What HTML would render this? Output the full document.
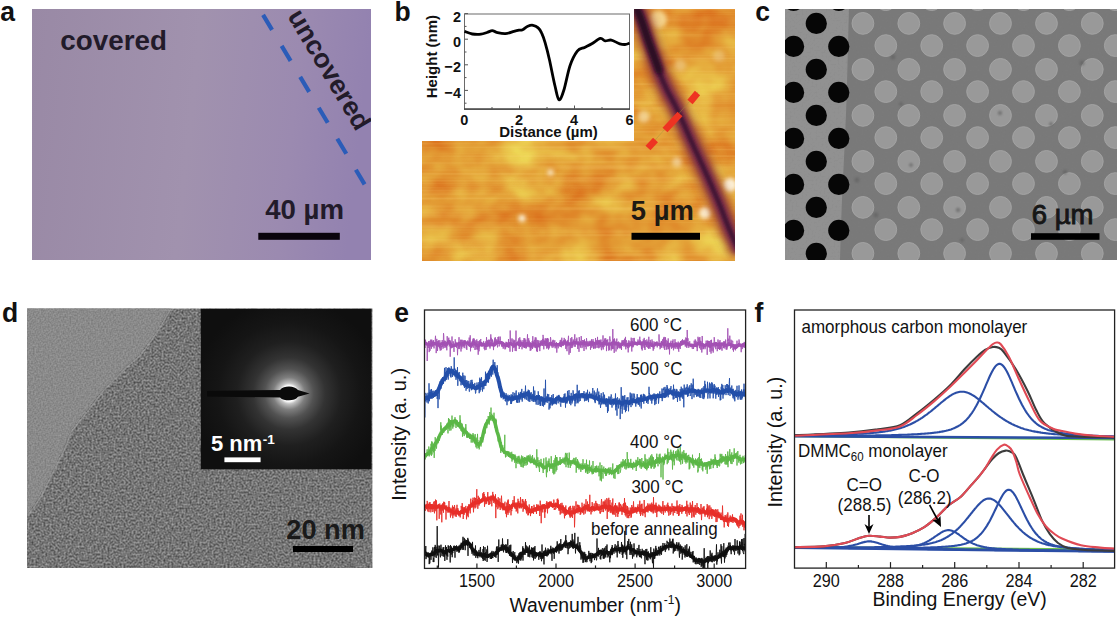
<!DOCTYPE html>
<html><head><meta charset="utf-8"><title>Figure</title>
<style>html,body{margin:0;padding:0;background:#fff;overflow:hidden}svg{display:block}text{font-family:"Liberation Sans",sans-serif}</style>
</head><body><svg width="1118" height="617" viewBox="0 0 1118 617" font-family="Liberation Sans, sans-serif"><defs><linearGradient id="ga" x1="0" y1="0" x2="1" y2="0.08">
<stop offset="0" stop-color="#9989a5"/><stop offset="0.5" stop-color="#a192ae"/><stop offset="0.8" stop-color="#9b8ab0"/><stop offset="1" stop-color="#9382b0"/></linearGradient><clipPath id="clipa"><rect x="32" y="9" width="339" height="251"/></clipPath><filter id="afm" x="0" y="0" width="100%" height="100%" color-interpolation-filters="sRGB">
<feTurbulence type="fractalNoise" baseFrequency="0.022 0.03" numOctaves="3" seed="11" result="t"/>
<feColorMatrix in="t" type="matrix" values="0.1 0 0 0 0.84  0.55 0 0 0 0.345  0.3 0 0 0 0.06  0 0 0 0 1"/>
</filter><filter id="streak" x="0" y="0" width="100%" height="100%" color-interpolation-filters="sRGB">
<feTurbulence type="fractalNoise" baseFrequency="0.004 0.45" numOctaves="1" seed="4" result="t"/>
<feColorMatrix in="t" type="matrix" values="0 0 0 0 1  0 0 0 0 0.85  0 0 0 0 0.5  2.5 0 0 0 -1.1"/>
</filter><clipPath id="clipb"><path d="M422,141H634V9H735V261H422Z"/></clipPath><filter id="bl2" x="-50%" y="-50%" width="200%" height="200%"><feGaussianBlur stdDeviation="2"/></filter><filter id="bl4" x="-50%" y="-50%" width="200%" height="200%"><feGaussianBlur stdDeviation="4"/></filter><filter id="bl1" x="-50%" y="-50%" width="200%" height="200%"><feGaussianBlur stdDeviation="1"/></filter><clipPath id="clipc"><rect x="785" y="9" width="332" height="251"/></clipPath><filter id="semn" x="0" y="0" width="100%" height="100%" color-interpolation-filters="sRGB">
<feTurbulence type="fractalNoise" baseFrequency="0.5" numOctaves="1" seed="2" result="t"/>
<feColorMatrix in="t" type="matrix" values="0 0 0 0 0.5  0 0 0 0 0.5  0 0 0 0 0.5  1.6 0 0 0 -0.8"/>
</filter><clipPath id="clipd"><rect x="27" y="308.4" width="345.4" height="259.6"/></clipPath><clipPath id="clipvac"><path d="M27,300 L172,300 L169.7,308 L156,331.7 L140,354 L124,368 L101.6,390.7 L88,408.8 L69.9,431.5 L63,449.7 L51.7,472 L40.4,495 L26.8,515.4 L20,517 Z"/></clipPath><filter id="grain" x="0" y="0" width="100%" height="100%" color-interpolation-filters="sRGB">
<feTurbulence type="fractalNoise" baseFrequency="0.5" numOctaves="2" seed="5" result="t"/>
<feColorMatrix in="t" type="matrix" values="0.55 0 0 0 0.185  0.55 0 0 0 0.185  0.55 0 0 0 0.185  0 0 0 0 1"/>
</filter><filter id="grain2" x="0" y="0" width="100%" height="100%" color-interpolation-filters="sRGB">
<feTurbulence type="fractalNoise" baseFrequency="0.6" numOctaves="1" seed="9" result="t"/>
<feColorMatrix in="t" type="matrix" values="0.22 0 0 0 0.43  0.22 0 0 0 0.43  0.22 0 0 0 0.43  0 0 0 0 1"/>
</filter><radialGradient id="glow" cx="289" cy="393.5" r="95" gradientUnits="userSpaceOnUse">
<stop offset="0" stop-color="#fff"/><stop offset="0.085" stop-color="#fafafa"/><stop offset="0.11" stop-color="#c0c0c0"/><stop offset="0.17" stop-color="#7e7e7e"/><stop offset="0.26" stop-color="#525252"/><stop offset="0.38" stop-color="#333"/><stop offset="0.55" stop-color="#1f1f1f"/><stop offset="0.75" stop-color="#151515"/><stop offset="1" stop-color="#0f0f0f"/></radialGradient><clipPath id="clipe"><rect x="424.5" y="310" width="321.1" height="258.4"/></clipPath><clipPath id="clipf"><rect x="794.5" y="310" width="320.1" height="258.1"/></clipPath></defs><rect width="1118" height="617" fill="#fff"/><text transform="translate(0.2,21) scale(1.0,1.05)" font-size="26.5" font-weight="bold" fill="#111" text-anchor="start" >a</text><text transform="translate(394.6,20.6) scale(1.0,1.05)" font-size="26.5" font-weight="bold" fill="#111" text-anchor="start" >b</text><text transform="translate(755.2,21) scale(1.0,1.05)" font-size="26.5" font-weight="bold" fill="#111" text-anchor="start" >c</text><text transform="translate(2,321.7) scale(1.0,1.05)" font-size="26.5" font-weight="bold" fill="#111" text-anchor="start" >d</text><text transform="translate(394.2,322.2) scale(1.0,1.05)" font-size="26.5" font-weight="bold" fill="#111" text-anchor="start" >e</text><text transform="translate(754.6,321.8) scale(1.0,1.05)" font-size="26.5" font-weight="bold" fill="#111" text-anchor="start" >f</text><rect x="32" y="9" width="339" height="251" fill="url(#ga)"/><text x="60.3" y="50.1" font-size="27.8" font-weight="bold" fill="#221b2a" text-anchor="start" >covered</text><line x1="262.3" y1="13.6" x2="364.6" y2="184.3" stroke="#2b5cb8" stroke-width="4.2" stroke-dasharray="17.5 18.6" stroke-dashoffset="-1.5"/><g clip-path="url(#clipa)"><text transform="translate(286.9,16.1) rotate(59.1)" font-size="26.8" font-weight="bold" fill="#221b2a">uncovered</text></g><rect x="258.3" y="232.8" width="81.5" height="7" fill="#0a040c"/><text x="265.2" y="219.3" font-size="27.6" font-weight="bold" fill="#221b2a" text-anchor="start" >40 µm</text><g clip-path="url(#clipb)"><rect x="422" y="9" width="313" height="252" fill="#e09a3a"/><rect x="422" y="9" width="313" height="252" filter="url(#afm)"/><rect x="422" y="9" width="313" height="252" filter="url(#streak)" opacity="0.25"/><circle cx="550.5" cy="172.6" r="3" fill="#fff8e0" opacity="0.9" filter="url(#bl2)"/><circle cx="522" cy="218.2" r="3.5" fill="#fffbe8" opacity="0.95" filter="url(#bl2)"/><circle cx="730" cy="185" r="7" fill="#fff8e8" opacity="0.9" filter="url(#bl2)"/><circle cx="705" cy="213" r="6" fill="#fff6dc" opacity="0.9" filter="url(#bl2)"/><circle cx="658" cy="19.5" r="9" fill="#f8e0a0" opacity="0.8" filter="url(#bl2)"/><circle cx="643.8" cy="116.7" r="6" fill="#f8e4b0" opacity="0.7" filter="url(#bl2)"/><circle cx="680" cy="65.6" r="6" fill="#f0d090" opacity="0.6" filter="url(#bl2)"/><circle cx="719" cy="56" r="6" fill="#f0d090" opacity="0.5" filter="url(#bl2)"/><circle cx="677" cy="162" r="5" fill="#f8e8c0" opacity="0.6" filter="url(#bl2)"/><path d="M636,6C636.5,7 637.7,8.5 639,12C640.3,15.5 642.2,21.5 644,27C645.8,32.5 648.2,39.5 650,45C651.8,50.5 653.3,55.2 655,60C656.7,64.8 658,69 660,74C662,79 664.5,84.8 667,90C669.5,95.2 672.5,100 675,105C677.5,110 679.7,114.8 682,120C684.3,125.2 686.2,129.7 689,136C691.8,142.3 695.7,150.7 699,158C702.3,165.3 705.7,172.5 709,180C712.3,187.5 715.8,195.3 719,203C722.2,210.7 725.2,219.2 728,226C730.8,232.8 734,239.7 736,244C738,248.3 739.3,250.7 740,252" fill="none" stroke="#9a4436" stroke-width="20" opacity="0.9" filter="url(#bl4)"/><path d="M636,6C636.5,7 637.7,8.5 639,12C640.3,15.5 642.2,21.5 644,27C645.8,32.5 648.2,39.5 650,45C651.8,50.5 653.3,55.2 655,60C656.7,64.8 658,69 660,74C662,79 664.5,84.8 667,90C669.5,95.2 672.5,100 675,105C677.5,110 679.7,114.8 682,120C684.3,125.2 686.2,129.7 689,136C691.8,142.3 695.7,150.7 699,158C702.3,165.3 705.7,172.5 709,180C712.3,187.5 715.8,195.3 719,203C722.2,210.7 725.2,219.2 728,226C730.8,232.8 734,239.7 736,244C738,248.3 739.3,250.7 740,252" fill="none" stroke="#7a2e46" stroke-width="12" filter="url(#bl2)"/><path d="M636,6C636.5,7 637.7,8.5 639,12C640.3,15.5 642.2,21.5 644,27C645.8,32.5 648.2,39.5 650,45C651.8,50.5 653.3,55.2 655,60C656.7,64.8 658,69 660,74C662,79 664.5,84.8 667,90C669.5,95.2 672.5,100 675,105C677.5,110 679.7,114.8 682,120C684.3,125.2 686.2,129.7 689,136C691.8,142.3 695.7,150.7 699,158C702.3,165.3 705.7,172.5 709,180C712.3,187.5 715.8,195.3 719,203C722.2,210.7 725.2,219.2 728,226C730.8,232.8 734,239.7 736,244C738,248.3 739.3,250.7 740,252" fill="none" stroke="#451636" stroke-width="5" filter="url(#bl1)"/><path d="M637,10C637.8,12 640.2,17 642,22C643.8,27 646,34.3 648,40C650,45.7 652.2,51 654,56C655.8,61 658.2,67.7 659,70" fill="none" stroke="#2a0a22" stroke-width="8" stroke-linecap="round" filter="url(#bl2)"/><line x1="648" y1="148" x2="698" y2="92" stroke="#a09040" stroke-width="0.6" opacity="0.7"/><line x1="648" y1="148" x2="655.5" y2="140" stroke="#ee3322" stroke-width="6.8"/><line x1="665" y1="130" x2="680" y2="114" stroke="#ee3322" stroke-width="6.8"/><line x1="690" y1="102" x2="697.5" y2="93" stroke="#ee3322" stroke-width="6.8"/></g><rect x="631.5" y="232.8" width="68.5" height="7" fill="#000"/><text x="630.8" y="220.4" font-size="27.4" font-weight="bold" fill="#1e1a14" text-anchor="start" >5 µm</text><rect x="464.5" y="14" width="165" height="95" fill="none" stroke="#6a6a6a" stroke-width="1"/><line x1="464" y1="109.2" x2="630" y2="109.2" stroke="#333" stroke-width="1.3"/><line x1="464.5" y1="13.6" x2="468" y2="13.6" stroke="#555" stroke-width="1"/><line x1="464.5" y1="26.4" x2="466.5" y2="26.4" stroke="#555" stroke-width="1"/><line x1="464.5" y1="39.2" x2="468" y2="39.2" stroke="#555" stroke-width="1"/><line x1="464.5" y1="52" x2="466.5" y2="52" stroke="#555" stroke-width="1"/><line x1="464.5" y1="64.8" x2="468" y2="64.8" stroke="#555" stroke-width="1"/><line x1="464.5" y1="77.6" x2="466.5" y2="77.6" stroke="#555" stroke-width="1"/><line x1="464.5" y1="90.4" x2="468" y2="90.4" stroke="#555" stroke-width="1"/><line x1="464.5" y1="103.2" x2="466.5" y2="103.2" stroke="#555" stroke-width="1"/><line x1="492" y1="109" x2="492" y2="107" stroke="#555" stroke-width="1"/><line x1="519.5" y1="109" x2="519.5" y2="105.5" stroke="#555" stroke-width="1"/><line x1="547" y1="109" x2="547" y2="107" stroke="#555" stroke-width="1"/><line x1="574.5" y1="109" x2="574.5" y2="105.5" stroke="#555" stroke-width="1"/><line x1="602" y1="109" x2="602" y2="107" stroke="#555" stroke-width="1"/><text transform="translate(461,22) scale(1.0,1.06)" font-size="14.5" font-weight="bold" fill="#111" text-anchor="end" >2</text><text transform="translate(461,46.5) scale(1.0,1.06)" font-size="14.5" font-weight="bold" fill="#111" text-anchor="end" >0</text><text transform="translate(461,72.1) scale(1.0,1.06)" font-size="14.5" font-weight="bold" fill="#111" text-anchor="end" >−2</text><text transform="translate(461,97.9) scale(1.0,1.06)" font-size="14.5" font-weight="bold" fill="#111" text-anchor="end" >−4</text><text transform="translate(464.3,125.4) scale(1.0,1.06)" font-size="14.5" font-weight="bold" fill="#111" text-anchor="middle" >0</text><text transform="translate(519,125.4) scale(1.0,1.06)" font-size="14.5" font-weight="bold" fill="#111" text-anchor="middle" >2</text><text transform="translate(574,125.4) scale(1.0,1.06)" font-size="14.5" font-weight="bold" fill="#111" text-anchor="middle" >4</text><text transform="translate(629.5,125.4) scale(1.0,1.06)" font-size="14.5" font-weight="bold" fill="#111" text-anchor="middle" >6</text><text x="548.5" y="137.4" font-size="15" font-weight="bold" fill="#111" text-anchor="middle" >Distance (µm)</text><text transform="translate(437.3,56.6) rotate(-90)" font-size="15" font-weight="bold" fill="#111" text-anchor="middle">Height (nm)</text><path d="M464.5,31.4C465.8,31.8 469.6,33.5 472.3,34C475.1,34.5 478.6,34.5 481,34.2C483.4,34 485.1,33.1 487,32.5C488.9,31.9 490.7,30.6 492.3,30.6C493.9,30.6 494.4,31.8 496.6,32.3C498.8,32.8 502.4,33.8 505.3,33.6C508.2,33.5 511.6,32 513.9,31.4C516.2,30.8 517.5,30.5 519,30.2C520.5,29.9 521.1,30.4 522.6,29.7C524.1,29 526.1,26.9 527.8,26.2C529.5,25.5 531.3,25 533,25.3C534.7,25.6 536.8,26.6 538.2,27.9C539.7,29.2 540.6,30.6 541.7,33.1C542.9,35.6 543.8,38.2 545.1,42.7C546.4,47.2 547.9,52.8 549.5,60C551.1,67.2 553.4,79.4 555,86C556.6,92.6 557.5,99 559,99.7C560.5,100.4 562.1,95.7 563.9,90C565.7,84.3 567.8,72.2 570,65.7C572.2,59.2 574.9,54.2 577.3,51.1C579.7,48 582.2,48.6 584.6,47.4C587,46.2 589.2,45.3 591.8,43.8C594.4,42.3 598.2,38.9 600.4,38.4C602.6,37.9 603.4,40.6 605.2,40.9C607,41.2 608.9,39.6 611.3,40.1C613.7,40.6 617.5,43.1 619.8,43.8C622.1,44.5 623.4,44.6 625,44.5C626.6,44.4 628.8,43.4 629.5,43.2" fill="none" stroke="#000" stroke-width="2.8" stroke-linejoin="round"/><g clip-path="url(#clipc)"><rect x="785" y="9" width="332" height="251" fill="#797979"/><path d="M785,9H849C848,40 847.5,70 846.5,100C845.5,130 843.5,170 842,200C841,225 840.5,245 840,260H785Z" fill="#919191"/><rect x="785" y="9" width="332" height="251" filter="url(#semn)" opacity="0.45"/><circle cx="793.6" cy="0.4" r="10.6" fill="#060606"/><circle cx="793.6" cy="46.4" r="10.6" fill="#060606"/><circle cx="793.6" cy="92.4" r="10.6" fill="#060606"/><circle cx="793.6" cy="138.4" r="10.6" fill="#060606"/><circle cx="793.6" cy="184.4" r="10.6" fill="#060606"/><circle cx="793.6" cy="230.4" r="10.6" fill="#060606"/><circle cx="793.6" cy="276.4" r="10.6" fill="#060606"/><circle cx="816.3" cy="23.4" r="10.6" fill="#060606"/><circle cx="816.3" cy="69.4" r="10.6" fill="#060606"/><circle cx="816.3" cy="115.4" r="10.6" fill="#060606"/><circle cx="816.3" cy="161.4" r="10.6" fill="#060606"/><circle cx="816.3" cy="207.4" r="10.6" fill="#060606"/><circle cx="816.3" cy="253.4" r="10.6" fill="#060606"/><circle cx="838.8" cy="0.4" r="10.6" fill="#060606"/><circle cx="838.8" cy="46.4" r="10.6" fill="#060606"/><circle cx="838.8" cy="92.4" r="10.6" fill="#060606"/><circle cx="838.8" cy="138.4" r="10.6" fill="#060606"/><circle cx="838.8" cy="184.4" r="10.6" fill="#060606"/><circle cx="838.8" cy="230.4" r="10.6" fill="#060606"/><circle cx="838.8" cy="276.4" r="10.6" fill="#060606"/><circle cx="862.9" cy="23.4" r="10.9" fill="#999999" stroke="#a5a5a5" stroke-width="0.9"/><circle cx="862.9" cy="69.4" r="10.9" fill="#999999" stroke="#a5a5a5" stroke-width="0.9"/><circle cx="862.9" cy="115.4" r="10.9" fill="#999999" stroke="#a5a5a5" stroke-width="0.9"/><circle cx="862.9" cy="161.4" r="10.9" fill="#999999" stroke="#a5a5a5" stroke-width="0.9"/><circle cx="862.9" cy="207.4" r="10.9" fill="#999999" stroke="#a5a5a5" stroke-width="0.9"/><circle cx="862.9" cy="253.4" r="10.9" fill="#999999" stroke="#a5a5a5" stroke-width="0.9"/><circle cx="885.8" cy="-0.4" r="10.9" fill="#999999" stroke="#a5a5a5" stroke-width="0.9"/><circle cx="885.8" cy="45.6" r="10.9" fill="#999999" stroke="#a5a5a5" stroke-width="0.9"/><circle cx="885.8" cy="91.6" r="10.9" fill="#999999" stroke="#a5a5a5" stroke-width="0.9"/><circle cx="885.8" cy="137.6" r="10.9" fill="#999999" stroke="#a5a5a5" stroke-width="0.9"/><circle cx="885.8" cy="183.6" r="10.9" fill="#999999" stroke="#a5a5a5" stroke-width="0.9"/><circle cx="885.8" cy="229.6" r="10.9" fill="#999999" stroke="#a5a5a5" stroke-width="0.9"/><circle cx="885.8" cy="275.6" r="10.9" fill="#999999" stroke="#a5a5a5" stroke-width="0.9"/><circle cx="908.8" cy="23.4" r="10.9" fill="#999999" stroke="#a5a5a5" stroke-width="0.9"/><circle cx="908.8" cy="69.4" r="10.9" fill="#999999" stroke="#a5a5a5" stroke-width="0.9"/><circle cx="908.8" cy="115.4" r="10.9" fill="#999999" stroke="#a5a5a5" stroke-width="0.9"/><circle cx="908.8" cy="161.4" r="10.9" fill="#999999" stroke="#a5a5a5" stroke-width="0.9"/><circle cx="908.8" cy="207.4" r="10.9" fill="#999999" stroke="#a5a5a5" stroke-width="0.9"/><circle cx="908.8" cy="253.4" r="10.9" fill="#999999" stroke="#a5a5a5" stroke-width="0.9"/><circle cx="931.7" cy="-0.4" r="10.9" fill="#999999" stroke="#a5a5a5" stroke-width="0.9"/><circle cx="931.7" cy="45.6" r="10.9" fill="#999999" stroke="#a5a5a5" stroke-width="0.9"/><circle cx="931.7" cy="91.6" r="10.9" fill="#999999" stroke="#a5a5a5" stroke-width="0.9"/><circle cx="931.7" cy="137.6" r="10.9" fill="#999999" stroke="#a5a5a5" stroke-width="0.9"/><circle cx="931.7" cy="183.6" r="10.9" fill="#999999" stroke="#a5a5a5" stroke-width="0.9"/><circle cx="931.7" cy="229.6" r="10.9" fill="#999999" stroke="#a5a5a5" stroke-width="0.9"/><circle cx="931.7" cy="275.6" r="10.9" fill="#999999" stroke="#a5a5a5" stroke-width="0.9"/><circle cx="954.6" cy="23.4" r="10.9" fill="#999999" stroke="#a5a5a5" stroke-width="0.9"/><circle cx="954.6" cy="69.4" r="10.9" fill="#999999" stroke="#a5a5a5" stroke-width="0.9"/><circle cx="954.6" cy="115.4" r="10.9" fill="#999999" stroke="#a5a5a5" stroke-width="0.9"/><circle cx="954.6" cy="161.4" r="10.9" fill="#999999" stroke="#a5a5a5" stroke-width="0.9"/><circle cx="954.6" cy="207.4" r="10.9" fill="#999999" stroke="#a5a5a5" stroke-width="0.9"/><circle cx="954.6" cy="253.4" r="10.9" fill="#999999" stroke="#a5a5a5" stroke-width="0.9"/><circle cx="977.6" cy="-0.4" r="10.9" fill="#999999" stroke="#a5a5a5" stroke-width="0.9"/><circle cx="977.6" cy="45.6" r="10.9" fill="#999999" stroke="#a5a5a5" stroke-width="0.9"/><circle cx="977.6" cy="91.6" r="10.9" fill="#999999" stroke="#a5a5a5" stroke-width="0.9"/><circle cx="977.6" cy="137.6" r="10.9" fill="#999999" stroke="#a5a5a5" stroke-width="0.9"/><circle cx="977.6" cy="183.6" r="10.9" fill="#999999" stroke="#a5a5a5" stroke-width="0.9"/><circle cx="977.6" cy="229.6" r="10.9" fill="#999999" stroke="#a5a5a5" stroke-width="0.9"/><circle cx="977.6" cy="275.6" r="10.9" fill="#999999" stroke="#a5a5a5" stroke-width="0.9"/><circle cx="1000.5" cy="23.4" r="10.9" fill="#999999" stroke="#a5a5a5" stroke-width="0.9"/><circle cx="1000.5" cy="69.4" r="10.9" fill="#999999" stroke="#a5a5a5" stroke-width="0.9"/><circle cx="1000.5" cy="115.4" r="10.9" fill="#999999" stroke="#a5a5a5" stroke-width="0.9"/><circle cx="1000.5" cy="161.4" r="10.9" fill="#999999" stroke="#a5a5a5" stroke-width="0.9"/><circle cx="1000.5" cy="207.4" r="10.9" fill="#999999" stroke="#a5a5a5" stroke-width="0.9"/><circle cx="1000.5" cy="253.4" r="10.9" fill="#999999" stroke="#a5a5a5" stroke-width="0.9"/><circle cx="1023.5" cy="-0.4" r="10.9" fill="#999999" stroke="#a5a5a5" stroke-width="0.9"/><circle cx="1023.5" cy="45.6" r="10.9" fill="#999999" stroke="#a5a5a5" stroke-width="0.9"/><circle cx="1023.5" cy="91.6" r="10.9" fill="#999999" stroke="#a5a5a5" stroke-width="0.9"/><circle cx="1023.5" cy="137.6" r="10.9" fill="#999999" stroke="#a5a5a5" stroke-width="0.9"/><circle cx="1023.5" cy="183.6" r="10.9" fill="#999999" stroke="#a5a5a5" stroke-width="0.9"/><circle cx="1023.5" cy="229.6" r="10.9" fill="#999999" stroke="#a5a5a5" stroke-width="0.9"/><circle cx="1023.5" cy="275.6" r="10.9" fill="#999999" stroke="#a5a5a5" stroke-width="0.9"/><circle cx="1046.5" cy="23.4" r="10.9" fill="#999999" stroke="#a5a5a5" stroke-width="0.9"/><circle cx="1046.5" cy="69.4" r="10.9" fill="#999999" stroke="#a5a5a5" stroke-width="0.9"/><circle cx="1046.5" cy="115.4" r="10.9" fill="#999999" stroke="#a5a5a5" stroke-width="0.9"/><circle cx="1046.5" cy="161.4" r="10.9" fill="#999999" stroke="#a5a5a5" stroke-width="0.9"/><circle cx="1046.5" cy="207.4" r="10.9" fill="#999999" stroke="#a5a5a5" stroke-width="0.9"/><circle cx="1046.5" cy="253.4" r="10.9" fill="#999999" stroke="#a5a5a5" stroke-width="0.9"/><circle cx="1069.4" cy="-0.4" r="10.9" fill="#999999" stroke="#a5a5a5" stroke-width="0.9"/><circle cx="1069.4" cy="45.6" r="10.9" fill="#999999" stroke="#a5a5a5" stroke-width="0.9"/><circle cx="1069.4" cy="91.6" r="10.9" fill="#999999" stroke="#a5a5a5" stroke-width="0.9"/><circle cx="1069.4" cy="137.6" r="10.9" fill="#999999" stroke="#a5a5a5" stroke-width="0.9"/><circle cx="1069.4" cy="183.6" r="10.9" fill="#999999" stroke="#a5a5a5" stroke-width="0.9"/><circle cx="1069.4" cy="229.6" r="10.9" fill="#999999" stroke="#a5a5a5" stroke-width="0.9"/><circle cx="1069.4" cy="275.6" r="10.9" fill="#999999" stroke="#a5a5a5" stroke-width="0.9"/><circle cx="1092.3" cy="23.4" r="10.9" fill="#999999" stroke="#a5a5a5" stroke-width="0.9"/><circle cx="1092.3" cy="69.4" r="10.9" fill="#999999" stroke="#a5a5a5" stroke-width="0.9"/><circle cx="1092.3" cy="115.4" r="10.9" fill="#999999" stroke="#a5a5a5" stroke-width="0.9"/><circle cx="1092.3" cy="161.4" r="10.9" fill="#999999" stroke="#a5a5a5" stroke-width="0.9"/><circle cx="1092.3" cy="207.4" r="10.9" fill="#999999" stroke="#a5a5a5" stroke-width="0.9"/><circle cx="1092.3" cy="253.4" r="10.9" fill="#999999" stroke="#a5a5a5" stroke-width="0.9"/><circle cx="1115.3" cy="-0.4" r="10.9" fill="#999999" stroke="#a5a5a5" stroke-width="0.9"/><circle cx="1115.3" cy="45.6" r="10.9" fill="#999999" stroke="#a5a5a5" stroke-width="0.9"/><circle cx="1115.3" cy="91.6" r="10.9" fill="#999999" stroke="#a5a5a5" stroke-width="0.9"/><circle cx="1115.3" cy="137.6" r="10.9" fill="#999999" stroke="#a5a5a5" stroke-width="0.9"/><circle cx="1115.3" cy="183.6" r="10.9" fill="#999999" stroke="#a5a5a5" stroke-width="0.9"/><circle cx="1115.3" cy="229.6" r="10.9" fill="#999999" stroke="#a5a5a5" stroke-width="0.9"/><circle cx="1115.3" cy="275.6" r="10.9" fill="#999999" stroke="#a5a5a5" stroke-width="0.9"/><circle cx="893" cy="57" r="2.5" fill="#5e5e5e" opacity="0.6" filter="url(#bl1)"/><circle cx="1000" cy="113" r="2.2" fill="#5e5e5e" opacity="0.6" filter="url(#bl1)"/><circle cx="901" cy="104" r="2" fill="#5e5e5e" opacity="0.6" filter="url(#bl1)"/><circle cx="958" cy="210" r="2.3" fill="#5e5e5e" opacity="0.6" filter="url(#bl1)"/><circle cx="1082" cy="63" r="2.5" fill="#5e5e5e" opacity="0.6" filter="url(#bl1)"/><circle cx="962" cy="240" r="2" fill="#5e5e5e" opacity="0.6" filter="url(#bl1)"/><circle cx="1065" cy="172" r="2.2" fill="#5e5e5e" opacity="0.6" filter="url(#bl1)"/><circle cx="911" cy="165" r="2" fill="#5e5e5e" opacity="0.6" filter="url(#bl1)"/><circle cx="857" cy="180" r="2.5" fill="#5e5e5e" opacity="0.6" filter="url(#bl1)"/><circle cx="876" cy="215" r="2.5" fill="#5e5e5e" opacity="0.6" filter="url(#bl1)"/><circle cx="1051" cy="124" r="2" fill="#5e5e5e" opacity="0.6" filter="url(#bl1)"/></g><rect x="1031" y="233.2" width="68.5" height="6.6" fill="#000"/><text x="1031.8" y="224" font-size="27.5" fill="#161616" text-anchor="start" stroke="#161616" stroke-width="0.9">6 µm</text><g clip-path="url(#clipd)"><rect x="27" y="308" width="346" height="261" filter="url(#grain)"/><g clip-path="url(#clipvac)"><rect x="27" y="308" width="150" height="210" filter="url(#grain2)"/></g><path d="M170.9,308.6 L157.2,332.3 L141.2,354.6 L125.2,368.6 L102.8,391.3 L89.2,409.4 L71.1,432.1 L64.2,450.3 L52.9,472.6 L41.6,495.6 L28,516" fill="none" stroke="#a4a4a4" stroke-width="1.5" opacity="0.6"/></g><rect x="200.8" y="308.8" width="170.7" height="160.5" fill="url(#glow)"/><path d="M207,391 L280,390 C282,387.2 285.5,386.6 289,386.6 C293,386.6 296,387.8 298,390 L309.6,393.4 L298,396.8 C296,399.4 293,400.3 289,400.3 C285.5,400.3 282,399.6 280,397.4 L207,396.6 Z" fill="#0a0a0a"/><text x="211" y="451.3" font-size="22" font-weight="bold" fill="#fff" text-anchor="start" >5 nm<tspan font-size="13.5" dy="-7.8" dx="0.5">-1</tspan></text><rect x="224.4" y="457.4" width="36.2" height="4.8" fill="#fff"/><rect x="293" y="546" width="60" height="6" fill="#000"/><text x="286.3" y="538.7" font-size="27.2" font-weight="bold" fill="#1a1a1a" text-anchor="start" >20 nm</text><g clip-path="url(#clipe)"><path d="M425,343.1l1,0.3l1,0.5l1,0.8l1,-0.2l1,0l1,0l1,-0.9l1,-0.3l1,0.3l1,0l1,0.4l1,0.8l1,0l1,-0.1l1,-0.2l1,-0.4l1,-0.5l1,-0.2l1,0.2l1,0.8l1,0.8l1,-1.2l1,-1.6l1,-1l1,2l1,1.7l1,0.7l1,-0.1l1,-0.2l1,-0.3l1,-0.5l1,-0.4l1,-0.3l1,-0.7l1,0.1l1,0.8l1,0.1l1,-0.7l1,-1.1l1,0.2l1,0.3l1,0.1l1,-0.1l1,0.7l1,1.6l1,0.6l1,-1.3l1,-2.4l1,0.8l1,1l1,0.8l1,0.6l1,0.3l1,-0.2l1,-1.7l1,-0.5l1,1.1l1,-0.1l1,0.3l1,0.8l1,0l1,-0.9l1,-1.1l1,1.4l1,0.1l1,-1.2l1,0.7l1,0.5l1,-0.1l1,-0.4l1,-1l1,-1.3l1,0.1l1,0.2l1,0l1,0.5l1,0.3l1,0.2l1,1.2l1,0.5l1,-0.2l1,0.5l1,-0.4l1,-1.2l1,-0.3l1,0.3l1,0.7l1,0.5l1,0.2l1,-0.1l1,-0.5l1,-0.8l1,-0.6l1,1.4l1,0.3l1,-0.9l1,-0.4l1,0.5l1,1l1,-0.2l1,-0.6l1,-0.5l1,0.5l1,0.2l1,-0.4l1,0.8l1,0.1l1,-0.6l1,-0.8l1,0.5l1,1.7l1,0.3l1,-0.4l1,-0.6l1,-0.4l1,-0.7l1,-0.9l1,-0.1l1,-0.2l1,-0.4l1,1l1,1l1,0.6l1,-0.5l1,-0.6l1,-0.3l1,0.4l1,0.1l1,-0.1l1,0.3l1,0.2l1,0.1l1,0l1,0.1l1,0.1l1,-0.9l1,-0.1l1,0.6l1,-1.4l1,-0.4l1,0.7l1,0l1,0.3l1,0.4l1,-0.1l1,0l1,0.2l1,-1.1l1,-0.5l1,0.3l1,-0.1l1,0.2l1,0.7l1,0.3l1,0l1,-0.3l1,-0.2l1,-0.2l1,-0.2l1,0.2l1,0.4l1,0.4l1,0.5l1,0l1,-0.4l1,-0.7l1,-0.5l1,-0.1l1,0.9l1,0.1l1,-0.7l1,0.2l1,-0.6l1,-1.1l1,1.3l1,0.9l1,0l1,-0.3l1,-0.2l1,0.2l1,0.5l1,0.2l1,-0.2l1,0.1l1,0.1l1,-0.1l1,-0.7l1,-0.8l1,-0.6l1,1.3l1,0.5l1,-0.4l1,0.9l1,0.7l1,0.3l1,-0.7l1,-0.6l1,-0.4l1,-0.3l1,0.5l1,1.3l1,-0.3l1,-0.4l1,-0.3l1,0.6l1,-0.2l1,-0.9l1,-0.2l1,-0.1l1,-0.1l1,0.4l1,-0.2l1,-0.6l1,0l1,0.3l1,0.5l1,-0.4l1,-0.4l1,-0.1l1,0.8l1,0.1l1,-0.5l1,0.1l1,0.6l1,0.6l1,-0.1l1,0.5l1,1l1,-0.5l1,-1l1,-1l1,0.4l1,0.4l1,0.2l1,0.5l1,-0.3l1,-1.2l1,0.1l1,0.7l1,0.8l1,-0.1l1,0.2l1,0.4l1,-0.8l1,-0.3l1,0.4l1,-0.2l1,0.4l1,0.8l1,-1.1l1,-0.2l1,0.9l1,-0.2l1,-0.2l1,-0.2l1,-0.5l1,-0.5l1,-0.4l1,-0.6l1,0.2l1,0.8l1,-0.4l1,0.4l1,1.1l1,0.2l1,0l1,0.1l1,0.5l1,-0.1l1,-0.5l1,0.4l1,-0.5l1,-1.3l1,-0.2l1,0.6l1,0.9l1,-0.3l1,0.4l1,0.9l1,-0.3l1,-0.7l1,-0.7l1,0.9l1,0.4l1,-0.3l1,-0.4l1,-0.1l1,-0.1l1,-0.5l1,-0.2l1,0.1l1,0.8l1,0l1,-0.5l1,0l1,-0.1l1,-0.3l1,0.2l1,0.5l1,0.4l1,0.3l1,-0.1l1,-0.4l1,-0.5l1,0l1,0.4l1,0.6l1,0.3l1,0.1l1,1.4l1,0.3l1,-1.1l1,-0.8l1,-0.5l1,-0.2l1,0.7l1,-0.1l1,-0.8l1,0.1l1,-0.4l1,-0.8" fill="none" stroke="#a452b4" stroke-width="3.2" stroke-linejoin="round"/><path d="M425,347.2l0.2,0.6l0.3,-8.1l0.3,3.7l0.2,0.6l0.2,-0.1l0.3,-0.3l0.3,-0.1l0.2,1.5l0.2,16l0.3,-12.7l0.3,-3.1l0.2,1l0.2,1.8l0.3,-6.8l0.3,4.8l0.2,-0.8l0.2,6.9l0.3,-5.6l0.3,-5.6l0.2,9.9l0.2,-6.6l0.3,-0.5l0.3,-4.1l0.2,7.2l0.2,-6.6l0.3,8.5l0.3,-9l0.2,6.2l0.2,-2l0.3,1.2l0.3,1.7l0.2,-6l0.2,5l0.3,-5.5l0.3,2.3l0.2,5.8l0.2,-3.4l0.3,-2.9l0.3,2.7l0.2,-0.7l0.2,-4.4l0.3,-3.9l0.3,7.4l0.2,0.4l0.2,9.5l0.3,-7.4l0.3,-6.8l0.2,7.3l0.2,-4.9l0.3,9.7l0.3,-3.9l0.2,-6l0.2,3.6l0.3,-4.3l0.3,3.2l0.2,3.4l0.2,-1.9l0.3,3.2l0.3,-8.1l0.2,4.1l0.2,6.3l0.3,-5.7l0.3,-0.6l0.2,3.2l0.2,2.7l0.3,-4.2l0.3,1.1l0.2,-4.3l0.2,-2.7l0.3,6.5l0.3,-2.7l0.2,4.8l0.2,-0.9l0.3,-14.6l0.3,2.3l0.2,11.2l0.2,1.1l0.3,-5.7l0.3,-1.6l0.2,5l0.2,-4.5l0.3,0.7l0.3,6l0.2,0l0.2,-1.7l0.3,-3.4l0.3,7.7l0.2,-6.5l0.2,-7.6l0.3,7.6l0.3,-1.6l0.2,-1.6l0.2,0.5l0.3,-0.6l0.3,-2.8l0.2,5l0.2,3.6l0.3,-0.4l0.3,-0.2l0.2,-5.2l0.2,16.2l0.3,-11.3l0.3,2.2l0.2,-3.7l0.2,3.3l0.3,1l0.3,-3.8l0.2,-7.9l0.2,10.2l0.3,0.8l0.3,-0.8l0.2,-0.8l0.2,-4.6l0.3,2.8l0.3,3.7l0.2,4.1l0.2,-8.3l0.3,3.4l0.3,-1.1l0.2,0.8l0.2,-7.4l0.3,6.3l0.3,-3.8l0.2,5.1l0.2,-1.1l0.3,1.8l0.3,-4.9l0.2,1.8l0.2,-0.7l0.3,11.4l0.3,-6.7l0.2,-1.1l0.2,-3.7l0.3,0.3l0.3,4.8l0.2,-11.6l0.2,11.9l0.3,-6l0.3,3.8l0.2,-3l0.2,-0.1l0.3,-2.8l0.3,-1.3l0.2,11.8l0.2,-11.6l0.3,5.4l0.3,3.3l0.2,-6.1l0.2,-2.7l0.3,3.4l0.3,2.9l0.2,0.9l0.2,-4.1l0.3,3l0.3,-4.4l0.2,-1.5l0.2,8.1l0.3,-7.6l0.3,5.6l0.2,-3.3l0.2,1.5l0.3,-3.9l0.3,2.2l0.2,-1l0.2,6.9l0.3,-3.3l0.3,4.7l0.2,-4.9l0.2,-2.5l0.3,1.8l0.3,-3.8l0.2,4.8l0.2,-3.6l0.3,2.1l0.3,-0.9l0.2,3.2l0.2,-8.5l0.3,6.3l0.3,-0.8l0.2,1.1l0.2,-8.9l0.3,16l0.3,-6.8l0.2,3.5l0.2,-5l0.3,2.6l0.3,0.3l0.2,-2.3l0.2,-0.2l0.3,1.5l0.3,-0.6l0.2,-5.6l0.2,9.1l0.3,-9.2l0.3,3.4l0.2,-1l0.2,-2.4l0.3,2.7l0.3,2.8l0.2,5.9l0.2,-9.7l0.3,5.3l0.3,-0.6l0.2,2.7l0.2,1.8l0.3,-6.6l0.3,-3.5l0.2,5.6l0.2,-3.8l0.3,8.4l0.3,-5l0.2,1.9l0.2,8.2l0.3,-11.1l0.3,-2.5l0.2,10.2l0.2,-1.6l0.3,-3.3l0.3,-6.3l0.2,5.4l0.2,-2.6l0.3,-2.4l0.3,-1.5l0.2,7.4l0.2,-3.3l0.3,2.3l0.3,1.2l0.2,-0.7l0.2,-1.9l0.3,2.4l0.3,-0.2l0.2,0.2l0.2,-2l0.3,-3.1l0.3,0l0.2,2.5l0.2,5l0.3,-3.7l0.3,5.1l0.2,-0.8l0.2,-4.6l0.3,1.2l0.3,-4.6l0.2,8.5l0.2,-0.9l0.3,-11.8l0.3,5.4l0.2,4.4l0.2,0l0.3,-6.3l0.3,2.6l0.2,-3.2l0.2,4.7l0.3,0.1l0.3,-5.3l0.2,1.8l0.2,5.2l0.3,-6.7l0.3,1.5l0.2,7.1l0.2,-4.2l0.3,-0.5l0.3,-9.4l0.2,6.4l0.2,-3l0.3,3.5l0.3,5l0.2,-6.4l0.2,2.1l0.3,-2.5l0.3,5.6l0.2,-2.4l0.2,-0.1l0.3,7.5l0.3,-7.4l0.2,3.9l0.2,-5.9l0.3,2.2l0.3,-4.7l0.2,8l0.2,-9l0.3,1.5l0.3,4.7l0.2,-0.4l0.2,-0.6l0.3,-1l0.3,-2.1l0.2,3.4l0.2,1.4l0.3,3.3l0.3,-2.6l0.2,-7.8l0.2,4.9l0.3,-0.9l0.3,-4.4l0.2,6.2l0.2,3.6l0.3,-2.1l0.3,-4l0.2,-1.5l0.2,-2.2l0.3,4l0.3,0.2l0.2,2.5l0.2,-2.3l0.3,5.5l0.3,-3.9l0.2,-1.4l0.2,0.4l0.3,4.9l0.3,0.6l0.2,-3.4l0.2,5l0.3,-2.3l0.3,-0.1l0.2,-1.3l0.2,0.9l0.3,-0.6l0.3,0.7l0.2,3.4l0.2,-5.3l0.3,4.5l0.3,-0.4l0.2,-6.4l0.2,3.3l0.3,1.5l0.3,-4.5l0.2,2.7l0.2,-2.1l0.3,3.7l0.3,-1.1l0.2,-1.6l0.2,3.8l0.3,-8.5l0.3,8.9l0.2,-3.7l0.2,-0.9l0.3,3.2l0.3,-1.9l0.2,7.1l0.2,-21.2l0.3,13.5l0.3,-1.2l0.2,1.6l0.2,0l0.3,-2.6l0.3,-3.1l0.2,0.1l0.2,-0.3l0.3,13.2l0.3,-4l0.2,-6l0.2,-2.2l0.3,3.6l0.3,4.7l0.2,-6.8l0.2,6.4l0.3,-3.1l0.3,-4.4l0.2,9.4l0.2,1.6l0.3,-4.7l0.3,-1l0.2,-14.6l0.2,20.5l0.3,-8.5l0.3,2l0.2,-0.3l0.2,-1.3l0.3,1.3l0.3,-2.4l0.2,1l0.2,-2.3l0.3,5.3l0.3,-7.6l0.2,6.4l0.2,4.3l0.3,-2.2l0.3,-9.5l0.2,5.6l0.2,-1.1l0.3,5.1l0.3,-7l0.2,5.4l0.2,-3.8l0.3,0.8l0.3,1.2l0.2,5.8l0.2,-4.1l0.3,-2.4l0.3,3.9l0.2,-6.5l0.2,4.2l0.3,-2.5l0.3,5.6l0.2,-9.4l0.2,8l0.3,1.9l0.3,-9.7l0.2,9.2l0.2,0.2l0.3,-2l0.3,-6.1l0.2,9l0.2,-6.1l0.3,5.4l0.3,-4.6l0.2,-1.1l0.2,-2.2l0.3,-5.7l0.3,12.6l0.2,-5l0.2,1.9l0.3,-5l0.3,-0.6l0.2,9l0.2,-6.6l0.3,6.6l0.3,-2.7l0.2,-1.8l0.2,8.1l0.3,-3.8l0.3,-4.5l0.2,7.8l0.2,-7.2l0.3,4.5l0.3,-2.5l0.2,0.4l0.2,-4.4l0.3,7.9l0.3,-12.8l0.2,10.4l0.2,-5.2l0.3,2.5l0.3,-0.4l0.2,4.1l0.2,-7.6l0.3,-0.1l0.3,2.1l0.2,5.4l0.2,-10l0.3,6.7l0.3,4l0.2,-10.6l0.2,5.8l0.3,8l0.3,-5.4l0.2,-6l0.2,10.4l0.3,1.5l0.3,-10.3l0.2,-1.3l0.2,6.6l0.3,-4.3l0.3,3.1l0.2,-5l0.2,7l0.3,-3.1l0.3,6.6l0.2,-3.9l0.2,-2.7l0.3,-1.3l0.3,-2.2l0.2,2.2l0.2,-3.1l0.3,4.8l0.3,-0.8l0.2,1.4l0.2,-2.1l0.3,-4.6l0.3,7.2l0.2,-11.1l0.2,1.3l0.3,2.4l0.3,10.7l0.2,-9.7l0.2,1.9l0.3,0.7l0.3,2.8l0.2,0.9l0.2,-7.7l0.3,0.9l0.3,7l0.2,-1.4l0.2,-1.9l0.3,-4.1l0.3,10l0.2,-10.1l0.2,9.3l0.3,-9.9l0.3,7.2l0.2,-0.1l0.2,-6.5l0.3,10.9l0.3,-5.2l0.2,-0.3l0.2,4.3l0.3,-2.9l0.3,-3.3l0.2,0.4l0.2,2.2l0.3,-7.6l0.3,1.9l0.2,6.6l0.2,0.7l0.3,-2.8l0.3,2.6l0.2,-4.4l0.2,6.1l0.3,-6.7l0.3,-0.7l0.2,2l0.2,-2.6l0.3,2.7l0.3,4.9l0.2,-1.8l0.2,0.4l0.3,-3.1l0.3,-2.6l0.2,5.3l0.2,2.7l0.3,-3.2l0.3,-0.6l0.2,2l0.2,-0.8l0.3,-3.5l0.3,10.4l0.2,-8.8l0.2,2.4l0.3,-2.4l0.3,0l0.2,3l0.2,1.5l0.3,-2l0.3,-1.3l0.2,-1.8l0.2,-0.2l0.3,-0.9l0.3,2.5l0.2,1.7l0.2,-6l0.3,6.4l0.3,-4.9l0.2,-2l0.2,3.1l0.3,4.3l0.3,-9.5l0.2,4.1l0.2,2.1l0.3,-2l0.3,1.8l0.2,-2.6l0.2,3.6l0.3,-3.1l0.3,-1.5l0.2,1.1l0.2,-3.3l0.3,3.8l0.3,-1l0.2,3.5l0.2,-3l0.3,-1.7l0.3,9.4l0.2,-8.1l0.2,4.9l0.3,-2.9l0.3,5.3l0.2,3.1l0.2,-7.4l0.3,-3.4l0.3,5.9l0.2,-1.9l0.2,-5l0.3,-3.6l0.3,10.5l0.2,8.4l0.2,-8.2l0.3,-1.2l0.3,-0.3l0.2,-2.3l0.2,10.2l0.3,-7.2l0.3,-7.5l0.2,6l0.2,3.9l0.3,-2.8l0.3,-8.2l0.2,4.3l0.2,6.4l0.3,-1l0.3,-2.3l0.2,-0.2l0.2,-4.8l0.3,1.9l0.3,0.9l0.2,2.3l0.2,2l0.3,-8.7l0.3,-3.6l0.2,4l0.2,8.5l0.3,-1.7l0.3,-0.7l0.2,-1l0.2,-4.2l0.3,4.2l0.3,-5.7l0.2,1.2l0.2,3.1l0.3,3.1l0.3,3.9l0.2,-3.6l0.2,-0.8l0.3,0l0.3,-3.3l0.2,10.5l0.2,-14.7l0.3,3.4l0.3,-0.5l0.2,3.6l0.2,0.4l0.3,3.6l0.3,-6.6l0.2,3.7l0.2,-8.6l0.3,4.1l0.3,1.3l0.2,6.6l0.2,-6.8l0.3,-0.2l0.3,-1.1l0.2,6.6l0.2,-0.3l0.3,-5.5l0.3,-0.6l0.2,10.8l0.2,-7.3l0.3,-4.3l0.3,5.9l0.2,-3.7l0.2,5.3l0.3,-5.2l0.3,2.7l0.2,1l0.2,3.9l0.3,-11.1l0.3,3.2l0.2,2.3l0.2,-2.4l0.3,1.4l0.3,3.8l0.2,-0.4l0.2,0.2l0.3,-3.8l0.3,1.6l0.2,-3.2l0.2,1.6l0.3,0.9l0.3,-1.2l0.2,1.9l0.2,-3.3l0.3,9l0.3,-3.3l0.2,-5l0.2,3.6l0.3,-5.8l0.3,8.5l0.2,-7.1l0.2,5.4l0.3,-2.4l0.3,2.6l0.2,-7.2l0.2,1.4l0.3,8.3l0.3,-3.2l0.2,2.5l0.2,-5.4l0.3,-0.3l0.3,-0.2l0.2,6.6l0.2,-0.4l0.3,-10.4l0.3,10l0.2,-4.9l0.2,0.2l0.3,0.1l0.3,-3.3l0.2,2.7l0.2,5l0.3,-10.9l0.3,6l0.2,-2.5l0.2,3.1l0.3,1.3l0.3,3.5l0.2,-5.3l0.2,4.6l0.3,-4.3l0.3,-2.5l0.2,-1l0.2,5.1l0.3,0l0.3,2.3l0.2,-7.6l0.2,9.3l0.3,1.3l0.3,-3.7l0.2,-1.9l0.2,0.8l0.3,1.9l0.3,-2.7l0.2,-9.2l0.2,14.1l0.3,-8.1l0.3,-0.6l0.2,6.2l0.2,-5.3l0.3,-2.2l0.3,5.8l0.2,-7.1l0.2,2l0.3,4.8l0.3,-6.5l0.2,6.6l0.2,-5l0.3,11l0.3,-6.3l0.2,-4.9l0.2,2.8l0.3,-2.7l0.3,-0.6l0.2,4.7l0.2,-0.3l0.3,1.8l0.3,5.1l0.2,-8.2l0.2,5.1l0.3,2.3l0.3,-13.5l0.2,3.7l0.2,-0.3l0.3,0.4l0.3,1.1l0.2,6.4l0.2,2.8l0.3,-7.8l0.3,5.9l0.2,-5.8l0.2,4l0.3,2.3l0.3,-20l0.2,10.6l0.2,9.3l0.3,-9.7l0.3,5.1l0.2,-4.5l0.2,13l0.3,-14.4l0.3,1.9l0.2,5l0.2,-2.1l0.3,-0.9l0.3,0.6l0.2,8.5l0.2,-5l0.3,-3.3l0.3,-4.6l0.2,5.7l0.2,-0.8l0.3,5.7l0.3,-4.9l0.2,3.8l0.2,-2.8l0.3,-3.7l0.3,3.4l0.2,0.7l0.2,1.3l0.3,1.3l0.3,-6l0.2,4.5l0.2,-1.4l0.3,2.9l0.3,-4.5l0.2,3.8l0.2,-1.7l0.3,4.1l0.3,-7.7l0.2,-2l0.2,3.5l0.3,2.1l0.3,-5l0.2,0.9l0.2,-1.8l0.3,1.5l0.3,0.3l0.2,4.8l0.2,-2.3l0.3,-5.6l0.3,6.5l0.2,-3.6l0.2,0.4l0.3,-5.1l0.3,12.4l0.2,-4.5l0.2,-2.4l0.3,-2.1l0.3,1.7l0.2,4.2l0.2,-0.7l0.3,2.5l0.3,0l0.2,-2.7l0.2,7.1l0.3,-7.9l0.3,-4.2l0.2,2.9l0.2,4.2l0.3,-2.3l0.3,-1.5l0.2,-2.4l0.2,0.8l0.3,1.1l0.3,3l0.2,-2.1l0.2,-6.3l0.3,5l0.3,8.8l0.2,-10.6l0.2,5.6l0.3,-4.8l0.3,5.7l0.2,-9.4l0.2,4.6l0.3,3.9l0.3,-1.3l0.2,-2l0.2,-5.3l0.3,3.7l0.3,3.3l0.2,-3.4l0.2,1.7l0.3,0.7l0.3,-0.3l0.2,1.5l0.2,-2.4l0.3,0.2l0.3,1.2l0.2,0.1l0.2,1.5l0.3,-2.5l0.3,1.9l0.2,-5.6l0.2,2l0.3,3.2l0.3,-1.8l0.2,0.3l0.2,1.6l0.3,-0.1l0.3,-8l0.2,7l0.2,0.4l0.3,-3.6l0.3,1.2l0.2,3.5l0.2,-0.2l0.3,4.1l0.3,-7.4l0.2,1.5l0.2,7.3l0.3,-7.5l0.3,2l0.2,1.1l0.2,-6.7l0.3,0.7l0.3,4.8l0.2,2.8l0.2,-9.8l0.3,10.3l0.3,-2.4l0.2,4.2l0.2,-9.9l0.3,0.8l0.3,3.6l0.2,0.8l0.2,-1.7l0.3,3.2l0.3,-7.3l0.2,0.9l0.2,1.4l0.3,1.7l0.3,4.2l0.2,-5.7l0.2,4.5l0.3,2.3l0.3,-12l0.2,8.5l0.2,2.3l0.3,-2.4l0.3,1.9l0.2,1.7l0.2,-8.9l0.3,3.1l0.3,-1.1l0.2,4.9l0.2,-2l0.3,0.2l0.3,1.9l0.2,-7.5l0.2,7.5l0.3,-1.6l0.3,0l0.2,-4.1l0.2,9.5l0.3,-6.5l0.3,4.9l0.2,-0.5l0.2,-5.8l0.3,-1.1l0.3,1.2l0.2,0.3l0.2,1.3l0.3,0.6l0.3,-0.1l0.2,1.1l0.2,-1.9l0.3,0.1l0.3,-1.8l0.2,-1.1l0.2,6l0.3,-2.8l0.3,-0.6l0.2,1.2l0.2,-0.8l0.3,0.6l0.3,0.1l0.2,-10.7l0.2,5.6l0.3,1.3l0.3,-0.2l0.2,8.1l0.2,-0.3l0.3,-2.8l0.3,1.2l0.2,-2.9l0.2,2.5l0.3,-5.9l0.3,6.9l0.2,-2.5l0.2,-3.1l0.3,-2.9l0.3,2.3l0.2,0.4l0.2,4.1l0.3,-8.5l0.3,3.5l0.2,7.1l0.2,-11.4l0.3,7.8l0.3,5.3l0.2,-9.6l0.2,2.4l0.3,-5.5l0.3,6.1l0.2,-3.5l0.2,2.8l0.3,6.9l0.3,-3.1l0.2,-3.3l0.2,-2.4l0.3,4.7l0.3,-3.1l0.2,7l0.2,-11l0.3,10.5l0.3,-0.7l0.2,-2.8l0.2,-1.8l0.3,10.8l0.3,-10.9l0.2,3.7l0.2,-3l0.3,-1.7l0.3,0.3l0.2,-2.1l0.2,5l0.3,3l0.3,-5.4l0.2,1.4l0.2,0l0.3,-3.6l0.3,6.7l0.2,-8.4l0.2,7.9l0.3,3l0.3,-3l0.2,-3.5l0.2,2.5l0.3,1l0.3,-1.9l0.2,-6.2l0.2,9.6l0.3,-6.3l0.3,0.6l0.2,1.7l0.2,-1.3l0.3,3.4l0.3,-4.6l0.2,6.3l0.2,-2.1l0.3,-3.2l0.3,1.8l0.2,4l0.2,-7.5l0.3,8.6l0.3,1.5l0.2,-6l0.2,-2.9l0.3,4.6l0.3,-1.7l0.2,-3l0.2,6.3l0.3,-8l0.3,3.7l0.2,-2.9l0.2,1l0.3,-2.3l0.3,3.6l0.2,-3.1l0.2,2l0.3,-3.7l0.3,2.4l0.2,-1.4l0.2,0.9l0.3,-0.4l0.3,1.5l0.2,-1.6l0.2,0.5l0.3,1.6l0.3,-3l0.2,0.3l0.2,6.3l0.3,-1.6l0.3,-7.3l0.2,2.3l0.2,6.9l0.3,-8.4l0.3,9.6l0.2,-3.4l0.2,-14.5l0.3,10.9l0.3,0.5l0.2,-3.1l0.2,8l0.3,0.3l0.3,1.2l0.2,-3l0.2,-1.7l0.3,-1.4l0.3,-0.5l0.2,4.2l0.2,1.4l0.3,-0.2l0.3,-1.9l0.2,2.2l0.2,0.3l0.3,-2.9l0.3,2.3l0.2,-1.2l0.2,3.5l0.3,-0.3l0.3,-1l0.2,-3.1l0.2,2.5l0.3,2l0.3,-1.9l0.2,-2l0.2,-4.4l0.3,4.2l0.3,-0.7l0.2,2.5l0.2,-7.3l0.3,4.5l0.3,2.3l0.2,-5.4l0.2,4.1l0.3,-1.5l0.3,4l0.2,-5.2l0.2,8.9l0.3,-6.9l0.3,0.2l0.2,-7.6l0.2,3.9l0.3,2.9l0.3,-0.6l0.2,-5l0.2,8.7l0.3,1.5l0.3,-11.2l0.2,2.3l0.2,6.4l0.3,-4.8l0.3,8.8l0.2,-8.5l0.2,4.4l0.3,-2.7l0.3,9.6l0.2,-5.3l0.2,-11.2l0.3,7.4l0.3,0.5l0.2,5.4l0.2,-5.6l0.3,5.1l0.3,-5.1l0.2,1.1l0.2,1.6l0.3,-1.5l0.3,1.9l0.2,2.4l0.2,-0.8l0.3,-1.1l0.3,-3.4l0.2,-2.7l0.2,-0.6l0.3,1.7l0.3,0.5l0.2,0.2l0.2,11.8l0.3,-14.2l0.3,4.8l0.2,-1.2l0.2,-2.2l0.3,-1.1l0.3,4.4l0.2,-3.9l0.2,6.6l0.3,-6.8l0.3,2.1l0.2,8.5l0.2,-7.9l0.3,4.1l0.3,-7.9l0.2,13.5l0.2,-1.9l0.3,-11.9l0.3,6.6l0.2,4.4l0.2,0.1l0.3,-7.1l0.3,-1l0.2,1l0.2,8.8l0.3,-4.5l0.3,-0.7l0.2,-6l0.2,-4.2l0.3,2.6l0.3,3.3l0.2,4.1l0.2,-2.8l0.3,-2.4l0.3,7.2l0.2,-4.3l0.2,-1.8l0.3,-1.1l0.3,1.6l0.2,1.2l0.2,6.4l0.3,-1.9l0.3,-3.7l0.2,-6.1l0.2,7.4l0.3,2.1l0.3,-3.7l0.2,0.7l0.2,-4.2l0.3,8.1l0.3,-6l0.2,-3.8l0.2,9.1l0.3,-5.1l0.3,5.1l0.2,-1.2l0.2,-0.9l0.3,-0.3l0.3,-2.9l0.2,6.8l0.2,-7l0.3,-0.4l0.3,1.3l0.2,0.7l0.2,-2.3l0.3,5.1l0.3,-6.9l0.2,5.3l0.2,-0.4l0.3,-4.2l0.3,6.6l0.2,-7.2l0.2,5.4l0.3,-7l0.3,0l0.2,4.4l0.2,5.5l0.3,-4.9l0.3,4.8l0.2,0.1l0.2,-1l0.3,-2.1l0.3,-18.2l0.2,12.7l0.2,-2.3l0.3,5.8l0.3,-2.7l0.2,3.2l0.2,-0.9l0.3,0.9l0.3,-9.3l0.2,8.6l0.2,0.8l0.3,3.5l0.3,-1.6l0.2,-7.3l0.2,1l0.3,6.9l0.3,-1.7l0.2,-5.1l0.2,0.3l0.3,-0.1l0.3,-0.1l0.2,9.2l0.2,-4.9l0.3,6.4l0.3,-6.3l0.2,4.1l0.2,-3.3l0.3,1.7l0.3,0.8l0.2,-0.9l0.2,1.5l0.3,1.1l0.3,-6.3l0.2,3.6l0.2,0.4l0.3,-2l0.3,-2.1l0.2,-3.2l0.2,5l0.3,2.3l0.3,-1.3l0.2,-1.6l0.2,0.1l0.3,-2l0.3,1.3l0.2,-5l0.2,1l0.3,3.9l0.3,1.2l0.2,1.3l0.2,-2.1l0.3,-0.5l0.3,3.3l0.2,0.3l0.2,4.3l0.3,-6.8l0.3,-1.2l0.2,1.8l0.2,2.8l0.3,0l0.3,-4l0.2,0.9l0.2,-1.9l0.3,3.3l0.3,-2.4l0.2,2.7l0.2,-5.5l0.3,4.3l0.3,1.6l0.2,-3.1l0.2,0l0.3,-0.3l0.3,2.4l0.2,-8.3" fill="none" stroke="#a452b4" stroke-width="0.9" stroke-linejoin="bevel"/><path d="M425,398.5l1,-0.5l1,0.1l1,0.4l1,-1.8l1,-0.7l1,0.4l1,-0.9l1,-0.4l1,0l1,-1.1l1,-1.1l1,-1.1l1,-1.2l1,-2l1,-2.7l1,-2.3l1,-2.1l1,-1.9l1,-0.8l1,-1l1,-1.8l1,-2.6l1,-1.5l1,-0.3l1,-0.4l1,-0.3l1,0l1,1.1l1,1.1l1,0.8l1,-0.5l1,0.7l1,2l1,0.6l1,0.9l1,1.2l1,1.3l1,1.4l1,1.5l1,1.6l1,0.6l1,-0.2l1,0.7l1,0.4l1,0.1l1,0.4l1,0.2l1,0.1l1,0.6l1,0.5l1,0.3l1,-0.9l1,-0.4l1,0l1,-1.3l1,-0.7l1,0l1,-0.2l1,-1.2l1,-1.8l1,-0.6l1,-1.5l1,-2.7l1,-2.8l1,-2.3l1,-1.7l1,-2.4l1,-1.2l1,0.5l1,1.8l1,2.9l1,3.6l1,2.7l1,3.8l1,4.9l1,3.8l1,2.7l1,1.7l1,1.2l1,0.7l1,0.3l1,0.6l1,0.5l1,0.2l1,-0.1l1,0.1l1,0.3l1,0.1l1,-0.5l1,-0.9l1,0l1,0.1l1,0.2l1,-0.5l1,-1.1l1,-1.3l1,0.1l1,0.5l1,0.3l1,-1.2l1,-0.7l1,0.1l1,0.1l1,1l1,1.8l1,0.6l1,0l1,-0.2l1,0.6l1,0.5l1,0l1,-0.9l1,-0.4l1,0.5l1,1l1,0.3l1,-0.1l1,1.6l1,0.4l1,-1l1,-0.4l1,-0.2l1,0l1,0.1l1,0l1,0.1l1,0.6l1,0.9l1,0.6l1,-0.7l1,-1.2l1,-1.1l1,-0.1l1,0.1l1,0.3l1,0.9l1,0.5l1,-0.3l1,-0.6l1,0.5l1,1.2l1,-1.4l1,-1.5l1,-0.7l1,0.8l1,0.4l1,-0.3l1,-0.5l1,-0.9l1,-1.1l1,0.2l1,0.2l1,0l1,-0.6l1,-0.1l1,0.3l1,-0.8l1,0.2l1,1.2l1,-0.6l1,0.2l1,1l1,-0.4l1,-0.4l1,-0.1l1,0.5l1,0.2l1,0l1,1l1,0.3l1,-0.4l1,0.5l1,0.6l1,0.7l1,0.5l1,0.4l1,0.3l1,-0.5l1,0.5l1,1.1l1,-0.4l1,-0.5l1,-0.3l1,0.2l1,0.9l1,1.1l1,-1.2l1,-0.7l1,0.3l1,1.2l1,0.6l1,-0.2l1,-0.9l1,0l1,0.8l1,0.5l1,0.1l1,-0.3l1,-0.8l1,-0.3l1,0.2l1,-0.2l1,0.5l1,0.9l1,-0.8l1,-1.2l1,-0.9l1,0.6l1,0.2l1,-0.2l1,0.8l1,-0.6l1,-2l1,0l1,0.5l1,0.5l1,-0.4l1,-0.4l1,-0.1l1,-0.8l1,0.1l1,0.8l1,-1.3l1,-0.8l1,0l1,-0.2l1,-0.2l1,-0.2l1,0.3l1,-0.1l1,-0.5l1,-0.2l1,0l1,0l1,-0.2l1,0.1l1,0.1l1,-1.1l1,-0.1l1,0.9l1,-1.4l1,-1.4l1,-0.7l1,0l1,-0.1l1,-0.3l1,0.7l1,0.6l1,0.2l1,0.3l1,0.2l1,0l1,-0.3l1,0.6l1,1.1l1,-1.4l1,-1.1l1,-0.3l1,-0.6l1,0.2l1,0.6l1,-0.4l1,-0.6l1,-0.5l1,-0.6l1,-0.1l1,0.4l1,-0.6l1,0.1l1,0.8l1,0.3l1,0l1,-0.1l1,0.1l1,0l1,0l1,0.6l1,-0.1l1,-0.8l1,-0.6l1,-0.3l1,0.1l1,-0.1l1,0.3l1,0.4l1,-0.1l1,-0.5l1,-0.5l1,0.2l1,0.5l1,0.5l1,-0.5l1,0l1,1l1,1l1,-0.1l1,-1l1,-0.2l1,-0.1l1,-0.1l1,-1l1,-0.1l1,0.9l1,-0.6l1,-0.1l1,0.7l1,0.8l1,1.1l1,1.2l1,0.1l1,-0.2l1,-0.3l1,0.4l1,0.2l1,-0.3l1,-0.4l1,0.2l1,0.8l1,-0.5l1,-0.1l1,0.7" fill="none" stroke="#2450aa" stroke-width="4.0" stroke-linejoin="round"/><path d="M425,417.5l0.2,-21.6l0.3,5.4l0.3,-8.4l0.2,1.1l0.2,0.8l0.3,-0.2l0.3,4.9l0.2,3l0.2,-5.6l0.3,2.4l0.3,-0.6l0.2,-5.9l0.2,10.7l0.3,-5.7l0.3,0.3l0.2,-14.8l0.2,12.1l0.3,5.8l0.3,-9.3l0.2,4.6l0.2,-6.9l0.3,8.8l0.3,-2.5l0.2,-3.9l0.2,5.4l0.3,-8.3l0.3,6.6l0.2,3.1l0.2,-6l0.3,1.6l0.3,-3.6l0.2,3.6l0.2,-1.4l0.3,4.9l0.3,-4.4l0.2,-2.8l0.2,4.1l0.3,-1.1l0.3,3l0.2,-3.7l0.2,-0.3l0.3,2.7l0.3,-5.2l0.2,1l0.2,-1l0.3,5.7l0.3,-1.1l0.2,-1.2l0.2,5.3l0.3,-4.3l0.3,-3l0.2,16.5l0.2,-13.3l0.3,-2.2l0.3,-3l0.2,1.3l0.2,8.4l0.3,-7.4l0.3,-5.5l0.2,-5.1l0.2,0l0.3,7.4l0.3,-3.7l0.2,3.7l0.2,-9.2l0.3,0.5l0.3,2.5l0.2,2.2l0.2,-1.4l0.3,-6.1l0.3,0.9l0.2,4.2l0.2,-3.7l0.3,5.2l0.3,-3.7l0.2,0.9l0.2,-1.9l0.3,-11.2l0.3,9.7l0.2,0.6l0.2,3.1l0.3,-9.1l0.3,-0.4l0.2,-4.7l0.2,12.9l0.3,-6.8l0.3,1.8l0.2,0.3l0.2,-1.1l0.3,-6l0.3,3.3l0.2,2.2l0.2,5.9l0.3,-11.9l0.3,7.9l0.2,-7.9l0.2,6l0.3,-1.2l0.3,-4.6l0.2,0.9l0.2,0.3l0.3,7.5l0.3,-5l0.2,5.9l0.2,-11.3l0.3,1l0.3,5.9l0.2,0.5l0.2,-1.1l0.3,4.4l0.3,-2.4l0.2,-5.7l0.2,6.1l0.3,-1l0.3,0.2l0.2,-6.9l0.2,-9.8l0.3,12.7l0.3,-1.7l0.2,2.9l0.2,5.8l0.3,-7.5l0.3,3.3l0.2,6.9l0.2,-9.4l0.3,0.1l0.3,3.4l0.2,4.5l0.2,-6.2l0.3,-5l0.3,18.6l0.2,-8.3l0.2,-0.5l0.3,-1.7l0.3,-0.2l0.2,-1l0.2,-2.1l0.3,8.6l0.3,-0.3l0.2,1l0.2,-0.9l0.3,1l0.3,-5.4l0.2,9.3l0.2,-6.3l0.3,-0.4l0.3,1.5l0.2,1.9l0.2,2.5l0.3,-5.8l0.3,-6l0.2,12l0.2,-3.6l0.3,1.7l0.3,-7.4l0.2,3.1l0.2,8l0.3,1.4l0.3,-3.4l0.2,-8.7l0.2,3.6l0.3,5.1l0.3,-4.3l0.2,10.5l0.2,-1.5l0.3,-4.3l0.3,-4.9l0.2,8.3l0.2,0.7l0.3,-7.6l0.3,2.4l0.2,2.1l0.2,0.1l0.3,-3.4l0.3,-1.7l0.2,3.7l0.2,7l0.3,0l0.3,-2.5l0.2,-2.1l0.2,-4.4l0.3,5.1l0.3,-2.7l0.2,-5l0.2,7.4l0.3,2.8l0.3,-4.1l0.2,-6.3l0.2,9.7l0.3,-7.2l0.3,5.6l0.2,0.4l0.2,-4.1l0.3,0.9l0.3,-0.8l0.2,0.7l0.2,-0.1l0.3,4.4l0.3,-6.4l0.2,2.5l0.2,3.5l0.3,4.6l0.3,-0.8l0.2,-5l0.2,1.8l0.3,-4.4l0.3,3.7l0.2,-6.3l0.2,6.5l0.3,0.2l0.3,-0.6l0.2,-4l0.2,4.9l0.3,-0.5l0.3,-6.8l0.2,0.7l0.2,10.3l0.3,-10l0.3,-5.5l0.2,13.9l0.2,-12.5l0.3,4.7l0.3,6.2l0.2,-6.8l0.2,3.2l0.3,-9.2l0.3,8.9l0.2,-0.5l0.2,-0.1l0.3,6l0.3,-10.5l0.2,1.1l0.2,1.8l0.3,-0.6l0.3,5.9l0.2,-4.1l0.2,-2.7l0.3,0.2l0.3,3.4l0.2,-4.1l0.2,2.4l0.3,-12.6l0.3,14.2l0.2,-2.3l0.2,-5.7l0.3,-4.2l0.3,5.6l0.2,-2.4l0.2,-0.2l0.3,-3.4l0.3,5.2l0.2,-5.5l0.2,0.5l0.3,9.2l0.3,-8.3l0.2,-1.3l0.2,0.2l0.3,5.6l0.3,-0.2l0.2,-4l0.2,0.1l0.3,-1l0.3,-1l0.2,-3.4l0.2,-1.2l0.3,8.4l0.3,-5.8l0.2,-4.9l0.2,-0.2l0.3,3.8l0.3,5.1l0.2,-11.2l0.2,-3.7l0.3,8.2l0.3,0.3l0.2,1.3l0.2,-1.3l0.3,4.7l0.3,-10.8l0.2,8.7l0.2,-2.4l0.3,0l0.3,0.7l0.2,-0.8l0.2,6l0.3,1.1l0.3,-5.3l0.2,6.3l0.2,-11.2l0.3,7.8l0.3,-0.7l0.2,6.5l0.2,2.3l0.3,-5.7l0.3,1l0.2,11.6l0.2,-3l0.3,-1.4l0.3,1.5l0.2,-1.4l0.2,0.6l0.3,12.3l0.3,-8l0.2,3.8l0.2,5.7l0.3,-2l0.3,-6.1l0.2,2.6l0.2,-2.8l0.3,3.5l0.3,-1.5l0.2,0.9l0.2,6.6l0.3,-1.4l0.3,-3.1l0.2,2.3l0.2,-4.6l0.3,1.4l0.3,3.4l0.2,1.1l0.2,2.5l0.3,-1.5l0.3,2.1l0.2,-8.4l0.2,0.6l0.3,2.9l0.3,3.4l0.2,5.2l0.2,-6.7l0.3,-1.6l0.3,3.8l0.2,-6l0.2,6.7l0.3,-4.7l0.3,0.8l0.2,0.1l0.2,1.9l0.3,-3.6l0.3,-0.9l0.2,5.2l0.2,0.8l0.3,-0.9l0.3,3.9l0.2,-6.8l0.2,-2.9l0.3,9.5l0.3,-3l0.2,-5.1l0.2,5.6l0.3,-6l0.3,4.1l0.2,-7.2l0.2,5.2l0.3,0.8l0.3,-0.7l0.2,-0.8l0.2,1.2l0.3,0.9l0.3,-5.9l0.2,4.7l0.2,0.6l0.3,1.3l0.3,0.5l0.2,-7.9l0.2,-1.6l0.3,11.8l0.3,-1.9l0.2,-4.8l0.2,7.2l0.3,-7.1l0.3,4.8l0.2,2.3l0.2,-1.1l0.3,-8.5l0.3,-0.8l0.2,5.7l0.2,-1.2l0.3,5.5l0.3,-5.5l0.2,0.3l0.2,-2.5l0.3,-2.8l0.3,4.7l0.2,3.1l0.2,-3.5l0.3,-2.8l0.3,-4.5l0.2,6.3l0.2,6.4l0.3,-4.9l0.3,-3.5l0.2,2.8l0.2,2l0.3,-5.2l0.3,3l0.2,-4.5l0.2,3.8l0.3,3l0.3,-0.4l0.2,1.6l0.2,-5.9l0.3,-7.8l0.3,11.8l0.2,-0.9l0.2,1.6l0.3,1.6l0.3,-4.9l0.2,-3.3l0.2,1.4l0.3,-1.5l0.3,4l0.2,5.3l0.2,-11l0.3,2.4l0.3,9.3l0.2,-11.4l0.2,3.3l0.3,-1.9l0.3,10.5l0.2,-9.3l0.2,3l0.3,1.8l0.3,-3.8l0.2,3.8l0.2,-5.2l0.3,1.2l0.3,1.2l0.2,6.5l0.2,-4.4l0.3,-0.5l0.3,-2.3l0.2,6.7l0.2,1.1l0.3,-15.2l0.3,11.3l0.2,4.2l0.2,-6.5l0.3,4.3l0.3,-9.2l0.2,6.9l0.2,1.5l0.3,2.7l0.3,-4.5l0.2,4.2l0.2,3.2l0.3,-9.6l0.3,0.6l0.2,3.2l0.2,-1.1l0.3,-0.8l0.3,-1l0.2,9.1l0.2,-13.7l0.3,3.7l0.3,1.2l0.2,-0.9l0.2,9l0.3,-9.2l0.3,3.8l0.2,0l0.2,7l0.3,-6.6l0.3,6.4l0.2,-9.1l0.2,0.8l0.3,-0.9l0.3,2l0.2,-1.2l0.2,3.5l0.3,5l0.3,-9.1l0.2,5.4l0.2,2.8l0.3,1.6l0.3,-2.3l0.2,-15.7l0.2,16.3l0.3,-6.2l0.3,5.9l0.2,-2.5l0.2,-2.9l0.3,-19.3l0.3,22.4l0.2,-4.2l0.2,1.5l0.3,1.8l0.3,-5l0.2,3.9l0.2,2.7l0.3,-9l0.3,5.8l0.2,-0.1l0.2,-2.5l0.3,-2.3l0.3,-0.6l0.2,15.4l0.2,-3.3l0.3,-1.9l0.3,-1.2l0.2,5.1l0.2,-10.4l0.3,7.2l0.3,-7.4l0.2,2.4l0.2,-0.5l0.3,4l0.3,-8.5l0.2,10.4l0.2,-5.9l0.3,5.6l0.3,-2.6l0.2,1.7l0.2,-10.3l0.3,9.1l0.3,1l0.2,-4.1l0.2,1.1l0.3,0.7l0.3,-3.4l0.2,3.9l0.2,1.8l0.3,-2.2l0.3,-4.9l0.2,1.3l0.2,2.9l0.3,3.2l0.3,-4.2l0.2,-1.5l0.2,-3l0.3,3.9l0.3,-2.2l0.2,3.4l0.2,2.5l0.3,-8l0.3,2.4l0.2,-2.8l0.2,4.7l0.3,-3.1l0.3,5.2l0.2,-3.2l0.2,5.1l0.3,1.6l0.3,1.5l0.2,-6l0.2,1.1l0.3,-2.1l0.3,0.7l0.2,2.4l0.2,-4.8l0.3,-0.3l0.3,4.5l0.2,-2.6l0.2,3l0.3,-1.7l0.3,-4.4l0.2,6.3l0.2,-8.8l0.3,6.3l0.3,-3.7l0.2,-3.2l0.2,3.6l0.3,10.6l0.3,-10.1l0.2,5.8l0.2,-6.2l0.3,4.8l0.3,0.3l0.2,1.3l0.2,-4.8l0.3,-7.8l0.3,6.7l0.2,1.3l0.2,-2.9l0.3,0.5l0.3,-4.2l0.2,-2.2l0.2,4.4l0.3,9.1l0.3,-5.8l0.2,4.8l0.2,-6.1l0.3,2l0.3,6.7l0.2,-9.3l0.2,-3l0.3,6.1l0.3,-3l0.2,7.5l0.2,-6.7l0.3,4.7l0.3,-2.5l0.2,-8.7l0.2,0.6l0.3,4.3l0.3,3.3l0.2,2.2l0.2,0.1l0.3,-1.5l0.3,2.5l0.2,4.5l0.2,-11.5l0.3,6.3l0.3,-6l0.2,8.4l0.2,-10.4l0.3,3.4l0.3,0l0.2,3.3l0.2,-15l0.3,17.6l0.3,-5.7l0.2,6.6l0.2,-10.6l0.3,0.7l0.3,-2.4l0.2,10.7l0.2,-11.5l0.3,8.1l0.3,-2.3l0.2,0.7l0.2,4.3l0.3,-5.2l0.3,-0.1l0.2,-1.8l0.2,-0.6l0.3,2.7l0.3,1.1l0.2,1.3l0.2,-1l0.3,-3l0.3,2l0.2,-2.9l0.2,-0.4l0.3,4l0.3,-0.8l0.2,-5.2l0.2,6.2l0.3,4l0.3,-6.5l0.2,-0.1l0.2,-0.4l0.3,1.8l0.3,4.7l0.2,-8.2l0.2,1l0.3,-0.8l0.3,7.8l0.2,-5.3l0.2,4.4l0.3,-9.9l0.3,7.5l0.2,1l0.2,-1.4l0.3,5.2l0.3,-8.3l0.2,4.1l0.2,-1.4l0.3,-4.7l0.3,1.4l0.2,2.8l0.2,-2.1l0.3,3.1l0.3,-1.9l0.2,-1.4l0.2,2.3l0.3,1.2l0.3,-3.5l0.2,2.2l0.2,0l0.3,-5.3l0.3,-2.6l0.2,2.7l0.2,2.6l0.3,3.2l0.3,2.3l0.2,-0.6l0.2,-7.6l0.3,1.3l0.3,9.6l0.2,-4.1l0.2,5.7l0.3,-7.5l0.3,0.8l0.2,-4l0.2,5.9l0.3,-4.2l0.3,4.9l0.2,-2.7l0.2,-5.3l0.3,-2.6l0.3,4.4l0.2,2.3l0.2,3.2l0.3,0.9l0.3,-7.6l0.2,12.9l0.2,-9.6l0.3,9l0.3,-8.6l0.2,1.7l0.2,5.6l0.3,5.3l0.3,-3.6l0.2,-0.2l0.2,-10.9l0.3,9.2l0.3,2.2l0.2,-8.2l0.2,6.2l0.3,-2.2l0.3,0.3l0.2,3.3l0.2,-11.7l0.3,3.6l0.3,3.8l0.2,4.7l0.2,-2.5l0.3,-7.2l0.3,5.7l0.2,2.5l0.2,-3l0.3,4.7l0.3,0.7l0.2,-7.1l0.2,8.7l0.3,-8.4l0.3,-0.2l0.2,1.6l0.2,-0.1l0.3,13.1l0.3,-13.9l0.2,2.7l0.2,9.5l0.3,-10l0.3,-4.7l0.2,1.1l0.2,1.2l0.3,2.4l0.3,3.1l0.2,-3.6l0.2,-4.1l0.3,5.7l0.3,0.7l0.2,-0.8l0.2,-7.8l0.3,2.3l0.3,0.4l0.2,10.5l0.2,-7.1l0.3,-1.1l0.3,-0.5l0.2,4.7l0.2,-4.9l0.3,6.5l0.3,-0.6l0.2,-2.2l0.2,-3.6l0.3,3.3l0.3,-2.9l0.2,-0.8l0.2,1.8l0.3,-6.7l0.3,16.8l0.2,-12.2l0.2,8.8l0.3,-7.4l0.3,5.5l0.2,10.7l0.2,-16.5l0.3,-1.9l0.3,3.8l0.2,1.1l0.2,-0.9l0.3,7.1l0.3,-5.5l0.2,-0.3l0.2,-4.1l0.3,4.9l0.3,-3.6l0.2,1.4l0.2,17.9l0.3,-13.5l0.3,3.4l0.2,-8.4l0.2,-13.4l0.3,19.1l0.3,-0.7l0.2,-3.9l0.2,12l0.3,-17.9l0.3,9.1l0.2,0.9l0.2,0.6l0.3,-5.6l0.3,-4.9l0.2,6.9l0.2,7l0.3,-10.9l0.3,-3.8l0.2,6.5l0.2,3.2l0.3,7.4l0.3,-12.6l0.2,6.4l0.2,5l0.3,-8.6l0.3,4.9l0.2,-9.9l0.2,4.5l0.3,1.6l0.3,-3.5l0.2,-2.8l0.2,6.1l0.3,8l0.3,-9.6l0.2,-0.7l0.2,1.8l0.3,-2.8l0.3,2.4l0.2,-3.5l0.2,-6.3l0.3,10.3l0.3,-6.9l0.2,11.1l0.2,-13.6l0.3,0.8l0.3,4.5l0.2,-0.2l0.2,6.5l0.3,0l0.3,-3.9l0.2,-7.7l0.2,9.2l0.3,-4.7l0.3,2.1l0.2,1.4l0.2,-7.8l0.3,3.5l0.3,-0.3l0.2,4.4l0.2,-0.9l0.3,3.2l0.3,3l0.2,-3.7l0.2,-0.4l0.3,-1.4l0.3,-1.8l0.2,0l0.2,-5.2l0.3,9l0.3,0l0.2,-2.7l0.2,4.2l0.3,-3l0.3,3.1l0.2,-5.1l0.2,-1.1l0.3,1.2l0.3,6.8l0.2,-8.7l0.2,3.9l0.3,-6.9l0.3,5.4l0.2,-4.7l0.2,13l0.3,-13.9l0.3,3l0.2,-1.5l0.2,5.9l0.3,-2.6l0.3,-1.5l0.2,2.8l0.2,-6.6l0.3,-0.2l0.3,9.8l0.2,-9.5l0.2,1.5l0.3,4.1l0.3,-4.9l0.2,1.5l0.2,1.5l0.3,0.6l0.3,0.9l0.2,0.1l0.2,-2.7l0.3,6.1l0.3,-3l0.2,-1.1l0.2,2.4l0.3,-3.5l0.3,-1l0.2,7.2l0.2,-4.6l0.3,-2.4l0.3,1.3l0.2,-11.4l0.2,7.1l0.3,-0.8l0.3,6l0.2,-2.7l0.2,0.8l0.3,-2.5l0.3,5.9l0.2,-0.8l0.2,-0.3l0.3,-2.2l0.3,6.3l0.2,-8.8l0.2,1.6l0.3,-1.2l0.3,5.2l0.2,-6l0.2,0.3l0.3,1.1l0.3,2.4l0.2,-4.8l0.2,4.6l0.3,1.4l0.3,5.7l0.2,-11.2l0.2,7.3l0.3,-3.6l0.3,-0.1l0.2,6.5l0.2,-7.3l0.3,3l0.3,-2.8l0.2,-2.8l0.2,2.7l0.3,-0.5l0.3,-2.9l0.2,3.1l0.2,-2.6l0.3,9.7l0.3,-3.3l0.2,-3.7l0.2,1l0.3,-3.9l0.3,-2.3l0.2,2.6l0.2,1.8l0.3,-1.9l0.3,1.5l0.2,0.2l0.2,-0.1l0.3,2.1l0.3,-2.7l0.2,-6.4l0.2,12.6l0.3,-7.6l0.3,4.7l0.2,-7.1l0.2,-2.1l0.3,1.1l0.3,-2.6l0.2,0.3l0.2,6.5l0.3,1.3l0.3,-1.8l0.2,-6.9l0.2,10.1l0.3,-7.4l0.3,3.6l0.2,1.2l0.2,-5.7l0.3,5.6l0.3,-4l0.2,-5.3l0.2,6.2l0.3,-4.4l0.3,7.1l0.2,-1.5l0.2,4.9l0.3,-8.5l0.3,3.1l0.2,2.8l0.2,-4.8l0.3,2.5l0.3,1.2l0.2,-5.4l0.2,3.7l0.3,-1.6l0.3,-2.7l0.2,-1.5l0.2,8.2l0.3,-3l0.3,3.1l0.2,-2.7l0.2,4l0.3,-3.6l0.3,-2.6l0.2,7.2l0.2,2.8l0.3,-14.8l0.3,11.4l0.2,3l0.2,-5.7l0.3,-4.5l0.3,3.7l0.2,1l0.2,2l0.3,2.2l0.3,-7.1l0.2,2.5l0.2,-4.3l0.3,8.9l0.3,-4.4l0.2,-3.9l0.2,5.8l0.3,6.7l0.3,-9l0.2,-0.8l0.2,-0.8l0.3,5.7l0.3,-5.4l0.2,2.2l0.2,-1.6l0.3,5.7l0.3,1.3l0.2,1.5l0.2,-11.6l0.3,4.9l0.3,-0.6l0.2,0.1l0.2,-6.9l0.3,4.8l0.3,4.6l0.2,1.4l0.2,-8.9l0.3,5.2l0.3,5l0.2,-10.3l0.2,4.1l0.3,2.3l0.3,12.4l0.2,-13.4l0.2,-9.3l0.3,7l0.3,2.8l0.2,-5.3l0.2,-1.2l0.3,1l0.3,4.9l0.2,-3.8l0.2,-3.1l0.3,0.8l0.3,1.6l0.2,2l0.2,-7l0.3,12.4l0.3,-3.2l0.2,-5.4l0.2,8.1l0.3,-7.9l0.3,5.2l0.2,-6.9l0.2,4.2l0.3,0.6l0.3,-6.3l0.2,0.5l0.2,10.4l0.3,-1.3l0.3,-0.5l0.2,-2.3l0.2,-8.6l0.3,4.4l0.3,3.5l0.2,7.9l0.2,-10.9l0.3,2.5l0.3,-6.1l0.2,8.1l0.2,-14l0.3,9.9l0.3,4.9l0.2,3.9l0.2,-8l0.3,3.1l0.3,-3.4l0.2,4.2l0.2,1.6l0.3,-5.4l0.3,2.5l0.2,-1.2l0.2,0.6l0.3,5.3l0.3,-3.9l0.2,-0.5l0.2,-0.3l0.3,4.3l0.3,-4.5l0.2,-1l0.2,-1.9l0.3,0.8l0.3,6.9l0.2,-4.7l0.2,3.7l0.3,-1.3l0.3,3.4l0.2,-6.5l0.2,2.6l0.3,-0.4l0.3,4.6l0.2,-5.7l0.2,0l0.3,-1.6l0.3,-2.4l0.2,4.1l0.2,-0.5l0.3,1.4l0.3,5.3l0.2,-11l0.2,5l0.3,0.9l0.3,5.6l0.2,-13.1l0.2,9.7l0.3,1.7l0.3,-16.6l0.2,10.1l0.2,-2.4l0.3,-4.2l0.3,4.7l0.2,3.4l0.2,0.7l0.3,-0.4l0.3,-0.1l0.2,-3.9l0.2,3.2l0.3,-10.1l0.3,16.8l0.2,-3l0.2,-2.5l0.3,0.4l0.3,-2.8l0.2,-2.8l0.2,-2.1l0.3,-3.2l0.3,10l0.2,5.8l0.2,-14.8l0.3,4.8l0.3,4.3l0.2,0.9l0.2,-4.8l0.3,0.4l0.3,-7l0.2,8.9l0.2,-7.9l0.3,3.8l0.3,6.4l0.2,-8.1l0.2,13l0.3,-6.7l0.3,-3.7l0.2,6l0.2,-9.9l0.3,7l0.3,-3.2l0.2,-2.1l0.2,6l0.3,-3.1l0.3,10.1l0.2,-9.3l0.2,4.4l0.3,-6.3l0.3,7.4l0.2,-1.7l0.2,1l0.3,-4.5l0.3,-1.6l0.2,4.9l0.2,-6l0.3,9.9l0.3,-3.5l0.2,-4.2l0.2,0.2l0.3,3.5l0.3,-2.8l0.2,5.6l0.2,4.7l0.3,-5.8l0.3,5.4l0.2,-10l0.2,-3.2l0.3,6.3l0.3,-9.2l0.2,5.1l0.2,5.6l0.3,-1.5l0.3,-8.1l0.2,13.6l0.2,-10.3l0.3,4.7l0.3,2.1l0.2,-3.8l0.2,-0.7l0.3,3.2l0.3,-2.9l0.2,1.4l0.2,-7.1l0.3,4.7l0.3,-0.8l0.2,6l0.2,-5.3l0.3,2.4l0.3,-8.1l0.2,2.8l0.2,-2.8l0.3,2.3l0.3,2.5l0.2,-3.2l0.2,9.4l0.3,-5l0.3,-5l0.2,6.3l0.2,-7.9l0.3,-5.4l0.3,14.6l0.2,3.2l0.2,-8.4l0.3,5.2l0.3,-1.9l0.2,1.5l0.2,-3l0.3,0.3l0.3,-4.1l0.2,3.5l0.2,3.1l0.3,-2.8l0.3,1.8l0.2,7.1l0.2,-9.4l0.3,7.9l0.3,-2.5l0.2,4l0.2,1.2l0.3,-8.6l0.3,10.5l0.2,-6.5l0.2,-3.4l0.3,1.6l0.3,-3.1l0.2,5.5l0.2,-3.7l0.3,5.4l0.3,-4.5l0.2,-6.8l0.2,10.2l0.3,-3.5l0.3,4.6l0.2,2.6l0.2,-9.4l0.3,2.9l0.3,4.2l0.2,-12l0.2,7.9l0.3,-1.5l0.3,3.8l0.2,-4.7l0.2,8.5l0.3,-6.8l0.3,7.1l0.2,-8.7l0.2,3.1l0.3,-4.6l0.3,10l0.2,-8.1l0.2,6.7l0.3,-3.9l0.3,1.8l0.2,-0.3l0.2,-6.2l0.3,-0.2l0.3,6.3l0.2,-11.9l0.2,7l0.3,5.1l0.3,0.8l0.2,-7.3l0.2,5.8l0.3,4.3l0.3,-2.5l0.2,-2.2" fill="none" stroke="#2450aa" stroke-width="0.9" stroke-linejoin="bevel"/><path d="M425,455.3l1,-0.2l1,-0.6l1,-0.9l1,-0.6l1,-1.2l1,-1.8l1,-0.9l1,-1.1l1,-1.6l1,-2.4l1,-1.5l1,-0.8l1,-2.1l1,-2.4l1,-2.4l1,-1.3l1,-1.4l1,-1.6l1,-1.4l1,-0.8l1,-0.5l1,-1.5l1,-0.8l1,-0.1l1,-1.6l1,-1.1l1,-0.4l1,-0.3l1,-0.7l1,-0.8l1,1.1l1,1.3l1,1.2l1,1.5l1,0.6l1,-0.1l1,1.8l1,2l1,1.5l1,0.1l1,0.6l1,1.4l1,1.9l1,0.6l1,-0.5l1,1.7l1,0.7l1,-0.3l1,1.4l1,1.9l1,2l1,0.4l1,0.7l1,0.7l1,-1.2l1,-1.8l1,-2.3l1,-4.6l1,-4.3l1,-3.4l1,-2.6l1,-1.8l1,-1.3l1,-1.7l1,-1.6l1,-1.1l1,0.1l1,1l1,2l1,2.9l1,4l1,4.5l1,2.9l1,3.6l1,4.4l1,4.2l1,2.6l1,1l1,1.2l1,1l1,0.7l1,-0.6l1,0.8l1,2l1,0.1l1,0.7l1,1.1l1,-1.4l1,0.6l1,2.7l1,0.6l1,0.2l1,0.2l1,0.4l1,0.8l1,0.6l1,-1.5l1,-0.5l1,0.8l1,-1.4l1,-0.3l1,0.8l1,-0.1l1,0.2l1,0.7l1,0.7l1,0.1l1,-0.3l1,0.5l1,1.1l1,1.2l1,0.3l1,0.2l1,0.2l1,-0.5l1,0.1l1,1.1l1,1.7l1,0.7l1,-0.3l1,-0.3l1,-0.9l1,-1.1l1,-0.3l1,0.5l1,0.7l1,-0.4l1,-0.2l1,0.2l1,-0.7l1,-0.7l1,-0.5l1,-0.1l1,-0.5l1,-0.8l1,-0.8l1,-0.4l1,0l1,-0.4l1,-1l1,-1.3l1,0.9l1,1.3l1,1.1l1,0.3l1,0l1,-0.1l1,-0.1l1,0.2l1,0.6l1,0.9l1,1.2l1,1.4l1,0.4l1,0.2l1,0.1l1,-0.5l1,0.1l1,0.7l1,-0.3l1,0.6l1,1.6l1,0.1l1,-0.3l1,-0.2l1,1.1l1,0.9l1,0.5l1,-0.4l1,-1l1,-0.8l1,1.1l1,0.5l1,-0.3l1,0.7l1,0.1l1,-0.7l1,0.1l1,0.3l1,0.2l1,-0.1l1,-0.3l1,-0.2l1,1.2l1,0.4l1,-0.4l1,0.7l1,0.2l1,-0.6l1,-1l1,-0.9l1,-0.8l1,-1.4l1,-1.1l1,-0.8l1,-0.5l1,-0.2l1,-0.3l1,-0.8l1,-0.1l1,0.6l1,-0.1l1,0.3l1,0.6l1,-1l1,0.2l1,1.4l1,-0.7l1,-0.3l1,0.3l1,-0.1l1,-0.8l1,-1.3l1,-0.2l1,0.6l1,0.9l1,0.6l1,-0.2l1,-0.8l1,0.6l1,0.4l1,-0.1l1,-1.1l1,-0.2l1,0.6l1,-0.4l1,-1l1,-1.2l1,0.5l1,0.2l1,-0.2l1,-0.4l1,-0.7l1,-0.9l1,-0.3l1,0.4l1,0.7l1,-0.7l1,-1l1,-1.1l1,-0.8l1,0l1,0.8l1,0.6l1,-0.6l1,-1.7l1,-0.8l1,-0.1l1,0.3l1,0.4l1,-0.3l1,-0.8l1,0.1l1,0.7l1,1.1l1,-0.5l1,-0.4l1,0.3l1,0.5l1,0.7l1,0.8l1,0.3l1,0l1,-0.3l1,0.8l1,1.2l1,1.2l1,-0.1l1,0l1,0.3l1,0.2l1,1.1l1,1.6l1,-0.2l1,-0.7l1,-0.6l1,1l1,0.7l1,0.2l1,-0.7l1,-0.5l1,0l1,-0.2l1,0l1,0l1,-0.5l1,-0.3l1,-0.1l1,-0.7l1,-0.4l1,0.1l1,0.2l1,-0.1l1,-0.4l1,-0.5l1,-1.1l1,-1.2l1,0.3l1,0.1l1,-0.3l1,-0.4l1,0.4l1,0.8l1,-0.6l1,-0.6l1,-0.5l1,0.1l1,-0.5l1,-1.2l1,0.3l1,0.4l1,0.3l1,0.6l1,0.5l1,0.4l1,0.7l1,0.3l1,-0.2l1,-0.2l1,0l1,0.3" fill="none" stroke="#5cb848" stroke-width="3.5" stroke-linejoin="round"/><path d="M425,455.7l0.2,3.7l0.3,-6.1l0.3,1l0.2,0.7l0.2,2.4l0.3,-0.5l0.3,-5.4l0.2,-1.4l0.2,-0.8l0.3,4.2l0.3,-0.8l0.2,0.6l0.2,0.9l0.3,-2.3l0.3,-5.4l0.2,1.8l0.2,8.1l0.3,-2.8l0.3,-2.4l0.2,4l0.2,-4.7l0.3,-2.9l0.3,2.6l0.2,-6.4l0.2,2.3l0.3,9.6l0.3,-14.4l0.2,13.2l0.2,-12.2l0.3,5.8l0.3,-2l0.2,1.6l0.2,1.1l0.3,3.5l0.3,-2.3l0.2,-5.1l0.2,13l0.3,-13.4l0.3,-0.5l0.2,6.8l0.2,-13.6l0.3,5.3l0.3,2.9l0.2,-1.8l0.2,2l0.3,3l0.3,-4.8l0.2,0.5l0.2,-4.9l0.3,-1.4l0.3,-1.3l0.2,6.6l0.2,-5.7l0.3,1l0.3,2l0.2,-3.9l0.2,-0.3l0.3,4.1l0.3,-3.9l0.2,-4.3l0.2,-0.5l0.3,-0.9l0.3,-8.6l0.2,7.4l0.2,-4.1l0.3,4.9l0.3,0.4l0.2,-1.8l0.2,5.9l0.3,-3.6l0.3,-1.3l0.2,-0.4l0.2,2.6l0.3,-1.2l0.3,1.6l0.2,-4.9l0.2,3.7l0.3,-1.7l0.3,-3l0.2,4.2l0.2,-5.2l0.3,0.2l0.3,1.6l0.2,1.3l0.2,1l0.3,-1.7l0.3,-4.4l0.2,3.2l0.2,-3.6l0.3,-0.7l0.3,4.5l0.2,6.2l0.2,-7.6l0.3,-7.6l0.3,10.6l0.2,-3.5l0.2,-6.4l0.3,5.1l0.3,6.7l0.2,-9.2l0.2,-1.3l0.3,7l0.3,-7.2l0.2,10.4l0.2,-10.4l0.3,3.8l0.3,1.1l0.2,-9.3l0.2,10.7l0.3,-4.3l0.3,6.6l0.2,-7.9l0.2,3l0.3,0.8l0.3,2.2l0.2,-5.2l0.2,-0.8l0.3,2.6l0.3,-1.9l0.2,-4.2l0.2,7.3l0.3,-2l0.3,0l0.2,5.5l0.2,-7.1l0.3,0.2l0.3,4.1l0.2,-5l0.2,1.3l0.3,4.9l0.3,0.3l0.2,-0.8l0.2,-0.5l0.3,0.1l0.3,-3.4l0.2,0.6l0.2,4.6l0.3,-5.6l0.3,7l0.2,-13.4l0.2,9.7l0.3,-5.1l0.3,9.1l0.2,1.8l0.2,-7.9l0.3,8.3l0.3,0.4l0.2,-2.4l0.2,-5.5l0.3,13l0.3,-4.6l0.2,-2.1l0.2,-0.6l0.3,4.7l0.3,-4.4l0.2,6.3l0.2,-0.1l0.3,-0.2l0.3,-7l0.2,3.2l0.2,-4.3l0.3,3.9l0.3,-7.4l0.2,2.3l0.2,3.6l0.3,2.7l0.3,5l0.2,-6.4l0.2,5.1l0.3,1.4l0.3,-0.9l0.2,-1.5l0.2,-1.5l0.3,0.3l0.3,-1.6l0.2,4.9l0.2,-2.8l0.3,4.3l0.3,-5.5l0.2,3l0.2,1.7l0.3,-3l0.3,3.7l0.2,-3.1l0.2,6.8l0.3,-6.9l0.3,-0.6l0.2,-0.4l0.2,3.5l0.3,-3.1l0.3,7.5l0.2,-9.5l0.2,5.3l0.3,1.5l0.3,-5.2l0.2,6.4l0.2,-4.3l0.3,0.8l0.3,3.3l0.2,-3.7l0.2,-3.1l0.3,8.9l0.3,1.9l0.2,2.4l0.2,-9.7l0.3,4.3l0.3,4.6l0.2,2l0.2,-1.7l0.3,-12.9l0.3,7.4l0.2,-0.8l0.2,5.3l0.3,1.9l0.3,-3.9l0.2,0.2l0.2,5.4l0.3,-3.9l0.3,-2.4l0.2,1.1l0.2,-6.7l0.3,1.6l0.3,-1.9l0.2,9.3l0.2,-6.4l0.3,-2.4l0.3,2.6l0.2,-2.8l0.2,0.1l0.3,2.7l0.3,2l0.2,-5.9l0.2,-3.6l0.3,-3.8l0.3,0l0.2,-0.3l0.2,2.8l0.3,-2.7l0.3,-5l0.2,3l0.2,6.7l0.3,-10.3l0.3,1.8l0.2,-2.2l0.2,4.1l0.3,-7.3l0.3,8.5l0.2,-4.1l0.2,-0.7l0.3,-0.4l0.3,0.8l0.2,-0.1l0.2,-7.6l0.3,2.9l0.3,2.5l0.2,-0.9l0.2,4.1l0.3,-3.4l0.3,-9.2l0.2,2l0.2,2.4l0.3,0l0.3,-1.8l0.2,-7l0.2,6.2l0.3,1.1l0.3,-1.2l0.2,6.5l0.2,0.8l0.3,-5.7l0.3,-0.4l0.2,4.6l0.2,-2.1l0.3,4.6l0.3,-0.3l0.2,-9l0.2,6.2l0.3,1.9l0.3,-0.3l0.2,7.2l0.2,-6.1l0.3,5.9l0.3,-8.8l0.2,8.4l0.2,-7.3l0.3,11.5l0.3,0.3l0.2,-1.3l0.2,-1.8l0.3,3.4l0.3,5.3l0.2,0.2l0.2,4.1l0.3,-8.3l0.3,6.7l0.2,0.3l0.2,-1.1l0.3,-1l0.3,3.8l0.2,-3.1l0.2,5.8l0.3,4.1l0.3,4.2l0.2,-9.5l0.2,6.5l0.3,-7.7l0.3,8.5l0.2,-1.2l0.2,1.4l0.3,-3.4l0.3,-2.2l0.2,4.6l0.2,-2l0.3,5.5l0.3,-3.4l0.2,3.3l0.2,-5.8l0.3,0.9l0.3,-13.6l0.2,19.1l0.2,-0.6l0.3,4.1l0.3,-2.8l0.2,2.2l0.2,-4.4l0.3,1.3l0.3,-1.3l0.2,1.5l0.2,-1.9l0.3,3l0.3,0l0.2,0.2l0.2,-2.2l0.3,3.6l0.3,-5.3l0.2,1.9l0.2,3.5l0.3,-1.4l0.3,2.2l0.2,-2.9l0.2,-2.3l0.3,3.1l0.3,-0.3l0.2,0.4l0.2,-0.3l0.3,-2.6l0.3,-0.8l0.2,9.7l0.2,-7.7l0.3,5.9l0.3,-2l0.2,-3.3l0.2,0.5l0.3,0.7l0.3,1.3l0.2,-0.9l0.2,0.9l0.3,1.8l0.3,4.1l0.2,-8.3l0.2,1.3l0.3,4.4l0.3,0.7l0.2,7.3l0.2,-7.1l0.3,1.9l0.3,-1.2l0.2,-5.4l0.2,0.4l0.3,0.6l0.3,6.3l0.2,-1.4l0.2,-6l0.3,0.4l0.3,1.7l0.2,-2.6l0.2,8l0.3,-3.3l0.3,-2.9l0.2,4.4l0.2,2.6l0.3,-4.1l0.3,2l0.2,4.3l0.2,-7.3l0.3,-4l0.3,0.4l0.2,11.2l0.2,-9.4l0.3,2.5l0.3,-3.8l0.2,1.5l0.2,9.7l0.3,-7.6l0.3,-2l0.2,8l0.2,-4.1l0.3,-4.8l0.3,7.1l0.2,-2.7l0.2,1.2l0.3,-0.7l0.3,1.4l0.2,2.2l0.2,-7.3l0.3,-0.3l0.3,5.1l0.2,-7.4l0.2,9.1l0.3,-0.5l0.3,-8.5l0.2,4l0.2,-0.6l0.3,-3.8l0.3,3.9l0.2,1.1l0.2,-4l0.3,4.8l0.3,-1l0.2,-5.6l0.2,7.4l0.3,1.3l0.3,-0.6l0.2,-6.4l0.2,6.3l0.3,-4.6l0.3,-0.1l0.2,3.5l0.2,1.6l0.3,-8l0.3,5.8l0.2,0.6l0.2,0.3l0.3,2.7l0.3,-5l0.2,4l0.2,-5.7l0.3,5.4l0.3,1.1l0.2,-4.8l0.2,2.6l0.3,2.5l0.3,-4.3l0.2,2.1l0.2,5.4l0.3,0l0.3,-18.4l0.2,11.1l0.2,1.9l0.3,0.1l0.3,-5.1l0.2,4.4l0.2,5.7l0.3,-4.2l0.3,-0.3l0.2,-2.9l0.2,8.7l0.3,3.3l0.3,-10.2l0.2,2l0.2,1.9l0.3,0.4l0.3,0.5l0.2,-7.7l0.2,4.7l0.3,1.2l0.3,-0.1l0.2,2.9l0.2,-0.9l0.3,-1.6l0.3,1.1l0.2,5.2l0.2,1.6l0.3,-7.6l0.3,-7l0.2,9.5l0.2,-2.2l0.3,2.7l0.3,-1.6l0.2,-0.5l0.2,2.1l0.3,-1.4l0.3,1.9l0.2,-11.5l0.2,15.4l0.3,4.4l0.3,-14.8l0.2,-1.1l0.2,11l0.3,-7l0.3,0.6l0.2,0l0.2,-5.2l0.3,0.3l0.3,5.3l0.2,-7.8l0.2,2.1l0.3,10.5l0.3,-7.5l0.2,2l0.2,1l0.3,1.7l0.3,-3.5l0.2,4l0.2,-12.6l0.3,9.9l0.3,-1.8l0.2,4l0.2,0.7l0.3,-5.6l0.3,4l0.2,5.7l0.2,-8.6l0.3,-1l0.3,10.9l0.2,-14.2l0.2,5.2l0.3,-1.8l0.3,10l0.2,-15.3l0.2,5.1l0.3,-8.2l0.3,10.8l0.2,5.5l0.2,-12.1l0.3,-2.4l0.3,13l0.2,-12.8l0.2,4.4l0.3,1.3l0.3,-2.4l0.2,0.5l0.2,4.4l0.3,-3.6l0.3,0.5l0.2,-0.6l0.2,0l0.3,0.8l0.3,0.8l0.2,-6.3l0.2,3.9l0.3,4l0.3,-5.1l0.2,4l0.2,-4.7l0.3,1.6l0.3,2.5l0.2,-1.4l0.2,0.2l0.3,0.2l0.3,-2.9l0.2,-1.7l0.2,3.2l0.3,-1.2l0.3,1.9l0.2,2.3l0.2,-1.4l0.3,-1.6l0.3,-0.5l0.2,4.3l0.2,-9.2l0.3,-2.5l0.3,2.2l0.2,12.1l0.2,-6.3l0.3,-6.5l0.3,3.9l0.2,-5.4l0.2,8l0.3,3.8l0.3,-5l0.2,-1.3l0.2,9.3l0.3,-8.7l0.3,0.4l0.2,5.7l0.2,-12.5l0.3,6.7l0.3,3.8l0.2,0.2l0.2,4.7l0.3,-3.2l0.3,-4.5l0.2,5.4l0.2,-2.8l0.3,-0.4l0.3,-1.5l0.2,2l0.2,1.2l0.3,-3.2l0.3,2.2l0.2,-3.7l0.2,1.3l0.3,-1.1l0.3,-1.8l0.2,0.9l0.2,5.9l0.3,-3.5l0.3,1.6l0.2,-4.5l0.2,4.8l0.3,-1l0.3,-1l0.2,-3.8l0.2,15.4l0.3,-9.3l0.3,-2l0.2,6.4l0.2,-0.2l0.3,-8.5l0.3,5.1l0.2,-3.5l0.2,2.5l0.3,3.4l0.3,-4.4l0.2,7.3l0.2,-5.7l0.3,2.7l0.3,-2.6l0.2,2.5l0.2,-2.7l0.3,3.1l0.3,5.1l0.2,-1.9l0.2,-0.6l0.3,-1.3l0.3,1.3l0.2,-6.1l0.2,2.2l0.3,1.9l0.3,2.6l0.2,-10.8l0.2,5.7l0.3,0.9l0.3,1.9l0.2,0.9l0.2,-2.1l0.3,-1.9l0.3,3.3l0.2,-4.7l0.2,1.8l0.3,7.6l0.3,-6.1l0.2,5.1l0.2,-0.7l0.3,-11.2l0.3,11.4l0.2,0.4l0.2,1.9l0.3,-8.8l0.3,9.4l0.2,-6.2l0.2,-2l0.3,-1l0.3,1.5l0.2,4.8l0.2,1.7l0.3,-12.3l0.3,7.8l0.2,-0.3l0.2,1.5l0.3,1.5l0.3,-2.7l0.2,1.1l0.2,-3.2l0.3,-0.7l0.3,3.6l0.2,4.5l0.2,0.7l0.3,-1.9l0.3,-1.2l0.2,-10.2l0.2,13l0.3,-3.1l0.3,-0.2l0.2,0.4l0.2,0.1l0.3,0.6l0.3,-2l0.2,1.2l0.2,-5l0.3,3.7l0.3,2.8l0.2,-3.2l0.2,3.1l0.3,-6.8l0.3,2.2l0.2,3l0.2,-0.3l0.3,-2.3l0.3,1.3l0.2,-1.8l0.2,-1.9l0.3,4l0.3,1.5l0.2,5l0.2,-1.6l0.3,-5.8l0.3,2.4l0.2,-8.8l0.2,18l0.3,-11.8l0.3,2.7l0.2,7.8l0.2,-8.2l0.3,10.3l0.3,-16.2l0.2,3.9l0.2,4.8l0.3,-0.4l0.3,0.4l0.2,4.8l0.2,-5.8l0.3,-2.4l0.3,-3.8l0.2,3.2l0.2,0l0.3,1.8l0.3,-0.8l0.2,3.2l0.2,-4.6l0.3,-1.4l0.3,8l0.2,-7.1l0.2,6.9l0.3,-5.3l0.3,3.2l0.2,0.4l0.2,-4.7l0.3,3.2l0.3,-1.4l0.2,-0.8l0.2,2.2l0.3,-4.3l0.3,2.8l0.2,-3.7l0.2,7.4l0.3,-2.8l0.3,-3.1l0.2,3.5l0.2,1.7l0.3,-5.8l0.3,-0.9l0.2,0.9l0.2,3.7l0.3,0.8l0.3,2.3l0.2,-1l0.2,-2.8l0.3,-1l0.3,-6.8l0.2,10.2l0.2,-2.4l0.3,-0.9l0.3,7.8l0.2,-5l0.2,0.2l0.3,-3.5l0.3,4.4l0.2,4.5l0.2,-7.4l0.3,1.5l0.3,-3.3l0.2,0.4l0.2,2.1l0.3,-0.1l0.3,-4.4l0.2,-2.6l0.2,2.7l0.3,-1.1l0.3,7.5l0.2,-5.8l0.2,-2l0.3,5.7l0.3,2l0.2,-9l0.2,0l0.3,3.3l0.3,-3.8l0.2,3.5l0.2,4.7l0.3,-1.7l0.3,-1.2l0.2,-7l0.2,-1.2l0.3,2.9l0.3,0.3l0.2,1.7l0.2,1.1l0.3,-5.8l0.3,2.2l0.2,-4.9l0.2,6.1l0.3,-2.4l0.3,1.6l0.2,-3.6l0.2,3.5l0.3,-2.7l0.3,7.1l0.2,-8.4l0.2,2.7l0.3,-3.9l0.3,6.2l0.2,4.2l0.2,-0.6l0.3,-4.5l0.3,1.4l0.2,2.4l0.2,-16.1l0.3,11.2l0.3,2.3l0.2,-1.1l0.2,-5.4l0.3,9l0.3,-5.8l0.2,4.2l0.2,-0.5l0.3,-1.5l0.3,-0.6l0.2,4.2l0.2,-3.1l0.3,-2.5l0.3,-3.6l0.2,5.4l0.2,0.1l0.3,3.2l0.3,-2.3l0.2,2.6l0.2,-5l0.3,6.3l0.3,0.3l0.2,-4.8l0.2,2.7l0.3,-5.6l0.3,4.3l0.2,-2.4l0.2,4l0.3,-3l0.3,1.7l0.2,-4l0.2,0.9l0.3,2.2l0.3,1.1l0.2,-6.8l0.2,11.2l0.3,-8.5l0.3,-1.7l0.2,-0.3l0.2,2.8l0.3,0.8l0.3,-6.9l0.2,2.2l0.2,3.8l0.3,-0.5l0.3,1.9l0.2,0.3l0.2,-2l0.3,-4l0.3,5.5l0.2,3.1l0.2,-8.4l0.3,3.8l0.3,1.2l0.2,-1.1l0.2,5.9l0.3,-1.8l0.3,-9.1l0.2,4l0.2,2l0.3,1.9l0.3,-0.9l0.2,2.3l0.2,-6.3l0.3,2.4l0.3,-0.3l0.2,2.7l0.2,-1.8l0.3,4.1l0.3,-8.4l0.2,-5.4l0.2,12.6l0.3,2.1l0.3,-10.5l0.2,9l0.2,-2.9l0.3,2.9l0.3,2.8l0.2,-10.8l0.2,9.3l0.3,-3.9l0.3,-1.7l0.2,-3.9l0.2,6.3l0.3,2.3l0.3,-6.8l0.2,2.3l0.2,-5.8l0.3,4.5l0.3,-1.5l0.2,1.3l0.2,-0.9l0.3,-5.3l0.3,9.5l0.2,3.2l0.2,-9.9l0.3,9.8l0.3,-14l0.2,9.7l0.2,2.9l0.3,-10.4l0.3,2.4l0.2,6.6l0.2,-6.7l0.3,-1.5l0.3,6.3l0.2,5.2l0.2,-7.5l0.3,2.8l0.3,3.2l0.2,-3.9l0.2,3.9l0.3,-8.2l0.3,1.1l0.2,3.4l0.2,-1.9l0.3,-2.3l0.3,-5.7l0.2,9.1l0.2,-5.8l0.3,3l0.3,-0.1l0.2,6.4l0.2,-8.2l0.3,-0.7l0.3,5.5l0.2,-2.4l0.2,-6.1l0.3,9.7l0.3,-3.6l0.2,-6.8l0.2,9.3l0.3,-2l0.3,-3.9l0.2,20.2l0.2,-12.8l0.3,-3.7l0.3,-1.6l0.2,-0.9l0.2,0.8l0.3,-2.6l0.3,1.7l0.2,21.3l0.2,-20.1l0.3,1.1l0.3,4.6l0.2,-5.8l0.2,-2.5l0.3,6.6l0.3,-8.8l0.2,-1l0.2,5.4l0.3,-4l0.3,1.3l0.2,-0.4l0.2,1.7l0.3,-2.5l0.3,2l0.2,-2.5l0.2,9.6l0.3,-11l0.3,-4.7l0.2,14.3l0.2,-0.6l0.3,-2.5l0.3,-7.8l0.2,0.4l0.2,4.1l0.3,1.5l0.3,0.8l0.2,-2.3l0.2,1.5l0.3,-1.3l0.3,-6.9l0.2,9.1l0.2,-3.5l0.3,5l0.3,-8.5l0.2,5.5l0.2,-0.3l0.3,12.5l0.3,-10.2l0.2,-3.4l0.2,5.6l0.3,-11l0.3,6.1l0.2,4.5l0.2,4.2l0.3,-3.5l0.3,-6.8l0.2,3.7l0.2,-2.1l0.3,-4.9l0.3,-0.5l0.2,2.7l0.2,3.3l0.3,-0.4l0.3,3.5l0.2,-9.8l0.2,3.1l0.3,0.5l0.3,-1.2l0.2,-4.3l0.2,12l0.3,-10.7l0.3,4.7l0.2,-3.1l0.2,4.2l0.3,5.8l0.3,-7.9l0.2,2l0.2,-8.5l0.3,13.9l0.3,3.5l0.2,-10.9l0.2,0.8l0.3,5.7l0.3,-4.4l0.2,-0.7l0.2,-3.3l0.3,12l0.3,-3.4l0.2,-5.5l0.2,1.9l0.3,-1.8l0.3,-4.7l0.2,3.8l0.2,5.6l0.3,-2.8l0.3,-3.8l0.2,8.5l0.2,0.6l0.3,-8.1l0.3,4.7l0.2,4.8l0.2,-10.6l0.3,8.9l0.3,-4.1l0.2,0.3l0.2,-1.3l0.3,-0.9l0.3,6.7l0.2,-7.1l0.2,-0.3l0.3,0.7l0.3,-1l0.2,5l0.2,9.6l0.3,-10.9l0.3,10l0.2,-10.5l0.2,0l0.3,3.3l0.3,-3.6l0.2,4.8l0.2,0.7l0.3,-1.1l0.3,0l0.2,-0.5l0.2,2.9l0.3,-9.8l0.3,11l0.2,-2.7l0.2,-3.6l0.3,-0.9l0.3,9.2l0.2,-7.1l0.2,2.1l0.3,-2.3l0.3,2.9l0.2,1.2l0.2,0.3l0.3,-6.3l0.3,3.3l0.2,3.5l0.2,-5.8l0.3,3.3l0.3,1.7l0.2,-2.9l0.2,1.2l0.3,-4.3l0.3,14l0.2,-2.2l0.2,0.9l0.3,-2.5l0.3,-11.5l0.2,9.6l0.2,-4.3l0.3,-9.3l0.3,14.9l0.2,-5l0.2,-1.7l0.3,-2.4l0.3,4.6l0.2,2.2l0.2,-4.2l0.3,-3.1l0.3,4.9l0.2,-2.4l0.2,8.8l0.3,-7.6l0.3,9.1l0.2,-5.2l0.2,0.2l0.3,-3.6l0.3,1.8l0.2,1.6l0.2,-2l0.3,-1.7l0.3,1l0.2,1.3l0.2,-0.2l0.3,-1.1l0.3,6.3l0.2,-1l0.2,-4.3l0.3,2.2l0.3,0.8l0.2,-4.3l0.2,10.7l0.3,-9.9l0.3,3l0.2,-4.7l0.2,-0.8l0.3,2.4l0.3,1.1l0.2,1.2l0.2,-4.8l0.3,7.9l0.3,-6.7l0.2,-1.4l0.2,2.4l0.3,0.2l0.3,5.1l0.2,-10.1l0.2,6.1l0.3,0.1l0.3,-5.1l0.2,3.3l0.2,-3.4l0.3,0.1l0.3,4.1l0.2,-1.4l0.2,5.6l0.3,-4.1l0.3,-5l0.2,6.3l0.2,-2.3l0.3,-2.4l0.3,-0.5l0.2,-5.7l0.2,10.6l0.3,-7.7l0.3,6.5l0.2,-4.2l0.2,0.5l0.3,5.4l0.3,-2.4l0.2,-1.2l0.2,6.1l0.3,-7l0.3,4.8l0.2,-5l0.2,3l0.3,1.6l0.3,-1.5l0.2,-0.8l0.2,-2.4l0.3,5.7l0.3,-1l0.2,-10.5l0.2,-1.1l0.3,2.9l0.3,-1.8l0.2,6l0.2,2.6l0.3,-0.3l0.3,-9.3l0.2,4l0.2,-1.4l0.3,5.9l0.3,-6.3l0.2,-0.2l0.2,1l0.3,4.7l0.3,-5l0.2,-0.4l0.2,0.5l0.3,4.6l0.3,-2l0.2,4.9l0.2,-2.3l0.3,-7.9l0.3,1.7l0.2,9l0.2,-6.4l0.3,-1.8l0.3,7.1l0.2,-7.6l0.2,8.6l0.3,-5.1l0.3,-8l0.2,15.7l0.2,-11.3l0.3,5.8l0.3,-3.7l0.2,1.9l0.2,-5l0.3,0.7l0.3,-6.4l0.2,11.2l0.2,-0.9l0.3,2.8l0.3,-7.8l0.2,9.4l0.2,-8.1l0.3,0.6l0.3,-4l0.2,11.7l0.2,-5.6l0.3,-2.9l0.3,0.6l0.2,-1.3l0.2,5.2l0.3,1.6l0.3,-4.2l0.2,-4.5l0.2,-4.6l0.3,10.3l0.3,-4l0.2,1.7l0.2,-2.6l0.3,2.3l0.3,-2.9l0.2,0.8l0.2,1.6l0.3,-2.4l0.3,-0.7l0.2,13l0.2,-9.7l0.3,2l0.3,-6.8l0.2,5.2l0.2,1.4l0.3,1.8l0.3,3.2l0.2,-5.7l0.2,3.5l0.3,0.5l0.3,-4.6l0.2,-1.5l0.2,8l0.3,1.6l0.3,-5.1l0.2,2.8l0.2,-1.4l0.3,0.6l0.3,2.5l0.2,-1.9l0.2,-5l0.3,1l0.3,2.9l0.2,-5l0.2,2.6l0.3,4.7l0.3,-1.9l0.2,1.2l0.2,-3.5l0.3,0l0.3,2.6l0.2,-0.7l0.2,-5.5l0.3,7l0.3,-8.3l0.2,14.7" fill="none" stroke="#5cb848" stroke-width="0.9" stroke-linejoin="bevel"/><path d="M425,508.2l1,-1.6l1,-0.3l1,0.5l1,-1.1l1,0l1,1.3l1,0.5l1,-0.3l1,-0.8l1,0.1l1,0.3l1,0.2l1,-0.7l1,0.1l1,0.7l1,0l1,-0.4l1,-0.6l1,0.5l1,0.8l1,0.9l1,0.6l1,0.7l1,0.7l1,0.3l1,0.4l1,0.5l1,0.7l1,0.3l1,-0.2l1,-0.1l1,0.2l1,0.4l1,0.7l1,-0.4l1,-1.2l1,0.3l1,-0.5l1,-1.3l1,-0.2l1,0.6l1,0.8l1,-1.9l1,-1.9l1,-1.2l1,-1l1,-0.9l1,-0.9l1,-0.6l1,-0.3l1,-0.1l1,-0.7l1,-0.1l1,0.4l1,-0.8l1,-0.6l1,-0.3l1,-1.3l1,-0.3l1,0.7l1,-0.1l1,-0.5l1,-0.8l1,-0.1l1,-0.1l1,-0.1l1,-0.4l1,0.2l1,0.9l1,0.7l1,1.2l1,1.5l1,0.4l1,0.9l1,1.2l1,-0.5l1,0.7l1,2l1,1.2l1,0.5l1,-0.1l1,-0.7l1,0.1l1,0.7l1,-0.4l1,-1l1,-1.4l1,-0.8l1,-0.2l1,0.3l1,0.5l1,-0.4l1,-1.1l1,0.4l1,0.6l1,0.3l1,0l1,0l1,0.2l1,0.2l1,1.1l1,2l1,0.6l1,0.8l1,1l1,0.4l1,-0.5l1,-1l1,-0.5l1,-0.2l1,0l1,-0.6l1,-0.8l1,-0.7l1,1.1l1,0.1l1,-1.2l1,-1.2l1,-0.2l1,0.7l1,0l1,0.1l1,0l1,-1.8l1,-0.9l1,0.4l1,0.9l1,0.1l1,-0.4l1,0.1l1,-0.1l1,-0.4l1,0.6l1,0.9l1,0.9l1,0.3l1,0.4l1,0.6l1,1l1,1.1l1,0.9l1,0.3l1,0.1l1,0.2l1,0.9l1,0l1,-1l1,0.8l1,0l1,-1l1,-0.5l1,-0.8l1,-1l1,0.3l1,0.6l1,0.3l1,-0.6l1,-0.7l1,-0.8l1,-1.4l1,-0.5l1,0.7l1,1.2l1,0.7l1,-0.1l1,-0.4l1,-0.4l1,-0.3l1,0.3l1,0.2l1,-0.2l1,-0.4l1,0.2l1,0.6l1,-0.2l1,-0.8l1,-1l1,0.2l1,0l1,-0.2l1,0.1l1,0.6l1,0.5l1,-1.1l1,-0.1l1,1.2l1,0.1l1,0.3l1,0.5l1,-1.2l1,0.1l1,1.5l1,0.7l1,-0.1l1,-0.6l1,0.3l1,0l1,-0.2l1,1.2l1,0.7l1,0.1l1,0.5l1,0.3l1,0.1l1,0.4l1,-0.3l1,-0.8l1,-0.2l1,-0.4l1,-0.6l1,0.3l1,-0.6l1,-1.3l1,0.9l1,0.7l1,0l1,0l1,0.4l1,0.5l1,-0.8l1,-0.8l1,-0.7l1,-0.2l1,-0.7l1,-0.8l1,1.5l1,0.3l1,-1.3l1,-0.8l1,-0.2l1,0.4l1,1.4l1,0.8l1,0l1,-0.5l1,-0.1l1,0.6l1,0l1,-0.2l1,-0.3l1,0.3l1,-0.2l1,-0.7l1,-0.1l1,0.6l1,1.1l1,0l1,-0.3l1,-0.4l1,-0.3l1,0.1l1,0.4l1,0.7l1,0l1,-0.6l1,-0.2l1,0l1,-0.1l1,-0.1l1,-0.1l1,0.1l1,-0.4l1,0.4l1,1l1,-0.3l1,-0.6l1,-0.6l1,1l1,0.3l1,-0.7l1,0.6l1,0.2l1,-0.4l1,0.6l1,1l1,1l1,-0.2l1,-0.4l1,-0.3l1,1.5l1,0.4l1,-0.8l1,0.3l1,-0.1l1,-0.7l1,0l1,0.1l1,0.2l1,2l1,0.9l1,-0.4l1,0l1,0.2l1,0.3l1,0.8l1,1.2l1,1.2l1,0.1l1,0l1,0.4l1,1.2l1,0.5l1,-0.5l1,-0.4l1,0l1,0.4l1,-1l1,-0.3l1,0.8l1,0l1,0.6l1,1.2l1,0.9l1,0.1l1,-0.7l1,0.1l1,0.4l1,0.7l1,0.5l1,0.6l1,0.6" fill="none" stroke="#e8302a" stroke-width="3.8" stroke-linejoin="round"/><path d="M425,508.3l0.2,1.2l0.3,1.2l0.3,-2.3l0.2,-1.5l0.2,-3l0.3,3l0.3,0.7l0.2,1.7l0.2,-8.4l0.3,4l0.3,6.5l0.2,-3.5l0.2,-2.2l0.3,-1.5l0.3,1.7l0.2,6.2l0.2,-9.5l0.3,6.6l0.3,-6.3l0.2,-0.8l0.2,3.7l0.3,2.2l0.3,4.3l0.2,-0.6l0.2,-3.2l0.3,-4.4l0.3,3.9l0.2,-2.5l0.2,3.3l0.3,-4.9l0.3,8.1l0.2,-1.8l0.2,-4.1l0.3,1.1l0.3,-5.5l0.2,8.5l0.2,-0.3l0.3,3.4l0.3,-12.1l0.2,8.2l0.2,-2.5l0.3,-7.3l0.3,11.6l0.2,-5l0.2,2.9l0.3,-8.7l0.3,19.9l0.2,-11.3l0.2,-1.5l0.3,-1.2l0.3,1.7l0.2,-1l0.2,0.4l0.3,-3.2l0.3,0.2l0.2,2.1l0.2,12.3l0.3,-11.4l0.3,-3.9l0.2,4.1l0.2,3.2l0.3,-3.5l0.3,7.2l0.2,-4.7l0.2,-2.2l0.3,0.2l0.3,14.5l0.2,-11.5l0.2,-6.3l0.3,6l0.3,-7.3l0.2,1.4l0.2,1.6l0.3,6.5l0.3,-11l0.2,6.4l0.2,-6.1l0.3,2l0.3,-1.2l0.2,5.9l0.2,-1.4l0.3,0.1l0.3,-0.2l0.2,12.3l0.2,-12l0.3,-1.8l0.3,-0.3l0.2,3.6l0.2,0.7l0.3,0.8l0.3,-2.3l0.2,4.6l0.2,-6.1l0.3,1.8l0.3,-1.1l0.2,-6.4l0.2,11.1l0.3,-5l0.3,1.2l0.2,4.5l0.2,0.4l0.3,4.3l0.3,-6.2l0.2,-3.6l0.2,2.5l0.3,1.5l0.3,3.7l0.2,-0.2l0.2,-0.3l0.3,-9.4l0.3,12.7l0.2,-4.3l0.2,-3.1l0.3,-3.9l0.3,8.5l0.2,-2l0.2,0.8l0.3,-9.2l0.3,3l0.2,2.6l0.2,5.7l0.3,-5.5l0.3,1.5l0.2,-3.8l0.2,8.4l0.3,-6.8l0.3,-2.1l0.2,-3.2l0.2,9.3l0.3,-0.4l0.3,-5.7l0.2,5.2l0.2,-3.5l0.3,5.1l0.3,-0.5l0.2,1.9l0.2,-4.6l0.3,0.8l0.3,-0.1l0.2,3l0.2,2.1l0.3,-4.3l0.3,-0.9l0.2,1.7l0.2,-8l0.3,2.6l0.3,1.5l0.2,2.8l0.2,-9.7l0.3,6.5l0.3,-2.7l0.2,2.2l0.2,9.9l0.3,-3.6l0.3,-8l0.2,0.8l0.2,6.5l0.3,-7.4l0.3,4.9l0.2,-2.5l0.2,0.8l0.3,-1.9l0.3,-2.7l0.2,1.7l0.2,2.1l0.3,9.6l0.3,-8.3l0.2,2.9l0.2,-1.1l0.3,2.8l0.3,-9.1l0.2,0.6l0.2,10.1l0.3,-10.5l0.3,-2.5l0.2,1.6l0.2,1l0.3,-1.2l0.3,2.9l0.2,-3.7l0.2,8.6l0.3,-12.2l0.3,-2.5l0.2,1.9l0.2,2.8l0.3,-0.2l0.3,1.7l0.2,1.7l0.2,-1.2l0.3,-5.3l0.3,7.3l0.2,-9.7l0.2,8.4l0.3,6.2l0.3,-7.9l0.2,2.6l0.2,-9.2l0.3,-0.3l0.3,6.2l0.2,4.7l0.2,-5.7l0.3,-4.8l0.3,9.6l0.2,-0.9l0.2,-0.9l0.3,-7.8l0.3,-8.7l0.2,11.1l0.2,-0.4l0.3,-0.7l0.3,9.6l0.2,-3.1l0.2,-9.9l0.3,3.5l0.3,-1.5l0.2,7.8l0.2,-3.6l0.3,-4.3l0.3,4.2l0.2,0.1l0.2,0.6l0.3,-2l0.3,-1.2l0.2,1.5l0.2,0.1l0.3,-0.6l0.3,-0.6l0.2,-1l0.2,1.9l0.3,-0.6l0.3,-6.8l0.2,5.4l0.2,-0.1l0.3,0.5l0.3,-7.1l0.2,8.4l0.2,-6.4l0.3,12.8l0.3,-6.3l0.2,-0.6l0.2,-3.6l0.3,1.4l0.3,6.5l0.2,-1.8l0.2,-2.2l0.3,3.3l0.3,0.2l0.2,-3.7l0.2,0.3l0.3,-5.2l0.3,-3l0.2,4.2l0.2,5.3l0.3,-3.1l0.3,6.5l0.2,-8l0.2,5.6l0.3,1.7l0.3,-2.9l0.2,2.7l0.2,-4.9l0.3,2l0.3,-2.4l0.2,-3.3l0.2,0.4l0.3,3.9l0.3,6.5l0.2,-7.4l0.2,-1.4l0.3,-3.1l0.3,-2.5l0.2,8.6l0.2,0.7l0.3,-6.6l0.3,8.4l0.2,-2.2l0.2,-1.3l0.3,-2.4l0.3,1.2l0.2,-2.4l0.2,8l0.3,-9.6l0.3,23.8l0.2,-15l0.2,4.1l0.3,-6.7l0.3,1.4l0.2,-1.2l0.2,2.9l0.3,-3.4l0.3,9l0.2,-5.4l0.2,-6.6l0.3,4.4l0.3,5.8l0.2,0.3l0.2,-4.6l0.3,-2.7l0.3,-2l0.2,0.5l0.2,11.1l0.3,-4.3l0.3,1.3l0.2,-4.2l0.2,-0.3l0.3,-6.8l0.3,6.4l0.2,0.6l0.2,6.5l0.3,-1.7l0.3,-2.7l0.2,5.6l0.2,-6.3l0.3,1l0.3,-1.8l0.2,5.8l0.2,-1.8l0.3,-2.3l0.3,-2.4l0.2,-0.9l0.2,8l0.3,-2.2l0.3,6.3l0.2,-7.2l0.2,5.3l0.3,5.3l0.3,-14.6l0.2,8.4l0.2,-1.5l0.3,3.1l0.3,-12.1l0.2,14.3l0.2,-15.3l0.3,11.7l0.3,-2.7l0.2,4.2l0.2,-1.4l0.3,-7.2l0.3,3.6l0.2,-1.2l0.2,2.3l0.3,-2.4l0.3,4l0.2,4.9l0.2,-5.1l0.3,-0.5l0.3,1.4l0.2,-6.4l0.2,4l0.3,-5.9l0.3,1.8l0.2,-4.6l0.2,5.5l0.3,-2.7l0.3,1l0.2,-0.3l0.2,-7.3l0.3,7.7l0.3,4l0.2,-1.8l0.2,2.9l0.3,-5.3l0.3,-0.9l0.2,-0.4l0.2,9.1l0.3,-3.9l0.3,-2.2l0.2,4.9l0.2,-5.4l0.3,-0.2l0.3,8.7l0.2,-14.6l0.2,7.3l0.3,-1.1l0.3,-4l0.2,7.2l0.2,-3.7l0.3,3.5l0.3,-3.6l0.2,4l0.2,-3.2l0.3,-8.1l0.3,8.8l0.2,-1.6l0.2,2.1l0.3,1.9l0.3,-2.4l0.2,-1l0.2,-5.4l0.3,2.3l0.3,-2.8l0.2,12.7l0.2,-1.5l0.3,-2l0.3,-7.4l0.2,8.2l0.2,-6.5l0.3,1.7l0.3,4.6l0.2,-6.6l0.2,-0.1l0.3,-3.1l0.3,8.4l0.2,-6.3l0.2,9.7l0.3,2.6l0.3,-4.5l0.2,-0.2l0.2,-2.4l0.3,2.5l0.3,6.1l0.2,0.5l0.2,-6.7l0.3,6.2l0.3,-7.4l0.2,3l0.2,-6.1l0.3,5.1l0.3,-0.7l0.2,-0.4l0.2,1.3l0.3,6.4l0.3,-6.6l0.2,2.5l0.2,-2.3l0.3,-3.6l0.3,2.6l0.2,-2.7l0.2,7l0.3,-2l0.3,-1.8l0.2,3.3l0.2,-2.4l0.3,3.8l0.3,-3.8l0.2,-5.3l0.2,2.2l0.3,1.4l0.3,-0.2l0.2,3.4l0.2,-4.5l0.3,0.7l0.3,3.3l0.2,-2.6l0.2,1.8l0.3,3.7l0.3,-9.8l0.2,3.7l0.2,-2.7l0.3,4.9l0.3,-0.5l0.2,1.3l0.2,-6.3l0.3,0.6l0.3,1.2l0.2,4.5l0.2,-3.2l0.3,-1.7l0.3,10l0.2,-6l0.2,-9.3l0.3,4.8l0.3,6.1l0.2,-0.3l0.2,11.9l0.3,-15.7l0.3,1.6l0.2,-4.5l0.2,2l0.3,2.7l0.3,3.1l0.2,-5.9l0.2,-0.7l0.3,2.2l0.3,1.3l0.2,-3.9l0.2,-1.4l0.3,5.4l0.3,8.5l0.2,-9.8l0.2,4.1l0.3,-4l0.3,0.1l0.2,0l0.2,-5.1l0.3,1.3l0.3,-3.3l0.2,5.5l0.2,1.9l0.3,4.7l0.3,-10.9l0.2,5.8l0.2,-2.1l0.3,-3.9l0.3,0.4l0.2,3.9l0.2,1.1l0.3,-5.8l0.3,-0.2l0.2,1.1l0.2,-1.1l0.3,2.4l0.3,-1.6l0.2,3.9l0.2,-4.8l0.3,0.7l0.3,3.1l0.2,0.9l0.2,0.2l0.3,-3l0.3,4.6l0.2,-3.9l0.2,2.5l0.3,-0.8l0.3,-6.2l0.2,1.4l0.2,8.8l0.3,-1.8l0.3,1.1l0.2,0.9l0.2,-0.3l0.3,-5.6l0.3,-1.5l0.2,6.1l0.2,-3.7l0.3,0.6l0.3,-1.2l0.2,2.4l0.2,-7.8l0.3,9l0.3,-9.4l0.2,6.2l0.2,-4.8l0.3,8.9l0.3,-2.5l0.2,4.3l0.2,-2.5l0.3,2.2l0.3,-0.7l0.2,-3.8l0.2,8.7l0.3,-6.5l0.3,-4.9l0.2,7.8l0.2,2.4l0.3,-7.5l0.3,4.1l0.2,-7.2l0.2,4.6l0.3,-0.8l0.3,6.6l0.2,-8.1l0.2,6.4l0.3,-4.9l0.3,6.9l0.2,-5.5l0.2,3.7l0.3,6.6l0.3,-8.6l0.2,-1.6l0.2,-0.7l0.3,8.3l0.3,-10.2l0.2,7.9l0.2,-3.6l0.3,5.1l0.3,-0.8l0.2,-4l0.2,0.4l0.3,2.6l0.3,-1.8l0.2,2.2l0.2,1.1l0.3,-7l0.3,2.7l0.2,-1.5l0.2,0.8l0.3,-3l0.3,9.8l0.2,-5l0.2,6.4l0.3,-11.9l0.3,3.7l0.2,-1.3l0.2,8.4l0.3,-2.1l0.3,1.1l0.2,-0.9l0.2,1.5l0.3,1.7l0.3,-12.2l0.2,4l0.2,2.9l0.3,0l0.3,-5l0.2,4.6l0.2,-6.4l0.3,21.4l0.3,-7.3l0.2,-6.8l0.2,-3.2l0.3,-1.1l0.3,-0.6l0.2,-7l0.2,9.8l0.3,-1.6l0.3,0.2l0.2,-2.4l0.2,-2.5l0.3,1.9l0.3,-2l0.2,8.7l0.2,-8.2l0.3,0.7l0.3,5.8l0.2,-6.5l0.2,5l0.3,-3.3l0.3,1.5l0.2,-1.5l0.2,7.9l0.3,-3.5l0.3,2.9l0.2,-3.9l0.2,-2.5l0.3,0.5l0.3,2.7l0.2,-8.3l0.2,1.8l0.3,7.9l0.3,0.7l0.2,-5.7l0.2,0.9l0.3,0l0.3,6.3l0.2,-5.2l0.2,-5.6l0.3,5.5l0.3,-2.2l0.2,-1.6l0.2,8.1l0.3,-3.6l0.3,-1.8l0.2,-9l0.2,8.4l0.3,0.1l0.3,1.6l0.2,-0.5l0.2,2.6l0.3,-9.9l0.3,7l0.2,2l0.2,-1.4l0.3,-4.9l0.3,4.1l0.2,-2.8l0.2,6.5l0.3,-2.4l0.3,-14.8l0.2,12.4l0.2,2.7l0.3,-0.7l0.3,-2.2l0.2,7.4l0.2,-7l0.3,-1.4l0.3,1.1l0.2,5l0.2,-10l0.3,6.8l0.3,-2.7l0.2,2l0.2,2.6l0.3,-0.4l0.3,0.7l0.2,-2.9l0.2,-4.8l0.3,7.9l0.3,-2.3l0.2,1.9l0.2,-2.8l0.3,-3.4l0.3,-3.8l0.2,2.1l0.2,7.4l0.3,-0.9l0.3,-6.5l0.2,7l0.2,-6l0.3,1.9l0.3,0.5l0.2,3.1l0.2,1.2l0.3,-1l0.3,-3.4l0.2,-2.1l0.2,1l0.3,5.3l0.3,-1.7l0.2,4.7l0.2,-2.3l0.3,2.2l0.3,-1.6l0.2,-5.6l0.2,-3l0.3,-4.2l0.3,3.4l0.2,9.6l0.2,-5.4l0.3,2.5l0.3,-2.1l0.2,-3.3l0.2,-2.2l0.3,10.6l0.3,-2.9l0.2,-7.5l0.2,2.4l0.3,2.8l0.3,-5.4l0.2,6.8l0.2,-8.6l0.3,10.6l0.3,0.2l0.2,-4.5l0.2,-1.4l0.3,2.4l0.3,-8.9l0.2,4.5l0.2,16.3l0.3,-13.2l0.3,5.6l0.2,-11.9l0.2,12.5l0.3,-0.7l0.3,-13.4l0.2,3.7l0.2,4.9l0.3,4.2l0.3,-7.2l0.2,-3.4l0.2,12.5l0.3,-5.9l0.3,-0.3l0.2,6.8l0.2,-6.2l0.3,4.5l0.3,-6.1l0.2,-2.7l0.2,8l0.3,3.6l0.3,-15.7l0.2,16l0.2,-6.3l0.3,4.9l0.3,0.5l0.2,-6.5l0.2,7.7l0.3,-9.4l0.3,2.9l0.2,3.1l0.2,-4.5l0.3,-3.9l0.3,13.7l0.2,-7.1l0.2,-3.8l0.3,7.1l0.3,-2.5l0.2,-5l0.2,2.5l0.3,2.7l0.3,6.3l0.2,-9.6l0.2,6.5l0.3,0.1l0.3,-5l0.2,-6.4l0.2,7.2l0.3,-7l0.3,6.2l0.2,1.2l0.2,-6.2l0.3,1.6l0.3,-0.9l0.2,3.6l0.2,3.2l0.3,-0.9l0.3,-4.9l0.2,9.2l0.2,-7.7l0.3,0.8l0.3,4.1l0.2,-2.2l0.2,-5.8l0.3,6.8l0.3,-7.7l0.2,8.7l0.2,-2.9l0.3,-10.8l0.3,13.8l0.2,-2.4l0.2,5.7l0.3,-12.5l0.3,8.2l0.2,5.6l0.2,-11l0.3,8.9l0.3,-5.4l0.2,2.9l0.2,6.2l0.3,-12l0.3,7.4l0.2,-6l0.2,9.9l0.3,-2.4l0.3,3.2l0.2,-3.7l0.2,-3.5l0.3,4.9l0.3,-1.3l0.2,-2.3l0.2,-4.8l0.3,6.5l0.3,0.2l0.2,3.6l0.2,-9.8l0.3,8.7l0.3,-11.7l0.2,6.2l0.2,-0.3l0.3,-4l0.3,3.6l0.2,2.8l0.2,-2.3l0.3,-9.6l0.3,7.8l0.2,0.3l0.2,-1.1l0.3,2l0.3,2.1l0.2,-5.6l0.2,4l0.3,-3.2l0.3,0.4l0.2,-0.6l0.2,2.2l0.3,3.1l0.3,0.8l0.2,-3.4l0.2,-2l0.3,-2l0.3,2.6l0.2,-4.5l0.2,5.4l0.3,-1.6l0.3,0.8l0.2,-0.8l0.2,-0.8l0.3,1.1l0.3,-7.7l0.2,13l0.2,-9.1l0.3,11.4l0.3,-3.2l0.2,1.6l0.2,-5.6l0.3,-4.7l0.3,4.6l0.2,-5l0.2,8.4l0.3,0.7l0.3,2.9l0.2,-1.5l0.2,-3.9l0.3,-0.5l0.3,2.9l0.2,-0.7l0.2,-12l0.3,13.7l0.3,0.2l0.2,0.6l0.2,2.7l0.3,-6.7l0.3,-3.5l0.2,5.1l0.2,-5.7l0.3,4.4l0.3,-5l0.2,4.4l0.2,1.4l0.3,-0.1l0.3,-8.2l0.2,9.1l0.2,-6.7l0.3,3.4l0.3,-4.5l0.2,4.4l0.2,1.8l0.3,-4.5l0.3,2.7l0.2,-5.4l0.2,7.2l0.3,-5.5l0.3,6.1l0.2,-6.7l0.2,7l0.3,-5.6l0.3,-3.5l0.2,9.7l0.2,-2.5l0.3,-1.8l0.3,-3.9l0.2,6l0.2,3.4l0.3,-16.3l0.3,15.5l0.2,-0.4l0.2,-0.8l0.3,-5.3l0.3,4l0.2,-2.1l0.2,-3.4l0.3,4.4l0.3,3.7l0.2,-10.1l0.2,4.7l0.3,-0.3l0.3,10l0.2,-8.2l0.2,3l0.3,-4.2l0.3,1.4l0.2,1.4l0.2,-2.1l0.3,0.5l0.3,-4.3l0.2,1.2l0.2,5.5l0.3,-0.8l0.3,-5l0.2,2.5l0.2,4.2l0.3,0.3l0.3,-6.1l0.2,1.8l0.2,0.1l0.3,0l0.3,5.4l0.2,-3.5l0.2,-2.9l0.3,0.9l0.3,-6.7l0.2,-0.5l0.2,8.4l0.3,5.5l0.3,-6.5l0.2,-2.3l0.2,-0.7l0.3,2.3l0.3,2l0.2,-4.2l0.2,7l0.3,-2.9l0.3,-0.7l0.2,-1.2l0.2,1.3l0.3,-0.5l0.3,1.6l0.2,-5.5l0.2,4.9l0.3,-0.3l0.3,-6.5l0.2,9.6l0.2,-3.5l0.3,-3.4l0.3,10.3l0.2,-7.5l0.2,-1l0.3,3.2l0.3,-2l0.2,3.4l0.2,3.1l0.3,-8.2l0.3,6.9l0.2,-3.2l0.2,-2.2l0.3,3.4l0.3,-6.4l0.2,-1.8l0.2,2.3l0.3,1.6l0.3,-1l0.2,4.3l0.2,4.9l0.3,-8.9l0.3,3.5l0.2,-4.2l0.2,1.8l0.3,3l0.3,2.3l0.2,-4l0.2,2l0.3,-0.7l0.3,-0.7l0.2,-3.4l0.2,3.9l0.3,-0.2l0.3,-4l0.2,-5.4l0.2,13.5l0.3,-7.7l0.3,2.7l0.2,-3.7l0.2,2.9l0.3,7.7l0.3,-9.6l0.2,9.3l0.2,-0.5l0.3,-6.4l0.3,-4.6l0.2,4.7l0.2,-2.1l0.3,0.6l0.3,4.6l0.2,-2.1l0.2,-1.5l0.3,-1.3l0.3,6.8l0.2,-8.9l0.2,4.1l0.3,-2.4l0.3,5.3l0.2,-2.9l0.2,-0.3l0.3,1.9l0.3,-2.6l0.2,-0.7l0.2,-0.1l0.3,0.2l0.3,1l0.2,-0.9l0.2,-1.4l0.3,6.1l0.3,1.6l0.2,-4.2l0.2,-1.7l0.3,3.9l0.3,-11l0.2,15.6l0.2,-10.4l0.3,3.2l0.3,-4.6l0.2,2.9l0.2,4.7l0.3,1l0.3,-4.3l0.2,-0.6l0.2,6.3l0.3,0.4l0.3,-7.7l0.2,3.3l0.2,-8l0.3,10l0.3,-5.6l0.2,-1l0.2,-1.2l0.3,5.8l0.3,7.2l0.2,-8.5l0.2,2.9l0.3,-11.1l0.3,7.7l0.2,1.8l0.2,6l0.3,-3.5l0.3,-5.6l0.2,3.6l0.2,6.2l0.3,-9.2l0.3,0l0.2,-0.5l0.2,-2.6l0.3,5.3l0.3,4.4l0.2,-5.4l0.2,-1.3l0.3,2.8l0.3,2.1l0.2,-9.8l0.2,5.8l0.3,3.7l0.3,-5.4l0.2,2.1l0.2,0.4l0.3,-2.5l0.3,6.7l0.2,-4.1l0.2,1.3l0.3,-1.6l0.3,3.3l0.2,1.8l0.2,-5.6l0.3,3.4l0.3,-0.7l0.2,-7.7l0.2,7.7l0.3,8.4l0.3,-5.1l0.2,-2.4l0.2,-4.7l0.3,3l0.3,2l0.2,-2.4l0.2,-3.7l0.3,3l0.3,2.2l0.2,-5.8l0.2,6.4l0.3,-1.7l0.3,-0.4l0.2,6.2l0.2,-4l0.3,0.8l0.3,-2.8l0.2,1.4l0.2,1.7l0.3,-5.2l0.3,2.2l0.2,1l0.2,-7.7l0.3,13.1l0.3,-10l0.2,6.8l0.2,-8.5l0.3,9.9l0.3,-5.5l0.2,3.1l0.2,6.1l0.3,-7.3l0.3,-6.4l0.2,5.4l0.2,0.1l0.3,2.5l0.3,3l0.2,-8.9l0.2,7.5l0.3,-6l0.3,9.9l0.2,-1.4l0.2,-3.1l0.3,-5.2l0.3,6.1l0.2,-4l0.2,-1.2l0.3,5.3l0.3,-6l0.2,2.1l0.2,-1.3l0.3,4.6l0.3,-1.3l0.2,1.7l0.2,0.5l0.3,-2.2l0.3,-4.5l0.2,13.1l0.2,-12.1l0.3,6.7l0.3,-1.4l0.2,6.6l0.2,-3.7l0.3,-4.5l0.3,-4.4l0.2,7.1l0.2,1.8l0.3,-6.4l0.3,3.4l0.2,-3.3l0.2,6.2l0.3,-3.4l0.3,3.1l0.2,-3.6l0.2,1.6l0.3,4.1l0.3,-3l0.2,-4.3l0.2,2.1l0.3,0.8l0.3,2.4l0.2,-0.7l0.2,1.7l0.3,-13.3l0.3,8.3l0.2,1.9l0.2,5.2l0.3,0.7l0.3,-3.3l0.2,0.7l0.2,8.3l0.3,-9.8l0.3,4.4l0.2,-6.8l0.2,-0.2l0.3,1l0.3,3.7l0.2,-3.4l0.2,1.5l0.3,4.1l0.3,-1.5l0.2,-5.9l0.2,2.2l0.3,9.2l0.3,-13.5l0.2,3.3l0.2,7.7l0.3,3.4l0.3,-4.7l0.2,0.4l0.2,0.1l0.3,-4.8l0.3,-0.5l0.2,0.6l0.2,-2.4l0.3,4.5l0.3,-0.3l0.2,-3.1l0.2,5.5l0.3,-3.2l0.3,3.2l0.2,-1.1l0.2,-3.5l0.3,-3.1l0.3,6.4l0.2,2.2l0.2,-2.4l0.3,0.5l0.3,-3.7l0.2,3.1l0.2,-2.6l0.3,1.8l0.3,-0.7l0.2,3.2l0.2,-2.1l0.3,2.4l0.3,-3.3l0.2,-0.5l0.2,0.8l0.3,5l0.3,-1.8l0.2,-1.2l0.2,4.2l0.3,-3.5l0.3,4.4l0.2,-4l0.2,-0.2l0.3,-0.8l0.3,6.6l0.2,-1.8l0.2,-1.9l0.3,1.6l0.3,-2.7l0.2,-7.7l0.2,9.9l0.3,-5.2l0.3,-5l0.2,-2l0.2,4l0.3,3.1l0.3,1l0.2,3.6l0.2,-2.9l0.3,-7.4l0.3,12l0.2,-6.1l0.2,0.7l0.3,-1l0.3,2.2l0.2,7.7l0.2,-8.7l0.3,6l0.3,-4.5l0.2,0.2l0.2,2l0.3,1.5l0.3,-2.6l0.2,-0.5" fill="none" stroke="#e8302a" stroke-width="0.9" stroke-linejoin="bevel"/><path d="M425,553.7l1,0.6l1,0.5l1,0.3l1,0.1l1,-0.3l1,-0.6l1,0.1l1,-0.1l1,-0.5l1,-1.6l1,-1.1l1,-0.2l1,0.2l1,-0.3l1,-0.7l1,0.4l1,0.5l1,0.5l1,1l1,0l1,-1.1l1,-0.5l1,-0.2l1,0l1,0l1,-0.4l1,-0.7l1,-0.2l1,-0.3l1,-0.5l1,-0.5l1,0.3l1,0.8l1,-0.8l1,-0.9l1,-0.7l1,-0.9l1,-1.4l1,-1.6l1,0.6l1,0.1l1,-0.7l1,0.3l1,0.4l1,0.8l1,1.9l1,2.3l1,2.1l1,0.2l1,0.4l1,1l1,2l1,0.5l1,-0.9l1,0.3l1,0.5l1,0.3l1,-0.1l1,-0.1l1,0.2l1,0.7l1,0.5l1,0l1,-0.7l1,-0.6l1,-0.3l1,-0.1l1,-0.2l1,-0.2l1,0l1,-0.5l1,-1.3l1,-1.9l1,-0.9l1,-0.1l1,-0.7l1,-0.6l1,-0.4l1,0.1l1,0.3l1,0.3l1,0l1,1.3l1,2.4l1,0.6l1,1l1,1.6l1,0.5l1,1.2l1,1.9l1,-0.1l1,0.1l1,0.3l1,-1.4l1,-1.9l1,-1.9l1,-0.6l1,-0.8l1,-1.2l1,0l1,-0.1l1,-0.3l1,0.2l1,0.3l1,0.3l1,-0.6l1,0.7l1,1.9l1,0.8l1,0l1,-0.7l1,0.5l1,-0.1l1,-0.6l1,0.1l1,0.7l1,0.8l1,-0.5l1,-0.6l1,-0.3l1,0.4l1,-0.6l1,-1.6l1,-0.1l1,-0.5l1,-0.9l1,0.4l1,-0.2l1,-0.8l1,0.6l1,-0.7l1,-1.8l1,0l1,-0.3l1,-0.8l1,0.1l1,-0.4l1,-0.9l1,-0.8l1,-0.5l1,-0.3l1,0.1l1,-0.1l1,-0.2l1,-0.5l1,0.3l1,0.9l1,0.8l1,0.5l1,0.2l1,0.5l1,0.7l1,0.7l1,1.5l1,1.4l1,1.2l1,1.4l1,2l1,2.1l1,0.2l1,0l1,0.1l1,-0.7l1,-0.3l1,0l1,-0.2l1,-0.1l1,-0.2l1,-0.9l1,-0.5l1,-0.2l1,-1l1,-0.8l1,-0.4l1,-1.3l1,-0.1l1,1.4l1,1.1l1,0.2l1,-0.7l1,-1.1l1,0.1l1,1l1,-0.3l1,-0.5l1,-0.6l1,-0.9l1,-0.8l1,-0.5l1,-0.2l1,0.1l1,0.1l1,-0.3l1,-0.1l1,0l1,-0.5l1,-0.5l1,-0.2l1,1.8l1,0.6l1,-0.8l1,-1.8l1,-0.7l1,0.7l1,0.7l1,0.7l1,0.5l1,0.1l1,0.5l1,1l1,0.6l1,0.5l1,0.2l1,-0.1l1,0.3l1,0.6l1,-0.7l1,0.1l1,1l1,-0.4l1,-0.2l1,0.5l1,0.5l1,0.7l1,0.6l1,-0.1l1,-0.4l1,-0.6l1,-0.5l1,-0.2l1,0.1l1,-0.5l1,-1l1,-1.4l1,-0.4l1,-0.4l1,-0.7l1,-0.6l1,-1l1,-1.2l1,0.4l1,-0.2l1,-0.9l1,0.1l1,0l1,-0.2l1,-0.5l1,0.3l1,0.9l1,0.1l1,0l1,0.1l1,0.9l1,0.3l1,-0.3l1,1.7l1,1l1,0.1l1,1l1,0.7l1,0.1l1,0.3l1,0.9l1,1.2l1,0.8l1,0.5l1,0.4l1,0.7l1,1.4l1,1.8l1,0.1l1,-0.1l1,-0.1l1,0.2l1,0.2l1,0.2l1,0.8l1,0.4l1,-0.3l1,-0.6l1,-0.5l1,-0.1l1,-0.4l1,-0.1l1,0l1,-1.3l1,-0.7l1,0l1,0l1,0.1l1,-0.1l1,-0.1l1,-0.6l1,-1.1l1,-0.7l1,-0.8l1,-0.7l1,0.6l1,-0.1l1,-1.1l1,-1.3l1,-1.6l1,-1.6l1,-1.3l1,0l1,1.1l1,0l1,-0.4l1,-0.6l1,-0.2l1,-0.1l1,0.1l1,0.7l1,-0.2l1,-1l1,1l1,0.3l1,-0.6l1,0.5l1,0l1,-0.6" fill="none" stroke="#111" stroke-width="3.5" stroke-linejoin="round"/><path d="M425,549.5l0.2,0.2l0.3,3.2l0.3,-6.9l0.2,13.1l0.2,-6.5l0.3,-0.8l0.3,3.3l0.2,2.2l0.2,-2.2l0.3,0.1l0.3,-2.2l0.2,-0.9l0.2,1.8l0.3,2l0.3,1.8l0.2,-4.7l0.2,11.1l0.3,-6.6l0.3,5.8l0.2,-6l0.2,-4.4l0.3,2.5l0.3,0.1l0.2,4.3l0.2,-5.4l0.3,1.6l0.3,-5.4l0.2,3.5l0.2,-2.3l0.3,2.6l0.3,-7l0.2,0l0.2,14.6l0.3,-4.1l0.3,4.2l0.2,-0.5l0.2,-11.8l0.3,-2.9l0.3,4.8l0.2,5.1l0.2,-11.9l0.3,9.3l0.3,-1.2l0.2,-6.3l0.2,11.2l0.3,-8.9l0.3,4l0.2,-6.6l0.2,-20.3l0.3,29.3l0.3,-4.8l0.2,-5.1l0.2,1.8l0.3,20.3l0.3,-13.9l0.2,-1.9l0.2,-2.9l0.3,-2.9l0.3,-0.4l0.2,8.6l0.2,1.5l0.3,1.6l0.3,-7l0.2,-5.6l0.2,6.3l0.3,-1.9l0.3,2.9l0.2,3.9l0.2,-6.1l0.3,3.8l0.3,-0.7l0.2,-5.5l0.2,9.1l0.3,-7.6l0.3,-1.8l0.2,4.6l0.2,5.1l0.3,-6.4l0.3,10.6l0.2,-4l0.2,-4.5l0.3,-7.1l0.3,7.7l0.2,-4.7l0.2,7l0.3,-8.4l0.3,9.6l0.2,3.2l0.2,-10.4l0.3,4.8l0.3,2.4l0.2,-8l0.2,-3.3l0.3,6.3l0.3,-5.6l0.2,0.3l0.2,0l0.3,6.5l0.3,-1.7l0.2,0.7l0.2,10.7l0.3,-17.5l0.3,6l0.2,-1.6l0.2,5.3l0.3,-8.2l0.3,4l0.2,0.4l0.2,6.3l0.3,-8.4l0.3,4.3l0.2,-4.4l0.2,1.4l0.3,-3.9l0.3,2.1l0.2,2.4l0.2,-5.1l0.3,1.9l0.3,2.7l0.2,7.5l0.2,-11.7l0.3,2.5l0.3,-0.4l0.2,-1.4l0.2,0.1l0.3,-1.4l0.3,5.5l0.2,1l0.2,-3.8l0.3,-1.4l0.3,0.9l0.2,-1.1l0.2,4.2l0.3,-2.7l0.3,4.7l0.2,-7.1l0.2,3.5l0.3,3.2l0.3,-4.3l0.2,0l0.2,-3.4l0.3,5.5l0.3,-3.4l0.2,-3l0.2,-1l0.3,3.9l0.3,-3.5l0.2,1.6l0.2,5.2l0.3,-4.8l0.3,-4.9l0.2,-3.4l0.2,9.4l0.3,3.5l0.3,-6l0.2,-2.1l0.2,-3.7l0.3,2.4l0.3,5.3l0.2,-6.4l0.2,11l0.3,-7.7l0.3,-2.3l0.2,5.1l0.2,-2.9l0.3,-2.4l0.3,3.1l0.2,0.4l0.2,-1.8l0.3,4.3l0.3,-8.1l0.2,18l0.2,-16.4l0.3,5.3l0.3,-3.4l0.2,1.8l0.2,-1.3l0.3,4.9l0.3,1.3l0.2,-4.5l0.2,0.4l0.3,2.3l0.3,0l0.2,1.4l0.2,-2.2l0.3,-1.5l0.3,1.5l0.2,8.3l0.2,-2.7l0.3,-9.2l0.3,8.1l0.2,0.3l0.2,5.1l0.3,-6.4l0.3,1.7l0.2,0l0.2,-2.1l0.3,7l0.3,-1.7l0.2,-4.8l0.2,0.9l0.3,-4.5l0.3,12.3l0.2,-3.5l0.2,-0.9l0.3,0.1l0.3,2l0.2,-0.4l0.2,-2.2l0.3,2.3l0.3,3l0.2,-4.9l0.2,2.5l0.3,-0.3l0.3,-5.1l0.2,-0.5l0.2,1.4l0.3,3.4l0.3,0.5l0.2,2.1l0.2,-8.8l0.3,-1.5l0.3,8.9l0.2,-2.9l0.2,2.1l0.3,-2.7l0.3,5.1l0.2,-2.5l0.2,2.9l0.3,-2.1l0.3,3.2l0.2,-9.9l0.2,11.9l0.3,-14.8l0.3,10.1l0.2,-2.9l0.2,6.6l0.3,-4.9l0.3,1.5l0.2,-9.5l0.2,13.7l0.3,-8.4l0.3,3.7l0.2,1l0.2,1l0.3,-4.4l0.3,-4.3l0.2,12.6l0.2,-0.7l0.3,-15.5l0.3,7.1l0.2,4.4l0.2,-0.5l0.3,0.2l0.3,-2.4l0.2,-0.1l0.2,1.5l0.3,-1.8l0.3,1.9l0.2,0.6l0.2,2l0.3,-1.3l0.3,-1.1l0.2,2.6l0.2,-6.6l0.3,6.7l0.3,-4l0.2,-4.1l0.2,7.1l0.3,-4.9l0.3,5l0.2,-1.4l0.2,-0.4l0.3,-0.8l0.3,-4.2l0.2,2.8l0.2,1.5l0.3,-1.5l0.3,2.8l0.2,-1.9l0.2,1.9l0.3,-5.6l0.3,4l0.2,2.5l0.2,-7.7l0.3,-3.3l0.3,8.2l0.2,-3.5l0.2,-5.2l0.3,2l0.3,3.9l0.2,-2.2l0.2,11.9l0.3,-11.3l0.3,-11.1l0.2,12.3l0.2,0.1l0.3,-4.4l0.3,0.3l0.2,1.3l0.2,0.7l0.3,-0.9l0.3,-1.6l0.2,0.4l0.2,-2.9l0.3,5.9l0.3,-0.3l0.2,-5.9l0.2,5l0.3,-11l0.3,7.3l0.2,5.1l0.2,-6.7l0.3,8.1l0.3,-3.6l0.2,-2.8l0.2,3.6l0.3,-4.6l0.3,1.9l0.2,-0.3l0.2,3.9l0.3,0.8l0.3,-6.9l0.2,8.6l0.2,-8.1l0.3,8.2l0.3,-1.3l0.2,-2.4l0.2,-3.8l0.3,-1.4l0.3,-4.9l0.2,5.8l0.2,5l0.3,0.7l0.3,1.7l0.2,-5.9l0.2,6.7l0.3,2.6l0.3,-10.7l0.2,1.3l0.2,5l0.3,-0.2l0.3,-6.5l0.2,11.9l0.2,-0.7l0.3,-2l0.3,-1.9l0.2,3l0.2,-0.9l0.3,8.9l0.3,-9.4l0.2,1.8l0.2,-4.4l0.3,7.3l0.3,-3.4l0.2,1.9l0.2,0.9l0.3,-4l0.3,-1.5l0.2,5.4l0.2,2.5l0.3,-1.9l0.3,-2.7l0.2,2.3l0.2,3.5l0.3,-0.1l0.3,1.9l0.2,0.1l0.2,-2.4l0.3,-2.1l0.3,-3.1l0.2,6.1l0.2,-4.4l0.3,6.3l0.3,-5.8l0.2,-4.5l0.2,2.1l0.3,-2.8l0.3,0.9l0.2,6.2l0.2,-2.8l0.3,-5l0.3,8.8l0.2,-6l0.2,4.6l0.3,-3.8l0.3,-0.6l0.2,1.4l0.2,1.1l0.3,-4.8l0.3,-6.3l0.2,14.3l0.2,-12.5l0.3,6.7l0.3,-2.2l0.2,-4l0.2,5.5l0.3,0.3l0.3,-1.2l0.2,1.8l0.2,-0.3l0.3,-12.5l0.3,9.8l0.2,-0.3l0.2,-6.2l0.3,2.3l0.3,3.7l0.2,-2.7l0.2,4.2l0.3,-0.8l0.3,-5.7l0.2,10.2l0.2,-9l0.3,4.5l0.3,4.5l0.2,-1.8l0.2,-0.9l0.3,-8.6l0.3,11.9l0.2,-5.3l0.2,-0.6l0.3,2.9l0.3,-2.6l0.2,-1.7l0.2,1l0.3,-3.6l0.3,5.5l0.2,4.3l0.2,-8.2l0.3,-1l0.3,9.3l0.2,0.7l0.2,-10.5l0.3,12.9l0.3,-5l0.2,2.9l0.2,-10.7l0.3,7.5l0.3,-8l0.2,-1l0.2,12.8l0.3,-7.2l0.3,3.7l0.2,-2.4l0.2,-0.6l0.3,4.9l0.3,-1.5l0.2,-1.1l0.2,0.5l0.3,-2.2l0.3,0.4l0.2,1.8l0.2,-1.4l0.3,-0.5l0.3,6.5l0.2,-3.6l0.2,1l0.3,-2l0.3,-0.5l0.2,-3.7l0.2,5.9l0.3,-2.6l0.3,4.6l0.2,-4.6l0.2,-1.4l0.3,8.3l0.3,-5.6l0.2,-11.1l0.2,6.7l0.3,7.4l0.3,-1.7l0.2,-3.3l0.2,4.8l0.3,-7l0.3,6.1l0.2,6.9l0.2,-13.6l0.3,4.5l0.3,-2l0.2,-2.9l0.2,2.9l0.3,-5.6l0.3,4.4l0.2,-2.4l0.2,4.9l0.3,1.2l0.3,-1.1l0.2,1.8l0.2,-3.8l0.3,0l0.3,-3.1l0.2,-1.3l0.2,7l0.3,-0.6l0.3,-5.4l0.2,3.5l0.2,0.1l0.3,0.1l0.3,-1.2l0.2,0.4l0.2,-1.7l0.3,-0.5l0.3,-4.2l0.2,8.4l0.2,-4.2l0.3,1.8l0.3,-0.3l0.2,9.3l0.2,-13.3l0.3,4.6l0.3,-2.6l0.2,1.2l0.2,0.1l0.3,2.8l0.3,-5.8l0.2,1.5l0.2,9.5l0.3,-9.4l0.3,2.2l0.2,-2.3l0.2,-0.4l0.3,0.2l0.3,-2.3l0.2,4.9l0.2,0l0.3,0.9l0.3,-6.9l0.2,3.8l0.2,-8.2l0.3,6.4l0.3,3.7l0.2,-6.9l0.2,-0.1l0.3,4.1l0.3,-3.8l0.2,8.9l0.2,-10l0.3,-0.1l0.3,7l0.2,-6.2l0.2,6.5l0.3,-4.6l0.3,-7.1l0.2,7.3l0.2,2.8l0.3,1.2l0.3,-6.1l0.2,2.6l0.2,0.4l0.3,2.3l0.3,-0.8l0.2,-4.6l0.2,1.8l0.3,-2l0.3,0.9l0.2,-2.5l0.2,3.5l0.3,-3.4l0.3,3.1l0.2,-4.9l0.2,7.1l0.3,-1.9l0.3,-10.7l0.2,12.7l0.2,-5.2l0.3,-2.3l0.3,2l0.2,1.7l0.2,4.3l0.3,-2.5l0.3,0.2l0.2,8.1l0.2,-2.5l0.3,-4.3l0.3,-1.3l0.2,0.8l0.2,1.7l0.3,-4.9l0.3,3.3l0.2,0.9l0.2,-0.2l0.3,-6.9l0.3,-0.4l0.2,2.7l0.2,4.1l0.3,-6.2l0.3,5.3l0.2,-5l0.2,-7.4l0.3,14.1l0.3,-3.7l0.2,-4.8l0.2,9.5l0.3,-3.6l0.3,-3.7l0.2,4.9l0.2,-5l0.3,6l0.3,-14.7l0.2,9.3l0.2,3.2l0.3,8l0.3,-8l0.2,-0.7l0.2,-0.7l0.3,3l0.3,0.7l0.2,-0.5l0.2,-3.9l0.3,4.1l0.3,-3l0.2,-7.6l0.2,13.5l0.3,0.9l0.3,-5.7l0.2,4.3l0.2,-1.5l0.3,3.4l0.3,-9.5l0.2,10.5l0.2,-7.3l0.3,1.8l0.3,0.9l0.2,11.5l0.2,-6.1l0.3,2.4l0.3,-1.3l0.2,3.8l0.2,-3l0.3,-2.7l0.3,7.8l0.2,2.4l0.2,-8.9l0.3,-0.4l0.3,8.7l0.2,-10.5l0.2,7.8l0.3,-4.1l0.3,-3.1l0.2,6.5l0.2,-4.6l0.3,7.8l0.3,-8l0.2,2.6l0.2,3.7l0.3,-0.8l0.3,2.6l0.2,-0.1l0.2,-1.4l0.3,-3.1l0.3,0.4l0.2,-0.3l0.2,-0.3l0.3,1.3l0.3,-7.8l0.2,6.6l0.2,-0.2l0.3,-0.1l0.3,-4.3l0.2,8.4l0.2,-6.8l0.3,-1.1l0.3,5.2l0.2,-5.8l0.2,10.3l0.3,-5.4l0.3,4.2l0.2,-5.6l0.2,-3.2l0.3,4.1l0.3,-3.6l0.2,1.5l0.2,1.1l0.3,-0.7l0.3,-0.4l0.2,-1.4l0.2,2.4l0.3,4l0.3,-2.6l0.2,0.2l0.2,-1l0.3,1.1l0.3,-0.9l0.2,-3.3l0.2,3.2l0.3,3.5l0.3,-2l0.2,-19.8l0.2,17.3l0.3,-3l0.3,3.2l0.2,-5.3l0.2,5.9l0.3,-8.7l0.3,6.5l0.2,-3.5l0.2,2.3l0.3,-2.3l0.3,4l0.2,-1.8l0.2,5.7l0.3,-3.1l0.3,3.8l0.2,-3.7l0.2,-1.7l0.3,1.8l0.3,-2.7l0.2,-2l0.2,-2.3l0.3,-0.8l0.3,0.7l0.2,2.8l0.2,6.9l0.3,-8.7l0.3,8.9l0.2,-10.2l0.2,9.9l0.3,-4.8l0.3,-5.9l0.2,7.4l0.2,1.3l0.3,-3.7l0.3,4.8l0.2,-11.5l0.2,6.9l0.3,-2.4l0.3,-0.7l0.2,-5.3l0.2,7.9l0.3,-2.1l0.3,7.1l0.2,0l0.2,-2.9l0.3,1.2l0.3,-1.8l0.2,0.7l0.2,2.1l0.3,-0.3l0.3,5.9l0.2,-8.2l0.2,-1.1l0.3,5.2l0.3,-9.4l0.2,6.2l0.2,-0.8l0.3,-4.4l0.3,-2.6l0.2,8l0.2,-10.1l0.3,9.4l0.3,-6.5l0.2,2l0.2,1l0.3,0l0.3,-0.2l0.2,2.9l0.2,-5.2l0.3,-1.6l0.3,0.9l0.2,-3l0.2,-0.6l0.3,5.6l0.3,0.1l0.2,2.7l0.2,-2.9l0.3,-2.5l0.3,-1.6l0.2,6.3l0.2,5.5l0.3,-9.5l0.3,-4l0.2,-2.9l0.2,4.3l0.3,-0.5l0.3,5.4l0.2,-3.3l0.2,5.7l0.3,-4.8l0.3,5.9l0.2,-5.5l0.2,3.7l0.3,-4l0.3,-0.5l0.2,2l0.2,2.7l0.3,-10.1l0.3,6.5l0.2,1.7l0.2,4.8l0.3,-10.3l0.3,13.1l0.2,-9.3l0.2,2.8l0.3,-2.7l0.3,4.9l0.2,-6.5l0.2,-1.7l0.3,6.4l0.3,-20.8l0.2,14.3l0.2,5l0.3,-3.4l0.3,6.8l0.2,1.1l0.2,-7.9l0.3,2.7l0.3,9.7l0.2,-11.3l0.2,-3l0.3,1.3l0.3,-5.1l0.2,1.7l0.2,6.2l0.3,-3.5l0.3,-6.6l0.2,6.4l0.2,-0.9l0.3,6.3l0.3,1l0.2,3.2l0.2,-9.8l0.3,-3.3l0.3,10.9l0.2,-6.5l0.2,8.6l0.3,-9.9l0.3,-0.6l0.2,1.3l0.2,4.5l0.3,8.5l0.3,-5.9l0.2,-0.5l0.2,-1.7l0.3,-2.5l0.3,8.5l0.2,-13.1l0.2,4.1l0.3,3l0.3,4.1l0.2,-1.4l0.2,0.9l0.3,-4.1l0.3,4l0.2,-3.8l0.2,2.2l0.3,3.8l0.3,1.1l0.2,-4.4l0.2,-4.8l0.3,5.6l0.3,-1.4l0.2,3.2l0.2,-2.7l0.3,-1.3l0.3,-5.4l0.2,-1.2l0.2,9.3l0.3,2.9l0.3,-4.8l0.2,-3.3l0.2,6l0.3,2.2l0.3,-5.1l0.2,1.5l0.2,3.6l0.3,1.1l0.3,-5.4l0.2,-2.2l0.2,-1.9l0.3,5.6l0.3,-1l0.2,-2l0.2,-1.1l0.3,0.8l0.3,2.8l0.2,1.4l0.2,-0.7l0.3,-4l0.3,8.5l0.2,5.1l0.2,-13l0.3,4.5l0.3,-6.6l0.2,8.2l0.2,-2.2l0.3,4.6l0.3,-10.8l0.2,10.7l0.2,0.8l0.3,-4.1l0.3,-4.1l0.2,8.2l0.2,-9.1l0.3,5.9l0.3,-1.1l0.2,-1.5l0.2,-0.3l0.3,2.3l0.3,1.2l0.2,-2.6l0.2,4.1l0.3,-3.5l0.3,-8.6l0.2,10.3l0.2,-0.7l0.3,-4.5l0.3,0.2l0.2,3.5l0.2,4.2l0.3,3l0.3,-11.2l0.2,1.4l0.2,7.2l0.3,7.3l0.3,-19.3l0.2,6.3l0.2,4.1l0.3,-6.7l0.3,6.2l0.2,-6.4l0.2,-1.9l0.3,5.9l0.3,-10.2l0.2,9.4l0.2,-7l0.3,5.8l0.3,0.1l0.2,-0.8l0.2,0.7l0.3,-3.5l0.3,5.1l0.2,-4.1l0.2,-2.1l0.3,-2.4l0.3,1.6l0.2,-2.1l0.2,0.6l0.3,2.3l0.3,6l0.2,-5.2l0.2,3.5l0.3,-7.9l0.3,5.3l0.2,0.5l0.2,-0.9l0.3,4l0.3,-5.8l0.2,-3.3l0.2,3.7l0.3,0.1l0.3,-5.1l0.2,-1.4l0.2,4.7l0.3,-0.8l0.3,0.5l0.2,-0.6l0.2,2.2l0.3,-1.6l0.3,-4.1l0.2,4.5l0.2,4.1l0.3,-0.3l0.3,-4.6l0.2,2.7l0.2,-2.7l0.3,-2.4l0.3,1.1l0.2,-4.9l0.2,0.9l0.3,1.8l0.3,-1.4l0.2,0.7l0.2,-0.1l0.3,-0.2l0.3,7.8l0.2,-2.9l0.2,-4.2l0.3,1.3l0.3,-5.9l0.2,0.6l0.2,5.3l0.3,3.1l0.3,-5.8l0.2,1.5l0.2,-1.9l0.3,2.9l0.3,3.9l0.2,-1.6l0.2,-2.9l0.3,-4.4l0.3,6.2l0.2,-6.8l0.2,14.8l0.3,-3.3l0.3,-7.4l0.2,7.8l0.2,-6.6l0.3,7.4l0.3,-6l0.2,-0.4l0.2,0.9l0.3,0.3l0.3,4.7l0.2,-5.7l0.2,-1.4l0.3,4l0.3,-5.7l0.2,5.4l0.2,-2l0.3,1.9l0.3,-0.3l0.2,4.1l0.2,-7.6l0.3,5l0.3,-6.1l0.2,-0.1l0.2,11.8l0.3,3.4l0.3,-10.8l0.2,0.5l0.2,-2.8l0.3,3.2l0.3,6l0.2,-7.9l0.2,3l0.3,3.8l0.3,-3.6l0.2,-2.7l0.2,13.3l0.3,-3.8l0.3,-6.3l0.2,2.3l0.2,1.2l0.3,-3.9l0.3,-1.8l0.2,5.3l0.2,2.2l0.3,-5.5l0.3,2.4l0.2,5.8l0.2,-12.1l0.3,10.5l0.3,-5.4l0.2,-0.9l0.2,2l0.3,5l0.3,-12.4l0.2,8l0.2,4.3l0.3,0.5l0.3,-3.7l0.2,-1.9l0.2,-2.7l0.3,6.4l0.3,-4.5l0.2,-0.5l0.2,3.3l0.3,-6.9l0.3,9.4l0.2,1.8l0.2,-2.4l0.3,2.6l0.3,-6.1l0.2,4.2l0.2,2l0.3,-1.1l0.3,1.4l0.2,0.8l0.2,-7l0.3,4.3l0.3,-2.3l0.2,-3.1l0.2,11.4l0.3,-5.7l0.3,0.3l0.2,2.2l0.2,-2.7l0.3,-0.6l0.3,5l0.2,-1.2l0.2,4l0.3,-4.3l0.3,1.9l0.2,3l0.2,-6.8l0.3,0.7l0.3,1.3l0.2,2l0.2,2.4l0.3,-5l0.3,3.6l0.2,-3.5l0.2,5.1l0.3,-1.3l0.3,-4.9l0.2,1.1l0.2,-0.9l0.3,5.7l0.3,1.1l0.2,-6.9l0.2,3.4l0.3,1.2l0.3,-1.4l0.2,1.7l0.2,3.9l0.3,-6.6l0.3,-2.3l0.2,7.9l0.2,-7.2l0.3,2.8l0.3,-1.4l0.2,12.2l0.2,-12.7l0.3,8.7l0.3,-6.8l0.2,-5.2l0.2,-8l0.3,18.7l0.3,1.4l0.2,-6.2l0.2,0.1l0.3,-4l0.3,3.1l0.2,-1.2l0.2,-3.3l0.3,0.7l0.3,3.8l0.2,-0.2l0.2,-2.5l0.3,-2.5l0.3,17.9l0.2,-16.4l0.2,-0.1l0.3,5.7l0.3,-7.2l0.2,5l0.2,-4.4l0.3,1.2l0.3,1.1l0.2,-3.8l0.2,-4.7l0.3,6.2l0.3,1.6l0.2,-0.4l0.2,-2.1l0.3,-1.2l0.3,7.4l0.2,-9.1l0.2,9.5l0.3,-5.2l0.3,2.5l0.2,-3.9l0.2,3.7l0.3,-1.3l0.3,3l0.2,-2.2l0.2,2.7l0.3,-6l0.3,0.6l0.2,0.5l0.2,-1.2l0.3,5.2l0.3,-5.4l0.2,1l0.2,-4l0.3,-7.9l0.3,20.2l0.2,-8.1l0.2,4.9l0.3,-3.2l0.3,-0.3l0.2,-5.6l0.2,6.2l0.3,-2.6l0.3,1.1l0.2,1.2l0.2,-0.8l0.3,-1.6l0.3,-6.1l0.2,6.4l0.2,1.1l0.3,-3.2l0.3,4.3l0.2,-14.1l0.2,14.1l0.3,5.2l0.3,-17.4l0.2,5.9l0.2,2.9l0.3,1.6l0.3,-5.6l0.2,5.5l0.2,0.1l0.3,0.6l0.3,-13.9l0.2,11.3l0.2,-4.7l0.3,12.8l0.3,-10.9l0.2,6.7l0.2,-5.5l0.3,-3.5l0.3,-0.6l0.2,8l0.2,-9.2l0.3,5.1l0.3,2.2l0.2,-1.9l0.2,-3.7l0.3,-0.3l0.3,0.7l0.2,-1.7l0.2,-2.7l0.3,-0.6l0.3,-2.1l0.2,4.8l0.2,-0.1l0.3,1.3l0.3,-0.6l0.2,-5.5l0.2,3.3l0.3,-0.8l0.3,5.1l0.2,2.5l0.2,1.6l0.3,-6.4l0.3,-1.8l0.2,1.6l0.2,0.4l0.3,0.7l0.3,-3.3l0.2,-0.3l0.2,2l0.3,4.3l0.3,-1.9l0.2,-3.8l0.2,3.5l0.3,5.5l0.3,-4.6l0.2,-11.1l0.2,10.3l0.3,1.2l0.3,-2.9l0.2,1.4l0.2,1.7l0.3,-1.3l0.3,-0.2l0.2,-6l0.2,-2.9l0.3,4.3l0.3,3.8l0.2,5.2l0.2,-6.1l0.3,-1.5l0.3,2.2l0.2,0.6l0.2,6.5l0.3,-13.8l0.3,12.7l0.2,-12.5l0.2,6.9l0.3,-3.8l0.3,1.5l0.2,0.8l0.2,-2.1l0.3,-5.8l0.3,9.6l0.2,-6.5l0.2,7.3l0.3,1.5l0.3,-12.2l0.2,12.9l0.2,0.8l0.3,0.4l0.3,1.1l0.2,-16.1l0.2,7.2l0.3,-1.3l0.3,3.6l0.2,3.8l0.2,-17.4l0.3,13.1l0.3,0.8l0.2,-0.4" fill="none" stroke="#111" stroke-width="0.9" stroke-linejoin="bevel"/></g><rect x="424.5" y="310" width="321.1" height="258.4" fill="none" stroke="#222" stroke-width="1.3"/><line x1="437.3" y1="568.4" x2="437.3" y2="565.4" stroke="#222" stroke-width="1.2"/><line x1="476.9" y1="568.4" x2="476.9" y2="563.4" stroke="#222" stroke-width="1.2"/><line x1="516.4" y1="568.4" x2="516.4" y2="565.4" stroke="#222" stroke-width="1.2"/><line x1="556" y1="568.4" x2="556" y2="563.4" stroke="#222" stroke-width="1.2"/><line x1="595.5" y1="568.4" x2="595.5" y2="565.4" stroke="#222" stroke-width="1.2"/><line x1="635.1" y1="568.4" x2="635.1" y2="563.4" stroke="#222" stroke-width="1.2"/><line x1="674.6" y1="568.4" x2="674.6" y2="565.4" stroke="#222" stroke-width="1.2"/><line x1="714.2" y1="568.4" x2="714.2" y2="563.4" stroke="#222" stroke-width="1.2"/><text transform="translate(476.9,587.4) scale(1.0,1.08)" font-size="16.2" fill="#111" text-anchor="middle" >1500</text><text transform="translate(556,587.4) scale(1.0,1.08)" font-size="16.2" fill="#111" text-anchor="middle" >2000</text><text transform="translate(635.1,587.4) scale(1.0,1.08)" font-size="16.2" fill="#111" text-anchor="middle" >2500</text><text transform="translate(714.2,587.4) scale(1.0,1.08)" font-size="16.2" fill="#111" text-anchor="middle" >3000</text><text transform="translate(509.5,612) scale(1.0,1.05)" font-size="19.4" fill="#111" text-anchor="start" >Wavenumber (nm<tspan font-size="12" dy="-7.8" dx="1">-1</tspan><tspan dy="7.8">)</tspan></text><text transform="translate(405.5,434.3) rotate(-90)" font-size="20.1" fill="#111" text-anchor="middle">Intensity (a. u.)</text><text transform="translate(630,331) scale(1.0,1.1)" font-size="17" fill="#111" text-anchor="start" >600 °C</text><text transform="translate(630.4,374.7) scale(1.0,1.1)" font-size="17" fill="#111" text-anchor="start" >500 °C</text><text transform="translate(630.1,447.6) scale(1.0,1.1)" font-size="17" fill="#111" text-anchor="start" >400 °C</text><text transform="translate(631.4,492.6) scale(1.0,1.1)" font-size="17" fill="#111" text-anchor="start" >300 °C</text><text transform="translate(591,535) scale(1.0,1.1)" font-size="17" fill="#111" text-anchor="start" >before annealing</text><g clip-path="url(#clipf)"><line x1="795" y1="436.3" x2="1115" y2="439.6" stroke="#6cc04a" stroke-width="1.8"/><path d="M795,436.3L1115,438" stroke="#2b4ea6" stroke-width="2.4" fill="none"/><path d="M795,435.8L796,435.8L797,435.8L798,435.8L799,435.8L800,435.8L801,435.8L802,435.8L803,435.8L804,435.8L805,435.8L806,435.8L807,435.8L808,435.8L809,435.8L810,435.8L811,435.8L812,435.8L813,435.8L814,435.8L815,435.8L816,435.8L817,435.8L818,435.8L819,435.8L820,435.8L821,435.8L822,435.8L823,435.8L824,435.8L825,435.8L826,435.8L827,435.8L828,435.8L829,435.8L830,435.8L831,435.8L832,435.8L833,435.8L834,435.8L835,435.8L836,435.8L837,435.8L838,435.8L839,435.8L840,435.8L841,435.8L842,435.8L843,435.7L844,435.7L845,435.7L846,435.7L847,435.7L848,435.7L849,435.7L850,435.7L851,435.7L852,435.7L853,435.7L854,435.7L855,435.7L856,435.7L857,435.7L858,435.7L859,435.6L860,435.6L861,435.6L862,435.6L863,435.6L864,435.6L865,435.6L866,435.6L867,435.6L868,435.6L869,435.5L870,435.5L871,435.5L872,435.5L873,435.5L874,435.5L875,435.5L876,435.4L877,435.4L878,435.4L879,435.4L880,435.4L881,435.4L882,435.4L883,435.3L884,435.3L885,435.3L886,435.3L887,435.3L888,435.2L889,435.2L890,435.2L891,435.2L892,435.1L893,435.1L894,435.1L895,435.1L896,435L897,435L898,435L899,434.9L900,434.9L901,434.9L902,434.8L903,434.8L904,434.8L905,434.7L906,434.7L907,434.7L908,434.6L909,434.6L910,434.5L911,434.5L912,434.4L913,434.4L914,434.3L915,434.3L916,434.2L917,434.2L918,434.1L919,434L920,434L921,433.9L922,433.8L923,433.8L924,433.7L925,433.6L926,433.5L927,433.5L928,433.4L929,433.3L930,433.2L931,433.1L932,433L933,432.9L934,432.8L935,432.6L936,432.5L937,432.4L938,432.2L939,432.1L940,431.9L941,431.8L942,431.6L943,431.4L944,431.2L945,431L946,430.8L947,430.5L948,430.3L949,430L950,429.7L951,429.4L952,429L953,428.6L954,428.2L955,427.8L956,427.3L957,426.8L958,426.3L959,425.7L960,425.1L961,424.4L962,423.7L963,422.9L964,422L965,421.1L966,420.2L967,419.1L968,418L969,416.8L970,415.5L971,414.2L972,412.8L973,411.3L974,409.7L975,408L976,406.3L977,404.4L978,402.5L979,400.5L980,398.5L981,396.3L982,394.1L983,391.9L984,389.6L985,387.3L986,384.9L987,382.6L988,380.3L989,378L990,375.8L991,373.7L992,371.8L993,369.9L994,368.3L995,366.9L996,365.7L997,364.8L998,364.2L999,363.9L1000,363.9L1001,364.2L1002,364.9L1003,365.8L1004,367L1005,368.4L1006,370L1007,371.8L1008,373.8L1009,375.9L1010,378.1L1011,380.4L1012,382.7L1013,385.1L1014,387.4L1015,389.8L1016,392.1L1017,394.3L1018,396.5L1019,398.7L1020,400.7L1021,402.7L1022,404.7L1023,406.5L1024,408.3L1025,410L1026,411.6L1027,413.1L1028,414.5L1029,415.9L1030,417.1L1031,418.3L1032,419.5L1033,420.5L1034,421.5L1035,422.4L1036,423.3L1037,424.1L1038,424.8L1039,425.5L1040,426.1L1041,426.7L1042,427.3L1043,427.8L1044,428.3L1045,428.7L1046,429.1L1047,429.5L1048,429.9L1049,430.2L1050,430.5L1051,430.8L1052,431.1L1053,431.3L1054,431.6L1055,431.8L1056,432L1057,432.2L1058,432.4L1059,432.6L1060,432.7L1061,432.9L1062,433L1063,433.2L1064,433.3L1065,433.5L1066,433.6L1067,433.7L1068,433.8L1069,433.9L1070,434L1071,434.1L1072,434.2L1073,434.3L1074,434.4L1075,434.5L1076,434.6L1077,434.7L1078,434.8L1079,434.8L1080,434.9L1081,435L1082,435L1083,435.1L1084,435.2L1085,435.2L1086,435.3L1087,435.4L1088,435.4L1089,435.5L1090,435.5L1091,435.6L1092,435.6L1093,435.7L1094,435.7L1095,435.8L1096,435.8L1097,435.9L1098,435.9L1099,436L1100,436L1101,436.1L1102,436.1L1103,436.1L1104,436.2L1105,436.2L1106,436.2L1107,436.3L1108,436.3L1109,436.4L1110,436.4L1111,436.4L1112,436.4L1113,436.5L1114,436.5L1115,436.5" fill="none" stroke="#2b4ea6" stroke-width="2.1"/><path d="M795,435.2L796,435.1L797,435.1L798,435.1L799,435.1L800,435.1L801,435.1L802,435.1L803,435.1L804,435.1L805,435.1L806,435.1L807,435L808,435L809,435L810,435L811,435L812,435L813,435L814,435L815,434.9L816,434.9L817,434.9L818,434.9L819,434.9L820,434.9L821,434.9L822,434.8L823,434.8L824,434.8L825,434.8L826,434.8L827,434.7L828,434.7L829,434.7L830,434.7L831,434.7L832,434.7L833,434.6L834,434.6L835,434.6L836,434.6L837,434.5L838,434.5L839,434.5L840,434.5L841,434.4L842,434.4L843,434.4L844,434.3L845,434.3L846,434.3L847,434.3L848,434.2L849,434.2L850,434.1L851,434.1L852,434.1L853,434L854,434L855,434L856,433.9L857,433.9L858,433.8L859,433.8L860,433.7L861,433.7L862,433.6L863,433.6L864,433.5L865,433.4L866,433.4L867,433.3L868,433.2L869,433.2L870,433.1L871,433L872,432.9L873,432.9L874,432.8L875,432.7L876,432.6L877,432.5L878,432.4L879,432.3L880,432.1L881,432L882,431.9L883,431.8L884,431.6L885,431.5L886,431.3L887,431.2L888,431L889,430.8L890,430.6L891,430.4L892,430.2L893,430L894,429.8L895,429.5L896,429.3L897,429L898,428.8L899,428.5L900,428.2L901,427.9L902,427.6L903,427.2L904,426.9L905,426.5L906,426.1L907,425.7L908,425.3L909,424.9L910,424.5L911,424L912,423.5L913,423L914,422.5L915,422L916,421.4L917,420.9L918,420.3L919,419.7L920,419.1L921,418.4L922,417.8L923,417.1L924,416.4L925,415.7L926,415L927,414.3L928,413.5L929,412.7L930,412L931,411.2L932,410.4L933,409.5L934,408.7L935,407.9L936,407L937,406.2L938,405.4L939,404.5L940,403.7L941,402.8L942,402L943,401.2L944,400.4L945,399.6L946,398.8L947,398L948,397.3L949,396.6L950,395.9L951,395.3L952,394.7L953,394.1L954,393.6L955,393.2L956,392.8L957,392.5L958,392.2L959,392L960,391.8L961,391.7L962,391.7L963,391.7L964,391.8L965,392L966,392.2L967,392.5L968,392.9L969,393.3L970,393.7L971,394.2L972,394.8L973,395.4L974,396L975,396.7L976,397.4L977,398.2L978,398.9L979,399.7L980,400.5L981,401.4L982,402.2L983,403L984,403.9L985,404.8L986,405.6L987,406.5L988,407.3L989,408.2L990,409L991,409.8L992,410.7L993,411.5L994,412.3L995,413.1L996,413.9L997,414.6L998,415.4L999,416.1L1000,416.8L1001,417.5L1002,418.2L1003,418.9L1004,419.5L1005,420.1L1006,420.8L1007,421.3L1008,421.9L1009,422.5L1010,423L1011,423.5L1012,424.1L1013,424.5L1014,425L1015,425.5L1016,425.9L1017,426.3L1018,426.7L1019,427.1L1020,427.5L1021,427.9L1022,428.2L1023,428.5L1024,428.9L1025,429.2L1026,429.4L1027,429.7L1028,430L1029,430.3L1030,430.5L1031,430.7L1032,431L1033,431.2L1034,431.4L1035,431.6L1036,431.8L1037,431.9L1038,432.1L1039,432.3L1040,432.4L1041,432.6L1042,432.7L1043,432.9L1044,433L1045,433.1L1046,433.3L1047,433.4L1048,433.5L1049,433.6L1050,433.7L1051,433.8L1052,433.9L1053,434L1054,434.1L1055,434.2L1056,434.2L1057,434.3L1058,434.4L1059,434.5L1060,434.5L1061,434.6L1062,434.7L1063,434.7L1064,434.8L1065,434.9L1066,434.9L1067,435L1068,435L1069,435.1L1070,435.1L1071,435.2L1072,435.2L1073,435.3L1074,435.3L1075,435.4L1076,435.4L1077,435.5L1078,435.5L1079,435.6L1080,435.6L1081,435.6L1082,435.7L1083,435.7L1084,435.8L1085,435.8L1086,435.8L1087,435.9L1088,435.9L1089,435.9L1090,436L1091,436L1092,436L1093,436.1L1094,436.1L1095,436.1L1096,436.2L1097,436.2L1098,436.2L1099,436.2L1100,436.3L1101,436.3L1102,436.3L1103,436.4L1104,436.4L1105,436.4L1106,436.4L1107,436.5L1108,436.5L1109,436.5L1110,436.5L1111,436.6L1112,436.6L1113,436.6L1114,436.6L1115,436.6" fill="none" stroke="#2b4ea6" stroke-width="2.1"/><path d="M795,435.3C804,434.9 834.9,433.6 848.7,432.6C862.5,431.6 869.5,430.5 878,429.3C886.5,428.1 893.5,427.9 900,425.2C906.5,422.5 911.3,417.6 917,413.3C922.7,409.1 928.3,404.5 934,399.7C939.7,394.9 945.9,389.5 951,384.4C956.1,379.3 960.4,373.6 964.7,369C969,364.4 973.2,360.2 976.6,357C980,353.8 982.3,351.7 985,350C987.7,348.3 990.5,347.4 992.8,347C995.1,346.6 996.9,347 998.7,347.8C1000.5,348.6 1001,348.5 1003.8,352C1006.6,355.5 1011.7,362.5 1015.7,369C1019.7,375.5 1024.3,384.4 1027.7,391.2C1031.1,398 1033.4,404.6 1036.2,410C1039,415.4 1040.7,419.6 1044.7,423.5C1048.7,427.4 1055,431.5 1060,433.7C1065,435.9 1065.8,435.9 1075,436.5C1084.2,437.1 1108.3,437.3 1115,437.5" fill="none" stroke="#3c3c3c" stroke-width="2.1"/><path d="M795,435.7C804,435.3 834.9,434.2 848.7,433.3C862.5,432.4 869.5,431.5 878,430.4C886.5,429.3 893.5,429.1 900,426.5C906.5,423.9 911.3,419.2 917,415C922.7,410.8 928.3,406.2 934,401.4C939.7,396.6 945.9,390.8 951,386C956.1,381.2 960.4,376.8 964.7,372.5C969,368.2 972.9,364.3 976.6,360.5C980.3,356.7 984.3,352.2 987,349.5C989.7,346.8 991.3,345.2 993,344C994.7,342.8 995.7,342.4 997,342.5C998.3,342.6 999,342.1 1001,344.5C1003,346.9 1006,351.2 1009,357C1012,362.8 1015.6,371.9 1019,379.3C1022.4,386.7 1026,394.6 1029.4,401.4C1032.8,408.2 1035.7,415.6 1039.6,420.2C1043.5,424.8 1049.6,427 1053,428.7C1056.4,430.4 1056.3,429.8 1060,430.6C1063.7,431.4 1069.2,432.7 1075,433.6C1080.8,434.5 1088.3,435.3 1095,435.8C1101.7,436.3 1111.7,436.6 1115,436.8" fill="none" stroke="#e04a55" stroke-width="2.1"/><line x1="795" y1="546.8" x2="1115" y2="549.5" stroke="#6cc04a" stroke-width="1.8"/><path d="M795,547.8L1115,551.5" stroke="#2b4ea6" stroke-width="2.6" fill="none"/><path d="M795,547.5L796,547.5L797,547.5L798,547.6L799,547.6L800,547.6L801,547.6L802,547.6L803,547.6L804,547.6L805,547.6L806,547.6L807,547.6L808,547.6L809,547.7L810,547.7L811,547.7L812,547.7L813,547.7L814,547.7L815,547.7L816,547.7L817,547.7L818,547.7L819,547.7L820,547.7L821,547.8L822,547.8L823,547.8L824,547.8L825,547.8L826,547.8L827,547.8L828,547.8L829,547.8L830,547.8L831,547.8L832,547.8L833,547.8L834,547.8L835,547.9L836,547.9L837,547.9L838,547.9L839,547.9L840,547.9L841,547.9L842,547.9L843,547.9L844,547.9L845,547.9L846,547.9L847,547.9L848,547.9L849,547.9L850,547.9L851,548L852,548L853,548L854,548L855,548L856,548L857,548L858,548L859,548L860,548L861,548L862,548L863,548L864,548L865,548L866,548L867,548L868,548L869,548L870,548L871,548L872,548L873,548L874,548L875,548L876,548L877,548L878,548L879,548L880,548L881,548L882,548L883,548L884,548L885,548L886,548L887,548L888,548L889,548L890,548L891,548L892,548L893,548L894,548L895,548L896,548L897,548L898,548L899,548L900,548L901,548L902,548L903,548L904,548L905,548L906,547.9L907,547.9L908,547.9L909,547.9L910,547.9L911,547.9L912,547.9L913,547.9L914,547.8L915,547.8L916,547.8L917,547.8L918,547.8L919,547.8L920,547.7L921,547.7L922,547.7L923,547.7L924,547.6L925,547.6L926,547.6L927,547.6L928,547.5L929,547.5L930,547.5L931,547.4L932,547.4L933,547.4L934,547.3L935,547.3L936,547.2L937,547.2L938,547.1L939,547.1L940,547L941,547L942,546.9L943,546.8L944,546.8L945,546.7L946,546.6L947,546.6L948,546.5L949,546.4L950,546.3L951,546.2L952,546.1L953,546L954,545.9L955,545.7L956,545.6L957,545.5L958,545.3L959,545.1L960,545L961,544.8L962,544.5L963,544.3L964,544.1L965,543.8L966,543.5L967,543.1L968,542.8L969,542.4L970,542L971,541.5L972,541L973,540.4L974,539.8L975,539.1L976,538.4L977,537.6L978,536.7L979,535.8L980,534.8L981,533.8L982,532.6L983,531.4L984,530L985,528.6L986,527.2L987,525.6L988,523.9L989,522.2L990,520.4L991,518.5L992,516.5L993,514.5L994,512.4L995,510.3L996,508.2L997,506.1L998,504L999,501.9L1000,499.9L1001,498L1002,496.2L1003,494.5L1004,493.1L1005,491.9L1006,490.9L1007,490.2L1008,489.9L1009,489.8L1010,490L1011,490.5L1012,491.4L1013,492.4L1014,493.8L1015,495.3L1016,497L1017,498.9L1018,500.9L1019,503L1020,505.1L1021,507.2L1022,509.4L1023,511.5L1024,513.6L1025,515.7L1026,517.7L1027,519.7L1028,521.5L1029,523.4L1030,525.1L1031,526.7L1032,528.3L1033,529.8L1034,531.2L1035,532.5L1036,533.7L1037,534.8L1038,535.9L1039,536.9L1040,537.8L1041,538.7L1042,539.5L1043,540.2L1044,540.9L1045,541.5L1046,542L1047,542.6L1048,543L1049,543.5L1050,543.9L1051,544.3L1052,544.6L1053,544.9L1054,545.2L1055,545.5L1056,545.7L1057,545.9L1058,546.2L1059,546.4L1060,546.6L1061,546.7L1062,546.9L1063,547L1064,547.2L1065,547.3L1066,547.5L1067,547.6L1068,547.7L1069,547.8L1070,547.9L1071,548L1072,548.1L1073,548.2L1074,548.3L1075,548.4L1076,548.5L1077,548.6L1078,548.6L1079,548.7L1080,548.8L1081,548.9L1082,548.9L1083,549L1084,549.1L1085,549.1L1086,549.2L1087,549.3L1088,549.3L1089,549.4L1090,549.4L1091,549.5L1092,549.5L1093,549.6L1094,549.6L1095,549.7L1096,549.7L1097,549.8L1098,549.8L1099,549.8L1100,549.9L1101,549.9L1102,550L1103,550L1104,550.1L1105,550.1L1106,550.1L1107,550.2L1108,550.2L1109,550.2L1110,550.3L1111,550.3L1112,550.3L1113,550.4L1114,550.4L1115,550.4" fill="none" stroke="#2b4ea6" stroke-width="2.1"/><path d="M795,547.2L796,547.2L797,547.2L798,547.3L799,547.3L800,547.3L801,547.3L802,547.3L803,547.3L804,547.3L805,547.3L806,547.3L807,547.3L808,547.3L809,547.3L810,547.3L811,547.3L812,547.3L813,547.3L814,547.3L815,547.3L816,547.3L817,547.3L818,547.3L819,547.3L820,547.3L821,547.4L822,547.4L823,547.4L824,547.4L825,547.4L826,547.4L827,547.4L828,547.4L829,547.4L830,547.4L831,547.4L832,547.4L833,547.4L834,547.4L835,547.4L836,547.4L837,547.4L838,547.4L839,547.4L840,547.4L841,547.4L842,547.4L843,547.4L844,547.4L845,547.4L846,547.4L847,547.4L848,547.4L849,547.4L850,547.4L851,547.3L852,547.3L853,547.3L854,547.3L855,547.3L856,547.3L857,547.3L858,547.3L859,547.3L860,547.3L861,547.3L862,547.3L863,547.3L864,547.3L865,547.3L866,547.3L867,547.2L868,547.2L869,547.2L870,547.2L871,547.2L872,547.2L873,547.2L874,547.2L875,547.1L876,547.1L877,547.1L878,547.1L879,547.1L880,547.1L881,547L882,547L883,547L884,547L885,547L886,546.9L887,546.9L888,546.9L889,546.9L890,546.8L891,546.8L892,546.8L893,546.7L894,546.7L895,546.7L896,546.6L897,546.6L898,546.6L899,546.5L900,546.5L901,546.4L902,546.4L903,546.4L904,546.3L905,546.3L906,546.2L907,546.1L908,546.1L909,546L910,546L911,545.9L912,545.8L913,545.7L914,545.7L915,545.6L916,545.5L917,545.4L918,545.3L919,545.2L920,545.1L921,545L922,544.8L923,544.7L924,544.6L925,544.4L926,544.3L927,544.1L928,543.9L929,543.7L930,543.5L931,543.3L932,543.1L933,542.8L934,542.5L935,542.3L936,542L937,541.6L938,541.3L939,540.9L940,540.6L941,540.2L942,539.7L943,539.3L944,538.8L945,538.3L946,537.7L947,537.1L948,536.5L949,535.9L950,535.2L951,534.5L952,533.8L953,533L954,532.2L955,531.4L956,530.5L957,529.6L958,528.7L959,527.7L960,526.7L961,525.6L962,524.5L963,523.4L964,522.3L965,521.1L966,519.9L967,518.7L968,517.5L969,516.2L970,515L971,513.7L972,512.5L973,511.2L974,510L975,508.7L976,507.6L977,506.4L978,505.3L979,504.2L980,503.2L981,502.3L982,501.5L983,500.7L984,500L985,499.5L986,499.1L987,498.8L988,498.6L989,498.5L990,498.6L991,498.8L992,499.2L993,499.6L994,500.2L995,500.8L996,501.6L997,502.5L998,503.4L999,504.4L1000,505.5L1001,506.7L1002,507.9L1003,509.1L1004,510.3L1005,511.6L1006,512.9L1007,514.1L1008,515.4L1009,516.7L1010,518L1011,519.2L1012,520.5L1013,521.7L1014,522.9L1015,524L1016,525.2L1017,526.3L1018,527.3L1019,528.4L1020,529.4L1021,530.3L1022,531.3L1023,532.2L1024,533L1025,533.9L1026,534.7L1027,535.4L1028,536.1L1029,536.8L1030,537.5L1031,538.1L1032,538.7L1033,539.3L1034,539.8L1035,540.3L1036,540.8L1037,541.3L1038,541.7L1039,542.1L1040,542.5L1041,542.8L1042,543.2L1043,543.5L1044,543.8L1045,544.1L1046,544.4L1047,544.6L1048,544.9L1049,545.1L1050,545.3L1051,545.5L1052,545.7L1053,545.9L1054,546.1L1055,546.2L1056,546.4L1057,546.5L1058,546.7L1059,546.8L1060,546.9L1061,547.1L1062,547.2L1063,547.3L1064,547.4L1065,547.5L1066,547.6L1067,547.7L1068,547.8L1069,547.9L1070,548L1071,548L1072,548.1L1073,548.2L1074,548.3L1075,548.3L1076,548.4L1077,548.5L1078,548.5L1079,548.6L1080,548.7L1081,548.7L1082,548.8L1083,548.9L1084,548.9L1085,549L1086,549L1087,549.1L1088,549.1L1089,549.2L1090,549.2L1091,549.3L1092,549.3L1093,549.4L1094,549.4L1095,549.5L1096,549.5L1097,549.5L1098,549.6L1099,549.6L1100,549.7L1101,549.7L1102,549.7L1103,549.8L1104,549.8L1105,549.9L1106,549.9L1107,549.9L1108,550L1109,550L1110,550L1111,550.1L1112,550.1L1113,550.1L1114,550.2L1115,550.2" fill="none" stroke="#2b4ea6" stroke-width="2.1"/><path d="M795,547.6L796,547.7L797,547.7L798,547.7L799,547.7L800,547.7L801,547.7L802,547.7L803,547.7L804,547.7L805,547.7L806,547.7L807,547.8L808,547.8L809,547.8L810,547.8L811,547.8L812,547.8L813,547.8L814,547.8L815,547.8L816,547.8L817,547.8L818,547.8L819,547.9L820,547.9L821,547.9L822,547.9L823,547.9L824,547.9L825,547.9L826,547.9L827,547.9L828,547.9L829,547.9L830,547.9L831,547.9L832,548L833,548L834,548L835,548L836,548L837,548L838,548L839,548L840,548L841,548L842,548L843,548L844,548L845,548L846,548L847,548L848,548L849,548.1L850,548.1L851,548.1L852,548.1L853,548.1L854,548.1L855,548.1L856,548.1L857,548.1L858,548.1L859,548.1L860,548.1L861,548.1L862,548.1L863,548.1L864,548.1L865,548.1L866,548.1L867,548.1L868,548.1L869,548.1L870,548.1L871,548.1L872,548.1L873,548.1L874,548.1L875,548.1L876,548.1L877,548.1L878,548L879,548L880,548L881,548L882,548L883,548L884,548L885,548L886,548L887,547.9L888,547.9L889,547.9L890,547.9L891,547.9L892,547.8L893,547.8L894,547.8L895,547.8L896,547.7L897,547.7L898,547.6L899,547.6L900,547.6L901,547.5L902,547.4L903,547.4L904,547.3L905,547.2L906,547.2L907,547.1L908,547L909,546.8L910,546.7L911,546.6L912,546.4L913,546.3L914,546.1L915,545.9L916,545.7L917,545.4L918,545.2L919,544.9L920,544.6L921,544.2L922,543.9L923,543.5L924,543.1L925,542.6L926,542.2L927,541.7L928,541.1L929,540.6L930,540L931,539.4L932,538.7L933,538.1L934,537.4L935,536.7L936,536L937,535.3L938,534.6L939,534L940,533.3L941,532.7L942,532.1L943,531.5L944,531.1L945,530.7L946,530.4L947,530.2L948,530.1L949,530.1L950,530.2L951,530.4L952,530.7L953,531.1L954,531.6L955,532.1L956,532.7L957,533.4L958,534L959,534.7L960,535.5L961,536.2L962,536.9L963,537.6L964,538.3L965,539L966,539.6L967,540.3L968,540.9L969,541.5L970,542L971,542.6L972,543.1L973,543.6L974,544L975,544.4L976,544.8L977,545.2L978,545.5L979,545.8L980,546.1L981,546.4L982,546.6L983,546.8L984,547L985,547.2L986,547.4L987,547.6L988,547.7L989,547.9L990,548L991,548.1L992,548.2L993,548.3L994,548.4L995,548.5L996,548.6L997,548.7L998,548.7L999,548.8L1000,548.9L1001,548.9L1002,549L1003,549L1004,549.1L1005,549.1L1006,549.2L1007,549.2L1008,549.3L1009,549.3L1010,549.4L1011,549.4L1012,549.4L1013,549.5L1014,549.5L1015,549.5L1016,549.6L1017,549.6L1018,549.6L1019,549.7L1020,549.7L1021,549.7L1022,549.8L1023,549.8L1024,549.8L1025,549.8L1026,549.9L1027,549.9L1028,549.9L1029,549.9L1030,550L1031,550L1032,550L1033,550L1034,550.1L1035,550.1L1036,550.1L1037,550.1L1038,550.2L1039,550.2L1040,550.2L1041,550.2L1042,550.2L1043,550.3L1044,550.3L1045,550.3L1046,550.3L1047,550.3L1048,550.4L1049,550.4L1050,550.4L1051,550.4L1052,550.4L1053,550.4L1054,550.5L1055,550.5L1056,550.5L1057,550.5L1058,550.5L1059,550.5L1060,550.6L1061,550.6L1062,550.6L1063,550.6L1064,550.6L1065,550.6L1066,550.7L1067,550.7L1068,550.7L1069,550.7L1070,550.7L1071,550.7L1072,550.8L1073,550.8L1074,550.8L1075,550.8L1076,550.8L1077,550.8L1078,550.9L1079,550.9L1080,550.9L1081,550.9L1082,550.9L1083,550.9L1084,550.9L1085,551L1086,551L1087,551L1088,551L1089,551L1090,551L1091,551L1092,551.1L1093,551.1L1094,551.1L1095,551.1L1096,551.1L1097,551.1L1098,551.1L1099,551.1L1100,551.2L1101,551.2L1102,551.2L1103,551.2L1104,551.2L1105,551.2L1106,551.2L1107,551.3L1108,551.3L1109,551.3L1110,551.3L1111,551.3L1112,551.3L1113,551.3L1114,551.4L1115,551.4" fill="none" stroke="#2b4ea6" stroke-width="2.1"/><path d="M795,547.6L796,547.6L797,547.6L798,547.7L799,547.7L800,547.7L801,547.7L802,547.7L803,547.7L804,547.7L805,547.7L806,547.7L807,547.7L808,547.7L809,547.7L810,547.7L811,547.7L812,547.7L813,547.7L814,547.7L815,547.7L816,547.7L817,547.7L818,547.7L819,547.7L820,547.7L821,547.7L822,547.7L823,547.7L824,547.7L825,547.7L826,547.7L827,547.7L828,547.7L829,547.6L830,547.6L831,547.6L832,547.6L833,547.6L834,547.5L835,547.5L836,547.5L837,547.4L838,547.4L839,547.3L840,547.2L841,547.2L842,547.1L843,547L844,546.9L845,546.7L846,546.6L847,546.5L848,546.3L849,546.1L850,545.9L851,545.7L852,545.5L853,545.3L854,545L855,544.7L856,544.4L857,544.2L858,543.9L859,543.6L860,543.2L861,542.9L862,542.6L863,542.4L864,542.1L865,541.9L866,541.7L867,541.5L868,541.4L869,541.4L870,541.4L871,541.4L872,541.6L873,541.7L874,541.9L875,542.2L876,542.5L877,542.8L878,543.1L879,543.4L880,543.7L881,544.1L882,544.4L883,544.7L884,545L885,545.3L886,545.6L887,545.8L888,546.1L889,546.3L890,546.6L891,546.8L892,546.9L893,547.1L894,547.3L895,547.4L896,547.6L897,547.7L898,547.8L899,547.9L900,548L901,548.1L902,548.1L903,548.2L904,548.3L905,548.3L906,548.4L907,548.4L908,548.5L909,548.5L910,548.6L911,548.6L912,548.7L913,548.7L914,548.7L915,548.8L916,548.8L917,548.8L918,548.8L919,548.9L920,548.9L921,548.9L922,548.9L923,549L924,549L925,549L926,549L927,549L928,549.1L929,549.1L930,549.1L931,549.1L932,549.1L933,549.2L934,549.2L935,549.2L936,549.2L937,549.2L938,549.3L939,549.3L940,549.3L941,549.3L942,549.3L943,549.3L944,549.4L945,549.4L946,549.4L947,549.4L948,549.4L949,549.4L950,549.4L951,549.5L952,549.5L953,549.5L954,549.5L955,549.5L956,549.5L957,549.5L958,549.6L959,549.6L960,549.6L961,549.6L962,549.6L963,549.6L964,549.6L965,549.7L966,549.7L967,549.7L968,549.7L969,549.7L970,549.7L971,549.7L972,549.8L973,549.8L974,549.8L975,549.8L976,549.8L977,549.8L978,549.8L979,549.8L980,549.9L981,549.9L982,549.9L983,549.9L984,549.9L985,549.9L986,549.9L987,549.9L988,550L989,550L990,550L991,550L992,550L993,550L994,550L995,550.1L996,550.1L997,550.1L998,550.1L999,550.1L1000,550.1L1001,550.1L1002,550.1L1003,550.2L1004,550.2L1005,550.2L1006,550.2L1007,550.2L1008,550.2L1009,550.2L1010,550.2L1011,550.2L1012,550.3L1013,550.3L1014,550.3L1015,550.3L1016,550.3L1017,550.3L1018,550.3L1019,550.3L1020,550.4L1021,550.4L1022,550.4L1023,550.4L1024,550.4L1025,550.4L1026,550.4L1027,550.4L1028,550.5L1029,550.5L1030,550.5L1031,550.5L1032,550.5L1033,550.5L1034,550.5L1035,550.5L1036,550.6L1037,550.6L1038,550.6L1039,550.6L1040,550.6L1041,550.6L1042,550.6L1043,550.6L1044,550.6L1045,550.7L1046,550.7L1047,550.7L1048,550.7L1049,550.7L1050,550.7L1051,550.7L1052,550.7L1053,550.8L1054,550.8L1055,550.8L1056,550.8L1057,550.8L1058,550.8L1059,550.8L1060,550.8L1061,550.8L1062,550.9L1063,550.9L1064,550.9L1065,550.9L1066,550.9L1067,550.9L1068,550.9L1069,550.9L1070,551L1071,551L1072,551L1073,551L1074,551L1075,551L1076,551L1077,551L1078,551L1079,551.1L1080,551.1L1081,551.1L1082,551.1L1083,551.1L1084,551.1L1085,551.1L1086,551.1L1087,551.2L1088,551.2L1089,551.2L1090,551.2L1091,551.2L1092,551.2L1093,551.2L1094,551.2L1095,551.2L1096,551.3L1097,551.3L1098,551.3L1099,551.3L1100,551.3L1101,551.3L1102,551.3L1103,551.3L1104,551.4L1105,551.4L1106,551.4L1107,551.4L1108,551.4L1109,551.4L1110,551.4L1111,551.4L1112,551.4L1113,551.5L1114,551.5L1115,551.5" fill="none" stroke="#2b4ea6" stroke-width="2.1"/><path d="M795,547.2C799.8,547.1 815.3,547.1 823.6,546.4C831.9,545.7 838.9,544.4 845,543C851.1,541.6 856,539 860,537.8C864,536.6 865.7,536 869,535.8C872.3,535.6 876.5,536.3 880,536.6C883.5,536.9 886.7,537.6 890,537.6C893.3,537.6 896.3,537.6 900,536.9C903.7,536.2 908.2,534.8 912.2,533.2C916.2,531.6 920.2,529.7 924.3,527.1C928.3,524.5 932.5,521 936.5,517.4C940.5,513.8 944.6,508.8 948.6,505.3C952.6,501.9 956.9,500.1 960.8,496.7C964.6,493.2 968.6,488.1 971.7,484.6C974.8,481.1 977.1,478.6 979.4,475.8C981.7,473.1 983.2,470.9 985.3,468.1C987.4,465.4 989.8,461.8 992.1,459.3C994.4,456.8 996.7,454.4 999,453C1001.3,451.6 1003.9,450.9 1005.7,450.6C1007.5,450.4 1008.5,450.9 1010,451.5C1011.5,452.1 1013.1,452.6 1014.5,454.4C1015.9,456.2 1016.8,458.7 1018.3,462.2C1019.8,465.7 1020.9,469.2 1023.5,475.5C1026.1,481.8 1030.7,492.4 1033.7,499.8C1036.8,507.2 1039.1,514.4 1041.8,520.1C1044.5,525.8 1047.2,530.4 1049.9,534.2C1052.6,538 1055,540.7 1058,543C1061,545.3 1063.5,546.8 1068,548C1072.5,549.2 1077.2,549.5 1085,550C1092.8,550.5 1110,550.8 1115,551" fill="none" stroke="#3c3c3c" stroke-width="2.1"/><path d="M795,547.2C799.8,547.1 815.3,547.1 823.6,546.4C831.9,545.7 838.9,544.4 845,543C851.1,541.6 856,539 860,537.8C864,536.6 865.7,536 869,535.8C872.3,535.6 876.5,536.3 880,536.6C883.5,536.9 886.7,537.6 890,537.6C893.3,537.6 896.3,537.6 900,536.9C903.7,536.2 908.2,534.8 912.2,533.2C916.2,531.6 920.2,529.7 924.3,527.1C928.3,524.5 932.5,521 936.5,517.4C940.5,513.8 944.6,508.8 948.6,505.3C952.6,501.9 956.9,500.1 960.8,496.7C964.6,493.2 968.6,488.1 971.7,484.6C974.8,481.1 977.1,478.6 979.4,475.8C981.7,473.1 983.3,471 985.3,468.1C987.2,465.2 989.1,461.4 991.1,458.3C993.1,455.2 994.9,451.9 997,449.6C999.1,447.3 1001.9,445.2 1003.8,444.7C1005.7,444.2 1007.1,445.6 1008.6,446.7C1010.1,447.8 1011.2,448.9 1012.5,451.5C1013.8,454.1 1015.2,458.4 1016.4,462.2C1017.6,466 1017.6,468.7 1019.8,474.5C1022,480.3 1026.6,490.4 1029.6,497C1032.6,503.6 1035,509.1 1037.7,514C1040.4,518.9 1043.1,523 1045.8,526.2C1048.5,529.5 1051.2,531.5 1053.9,533.5C1056.6,535.5 1057.5,536.5 1062,538.5C1066.5,540.5 1074.7,543.8 1081,545.3C1087.3,546.8 1094.3,547 1100,547.6C1105.7,548.2 1112.5,548.4 1115,548.6" fill="none" stroke="#e04a55" stroke-width="2.1"/></g><rect x="794.5" y="310" width="320.1" height="258.1" fill="none" stroke="#222" stroke-width="1.3"/><line x1="1083.2" y1="568.1" x2="1083.2" y2="562.1" stroke="#222" stroke-width="1.2"/><line x1="1051.1" y1="568.1" x2="1051.1" y2="565.1" stroke="#222" stroke-width="1.2"/><line x1="1019" y1="568.1" x2="1019" y2="562.1" stroke="#222" stroke-width="1.2"/><line x1="986.8" y1="568.1" x2="986.8" y2="565.1" stroke="#222" stroke-width="1.2"/><line x1="954.7" y1="568.1" x2="954.7" y2="562.1" stroke="#222" stroke-width="1.2"/><line x1="922.6" y1="568.1" x2="922.6" y2="565.1" stroke="#222" stroke-width="1.2"/><line x1="890.5" y1="568.1" x2="890.5" y2="562.1" stroke="#222" stroke-width="1.2"/><line x1="858.4" y1="568.1" x2="858.4" y2="565.1" stroke="#222" stroke-width="1.2"/><line x1="826.3" y1="568.1" x2="826.3" y2="562.1" stroke="#222" stroke-width="1.2"/><text transform="translate(826.3,587.1) scale(1.0,1.08)" font-size="16.2" fill="#111" text-anchor="middle" >290</text><text transform="translate(890.5,587.1) scale(1.0,1.08)" font-size="16.2" fill="#111" text-anchor="middle" >288</text><text transform="translate(954.7,587.1) scale(1.0,1.08)" font-size="16.2" fill="#111" text-anchor="middle" >286</text><text transform="translate(1019,587.1) scale(1.0,1.08)" font-size="16.2" fill="#111" text-anchor="middle" >284</text><text transform="translate(1083.2,587.1) scale(1.0,1.08)" font-size="16.2" fill="#111" text-anchor="middle" >282</text><text transform="translate(872.4,606.2) scale(1.0,1.04)" font-size="19.5" fill="#111" text-anchor="start" >Binding Energy (eV)</text><text transform="translate(782,442) rotate(-90)" font-size="19.8" fill="#111" text-anchor="middle">Intensity (a. u.)</text><text transform="translate(801.5,333.3) scale(1.0,1.08)" font-size="17" fill="#111" text-anchor="start" >amorphous carbon monolayer</text><text transform="translate(798,456.8) scale(1.0,1.08)" font-size="17" fill="#111" text-anchor="start" >DMMC<tspan font-size="11.5" dy="3.8">60</tspan><tspan dy="-3.8"> monolayer</tspan></text><text transform="translate(864.3,490.8) scale(1.0,1.08)" font-size="17" fill="#111" text-anchor="middle" >C=O</text><text transform="translate(864.5,510.6) scale(1.0,1.08)" font-size="17" fill="#111" text-anchor="middle" >(288.5)</text><text transform="translate(924,482.2) scale(1.0,1.08)" font-size="17" fill="#111" text-anchor="middle" >C-O</text><text transform="translate(924.7,503.8) scale(1.0,1.08)" font-size="17" fill="#111" text-anchor="middle" >(286.2)</text><line x1="869" y1="515" x2="869" y2="528" stroke="#000" stroke-width="1.6"/><path d="M864.5,524 L869,534 L873.5,524 L869,527 Z" fill="#000"/><line x1="929.6" y1="505" x2="938" y2="520.5" stroke="#000" stroke-width="1.6"/><path d="M932.5,520 L941,527 L940.5,516 L937.5,519.5 Z" fill="#000"/></svg></body></html>
